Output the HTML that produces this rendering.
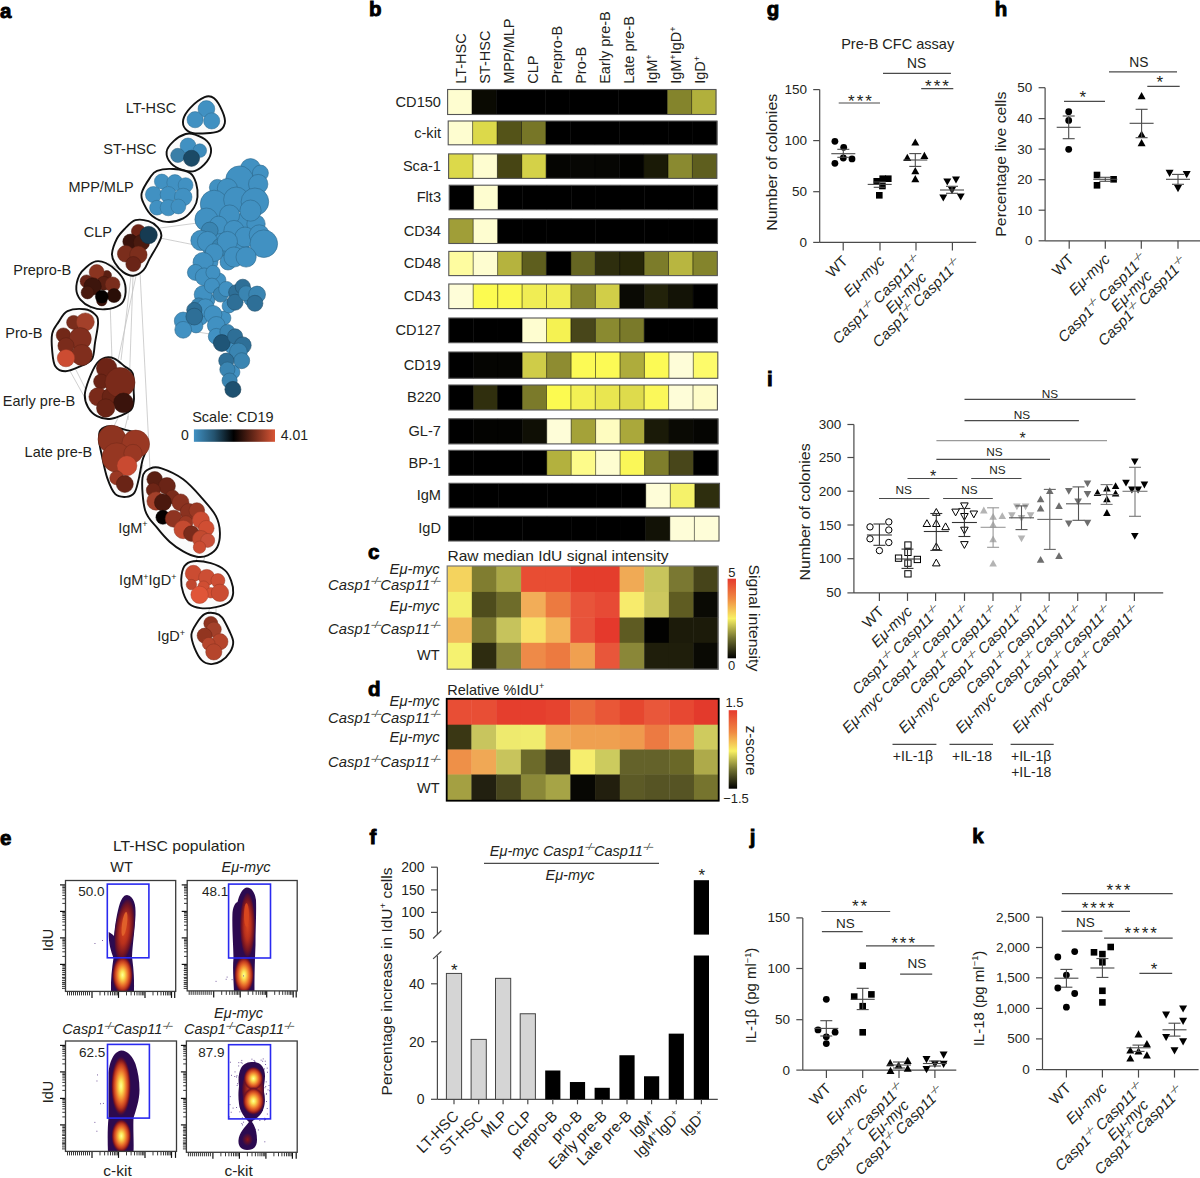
<!DOCTYPE html>
<html><head><meta charset="utf-8"><title>Figure</title>
<style>
html,body{margin:0;padding:0;background:#fff;width:1200px;height:1178px;overflow:hidden;}
svg{display:block;font-family:"Liberation Sans",sans-serif;}
</style></head><body>
<svg width="1200" height="1178" viewBox="0 0 1200 1178">
<rect width="1200" height="1178" fill="#fff"/>
<text x="0.0" y="18.4" font-size="20.5" font-weight="bold" fill="#000" stroke="#000" stroke-width="0.9">a</text>
<line x1="197.0" y1="133.0" x2="193.0" y2="136.0" stroke="#c4c4c4" stroke-width="0.8"/>
<line x1="190.0" y1="170.0" x2="185.0" y2="171.0" stroke="#c4c4c4" stroke-width="0.8"/>
<line x1="176.0" y1="170.0" x2="172.0" y2="168.0" stroke="#c4c4c4" stroke-width="0.8"/>
<line x1="160.0" y1="228.0" x2="205.0" y2="222.0" stroke="#c4c4c4" stroke-width="0.8"/>
<line x1="160.0" y1="238.0" x2="200.0" y2="246.0" stroke="#c4c4c4" stroke-width="0.8"/>
<line x1="196.0" y1="213.0" x2="205.0" y2="218.0" stroke="#c4c4c4" stroke-width="0.8"/>
<line x1="125.0" y1="272.0" x2="108.0" y2="263.0" stroke="#c4c4c4" stroke-width="0.8"/>
<line x1="133.0" y1="276.0" x2="128.0" y2="420.0" stroke="#c4c4c4" stroke-width="0.8"/>
<line x1="140.0" y1="272.0" x2="150.0" y2="468.0" stroke="#c4c4c4" stroke-width="0.8"/>
<line x1="131.0" y1="276.0" x2="121.0" y2="360.0" stroke="#c4c4c4" stroke-width="0.8"/>
<line x1="136.0" y1="276.0" x2="117.0" y2="365.0" stroke="#c4c4c4" stroke-width="0.8"/>
<line x1="90.0" y1="308.0" x2="95.0" y2="316.0" stroke="#c4c4c4" stroke-width="0.8"/>
<line x1="70.0" y1="371.0" x2="95.0" y2="416.0" stroke="#c4c4c4" stroke-width="0.8"/>
<line x1="75.0" y1="368.0" x2="100.0" y2="418.0" stroke="#c4c4c4" stroke-width="0.8"/>
<line x1="110.0" y1="300.0" x2="112.0" y2="360.0" stroke="#c4c4c4" stroke-width="0.8"/>
<line x1="118.0" y1="418.0" x2="112.0" y2="430.0" stroke="#c4c4c4" stroke-width="0.8"/>
<line x1="128.0" y1="416.0" x2="125.0" y2="428.0" stroke="#c4c4c4" stroke-width="0.8"/>
<line x1="140.0" y1="478.0" x2="143.0" y2="465.0" stroke="#c4c4c4" stroke-width="0.8"/>
<line x1="198.0" y1="556.0" x2="195.0" y2="563.0" stroke="#c4c4c4" stroke-width="0.8"/>
<line x1="205.0" y1="556.0" x2="203.0" y2="563.0" stroke="#c4c4c4" stroke-width="0.8"/>
<line x1="210.0" y1="607.0" x2="208.0" y2="614.0" stroke="#c4c4c4" stroke-width="0.8"/>
<line x1="216.0" y1="607.0" x2="216.0" y2="614.0" stroke="#c4c4c4" stroke-width="0.8"/>
<line x1="185.0" y1="330.0" x2="210.0" y2="334.0" stroke="#c4c4c4" stroke-width="0.8"/>
<circle cx="225.0" cy="200.0" r="11.5" fill="#4191c2" stroke="#2e688b" stroke-width="0.6"/>
<circle cx="245.0" cy="192.0" r="10.3" fill="#4191c2" stroke="#2e688b" stroke-width="0.6"/>
<circle cx="246.0" cy="222.0" r="10.3" fill="#4191c2" stroke="#2e688b" stroke-width="0.6"/>
<circle cx="222.0" cy="236.0" r="9.2" fill="#4191c2" stroke="#2e688b" stroke-width="0.6"/>
<circle cx="240.0" cy="247.0" r="9.2" fill="#4191c2" stroke="#2e688b" stroke-width="0.6"/>
<circle cx="256.0" cy="224.0" r="9.2" fill="#4191c2" stroke="#2e688b" stroke-width="0.6"/>
<circle cx="215.0" cy="214.0" r="9.2" fill="#4191c2" stroke="#2e688b" stroke-width="0.6"/>
<circle cx="228.0" cy="262.0" r="8.0" fill="#4191c2" stroke="#2e688b" stroke-width="0.6"/>
<circle cx="210.0" cy="262.0" r="8.0" fill="#4191c2" stroke="#2e688b" stroke-width="0.6"/>
<circle cx="208.0" cy="300.0" r="6.9" fill="#4191c2" stroke="#2e688b" stroke-width="0.6"/>
<circle cx="201.0" cy="318.0" r="6.9" fill="#4191c2" stroke="#2e688b" stroke-width="0.6"/>
<circle cx="224.0" cy="318.0" r="6.9" fill="#4191c2" stroke="#2e688b" stroke-width="0.6"/>
<circle cx="232.0" cy="347.0" r="6.9" fill="#4191c2" stroke="#2e688b" stroke-width="0.6"/>
<circle cx="233.0" cy="372.0" r="6.9" fill="#4191c2" stroke="#2e688b" stroke-width="0.6"/>
<circle cx="229.0" cy="306.0" r="6.9" fill="#4191c2" stroke="#2e688b" stroke-width="0.6"/>
<circle cx="219.0" cy="280.0" r="6.9" fill="#4191c2" stroke="#2e688b" stroke-width="0.6"/>
<circle cx="250.0" cy="300.0" r="5.8" fill="#4191c2" stroke="#2e688b" stroke-width="0.6"/>
<circle cx="196.0" cy="326.0" r="6.9" fill="#4191c2" stroke="#2e688b" stroke-width="0.6"/>
<circle cx="212.0" cy="248.0" r="9.2" fill="#4191c2" stroke="#2e688b" stroke-width="0.6"/>
<circle cx="250.5" cy="168.7" r="10.1" fill="#4191c2" stroke="#2e688b" stroke-width="0.6"/>
<circle cx="260.4" cy="173.1" r="8.0" fill="#4191c2" stroke="#2e688b" stroke-width="0.6"/>
<circle cx="239.5" cy="179.7" r="13.8" fill="#4191c2" stroke="#2e688b" stroke-width="0.6"/>
<circle cx="258.2" cy="184.1" r="9.7" fill="#4191c2" stroke="#2e688b" stroke-width="0.6"/>
<circle cx="217.4" cy="187.4" r="8.0" fill="#4191c2" stroke="#2e688b" stroke-width="0.6"/>
<circle cx="227.4" cy="188.6" r="10.1" fill="#4191c2" stroke="#2e688b" stroke-width="0.6"/>
<circle cx="214.1" cy="204.0" r="13.8" fill="#4191c2" stroke="#2e688b" stroke-width="0.6"/>
<circle cx="236.2" cy="199.6" r="12.6" fill="#4191c2" stroke="#2e688b" stroke-width="0.6"/>
<circle cx="254.9" cy="201.8" r="13.8" fill="#4191c2" stroke="#2e688b" stroke-width="0.6"/>
<circle cx="250.5" cy="210.6" r="10.6" fill="#4191c2" stroke="#2e688b" stroke-width="0.6"/>
<circle cx="206.4" cy="219.5" r="11.5" fill="#4191c2" stroke="#2e688b" stroke-width="0.6"/>
<circle cx="229.6" cy="215.0" r="10.1" fill="#4191c2" stroke="#2e688b" stroke-width="0.6"/>
<circle cx="218.5" cy="225.0" r="8.9" fill="#4191c2" stroke="#2e688b" stroke-width="0.6"/>
<circle cx="209.7" cy="230.5" r="8.4" fill="#3a85b2" stroke="#295f80" stroke-width="0.6"/>
<circle cx="234.0" cy="230.5" r="10.1" fill="#4191c2" stroke="#2e688b" stroke-width="0.6"/>
<circle cx="245.0" cy="237.1" r="10.1" fill="#4191c2" stroke="#2e688b" stroke-width="0.6"/>
<circle cx="259.3" cy="234.9" r="10.1" fill="#4191c2" stroke="#2e688b" stroke-width="0.6"/>
<circle cx="263.8" cy="243.7" r="13.8" fill="#4191c2" stroke="#2e688b" stroke-width="0.6"/>
<circle cx="200.9" cy="240.4" r="10.1" fill="#4191c2" stroke="#2e688b" stroke-width="0.6"/>
<circle cx="207.5" cy="241.5" r="10.1" fill="#4191c2" stroke="#2e688b" stroke-width="0.6"/>
<circle cx="220.7" cy="247.0" r="8.9" fill="#3a85b2" stroke="#295f80" stroke-width="0.6"/>
<circle cx="227.4" cy="241.5" r="10.1" fill="#4191c2" stroke="#2e688b" stroke-width="0.6"/>
<circle cx="234.0" cy="257.0" r="10.1" fill="#4191c2" stroke="#2e688b" stroke-width="0.6"/>
<circle cx="246.1" cy="257.0" r="10.1" fill="#4191c2" stroke="#2e688b" stroke-width="0.6"/>
<circle cx="214.1" cy="252.6" r="8.9" fill="#4191c2" stroke="#2e688b" stroke-width="0.6"/>
<circle cx="203.1" cy="262.5" r="10.1" fill="#4191c2" stroke="#2e688b" stroke-width="0.6"/>
<circle cx="195.4" cy="272.4" r="8.0" fill="#4191c2" stroke="#2e688b" stroke-width="0.6"/>
<circle cx="204.2" cy="276.8" r="8.9" fill="#4191c2" stroke="#2e688b" stroke-width="0.6"/>
<circle cx="213.0" cy="272.4" r="7.1" fill="#4191c2" stroke="#2e688b" stroke-width="0.6"/>
<circle cx="203.1" cy="294.5" r="8.9" fill="#4191c2" stroke="#2e688b" stroke-width="0.6"/>
<circle cx="211.9" cy="285.7" r="7.6" fill="#4191c2" stroke="#2e688b" stroke-width="0.6"/>
<circle cx="220.7" cy="294.5" r="7.6" fill="#3a85b2" stroke="#295f80" stroke-width="0.6"/>
<circle cx="226.3" cy="289.0" r="7.6" fill="#4191c2" stroke="#2e688b" stroke-width="0.6"/>
<circle cx="236.2" cy="292.3" r="7.6" fill="#2e6f97" stroke="#214f6c" stroke-width="0.6"/>
<circle cx="235.1" cy="302.2" r="8.0" fill="#2e6f97" stroke="#214f6c" stroke-width="0.6"/>
<circle cx="242.8" cy="286.8" r="7.6" fill="#2e6f97" stroke="#214f6c" stroke-width="0.6"/>
<circle cx="246.1" cy="293.4" r="7.6" fill="#3a85b2" stroke="#295f80" stroke-width="0.6"/>
<circle cx="257.1" cy="294.5" r="8.4" fill="#3a85b2" stroke="#295f80" stroke-width="0.6"/>
<circle cx="254.9" cy="303.3" r="8.0" fill="#2e6f97" stroke="#214f6c" stroke-width="0.6"/>
<circle cx="198.7" cy="305.5" r="7.6" fill="#3a85b2" stroke="#295f80" stroke-width="0.6"/>
<circle cx="205.3" cy="307.7" r="8.9" fill="#4191c2" stroke="#2e688b" stroke-width="0.6"/>
<circle cx="183.2" cy="321.0" r="8.9" fill="#4191c2" stroke="#2e688b" stroke-width="0.6"/>
<circle cx="183.2" cy="329.8" r="8.4" fill="#4191c2" stroke="#2e688b" stroke-width="0.6"/>
<circle cx="194.3" cy="310.0" r="7.6" fill="#2e6f97" stroke="#214f6c" stroke-width="0.6"/>
<circle cx="194.3" cy="316.6" r="8.4" fill="#2e6f97" stroke="#214f6c" stroke-width="0.6"/>
<circle cx="213.0" cy="314.4" r="8.9" fill="#4191c2" stroke="#2e688b" stroke-width="0.6"/>
<circle cx="216.3" cy="325.4" r="8.9" fill="#4191c2" stroke="#2e688b" stroke-width="0.6"/>
<circle cx="216.3" cy="336.4" r="8.0" fill="#4191c2" stroke="#2e688b" stroke-width="0.6"/>
<circle cx="227.4" cy="332.0" r="7.6" fill="#3a85b2" stroke="#295f80" stroke-width="0.6"/>
<circle cx="221.8" cy="343.0" r="8.4" fill="#1f5577" stroke="#163d55" stroke-width="0.6"/>
<circle cx="235.1" cy="336.4" r="7.6" fill="#2e6f97" stroke="#214f6c" stroke-width="0.6"/>
<circle cx="242.8" cy="345.3" r="8.4" fill="#2e6f97" stroke="#214f6c" stroke-width="0.6"/>
<circle cx="238.4" cy="351.9" r="8.9" fill="#3a85b2" stroke="#295f80" stroke-width="0.6"/>
<circle cx="241.7" cy="360.7" r="8.0" fill="#3a85b2" stroke="#295f80" stroke-width="0.6"/>
<circle cx="226.3" cy="360.7" r="7.6" fill="#2e6f97" stroke="#214f6c" stroke-width="0.6"/>
<circle cx="227.4" cy="369.5" r="7.6" fill="#3a85b2" stroke="#295f80" stroke-width="0.6"/>
<circle cx="229.6" cy="380.6" r="7.6" fill="#3a85b2" stroke="#295f80" stroke-width="0.6"/>
<circle cx="232.9" cy="389.4" r="8.0" fill="#1e5170" stroke="#153a50" stroke-width="0.6"/>
<path d="M183.2,119.7 C184.0,116.1 186.7,111.6 190.3,107.8 C193.9,104.0 200.6,98.7 204.6,97.1 C208.6,95.5 211.1,95.9 214.1,98.3 C217.1,100.7 220.6,107.2 222.4,111.4 C224.2,115.6 225.6,119.9 224.8,123.3 C224.0,126.7 222.6,129.9 217.7,131.6 C212.8,133.3 200.4,133.8 195.1,133.4 C189.8,133.0 187.6,131.5 185.6,129.2 C183.6,126.9 182.4,123.3 183.2,119.7Z" fill="#fbfbfb" stroke="#111" stroke-width="1.9"/>
<circle cx="206.4" cy="109.0" r="8.4" fill="#4191c2" stroke="#306c91" stroke-width="0.5"/>
<circle cx="195.1" cy="119.7" r="8.1" fill="#4191c2" stroke="#306c91" stroke-width="0.5"/>
<circle cx="211.7" cy="120.9" r="8.1" fill="#4191c2" stroke="#306c91" stroke-width="0.5"/>
<path d="M166.6,151.8 C167.0,148.0 170.5,144.1 173.7,141.1 C176.9,138.1 182.0,135.1 185.6,134.0 C189.2,132.9 191.5,133.4 195.1,134.6 C198.7,135.8 204.3,138.4 207.0,141.1 C209.7,143.8 211.1,147.2 211.1,150.6 C211.1,154.0 209.7,157.9 207.0,161.3 C204.3,164.7 199.1,169.3 195.1,170.8 C191.1,172.3 187.2,171.4 183.2,170.2 C179.2,169.0 174.1,166.8 171.3,163.7 C168.5,160.6 166.2,155.6 166.6,151.8Z" fill="#fbfbfb" stroke="#111" stroke-width="1.9"/>
<circle cx="188.0" cy="145.9" r="7.9" fill="#4191c2" stroke="#306c91" stroke-width="0.5"/>
<circle cx="199.8" cy="150.6" r="6.8" fill="#3d8bbb" stroke="#2d688c" stroke-width="0.5"/>
<circle cx="177.8" cy="155.4" r="7.1" fill="#3a7fa8" stroke="#2b5f7e" stroke-width="0.5"/>
<circle cx="191.5" cy="158.3" r="8.1" fill="#1b4a66" stroke="#14374c" stroke-width="0.5"/>
<path d="M141.6,193.4 C142.6,189.0 147.3,181.7 149.9,177.9 C152.5,174.1 153.0,172.3 157.0,170.8 C161.0,169.3 168.1,168.6 173.7,169.0 C179.2,169.4 186.5,170.7 190.3,173.2 C194.1,175.7 195.1,179.9 196.3,183.9 C197.5,187.9 197.9,193.0 197.5,197.0 C197.1,201.0 196.3,204.1 193.9,207.7 C191.5,211.3 187.8,216.0 183.2,218.4 C178.6,220.8 171.8,222.3 166.6,221.9 C161.4,221.5 156.1,219.0 152.3,216.0 C148.5,213.0 145.8,207.9 144.0,204.1 C142.2,200.3 140.6,197.8 141.6,193.4Z" fill="#fbfbfb" stroke="#111" stroke-width="1.9"/>
<circle cx="161.8" cy="181.5" r="7.4" fill="#4191c2" stroke="#306c91" stroke-width="0.5"/>
<circle cx="174.9" cy="182.7" r="8.1" fill="#4191c2" stroke="#306c91" stroke-width="0.5"/>
<circle cx="185.6" cy="185.1" r="7.4" fill="#4191c2" stroke="#306c91" stroke-width="0.5"/>
<circle cx="153.5" cy="194.6" r="8.1" fill="#4191c2" stroke="#306c91" stroke-width="0.5"/>
<circle cx="168.3" cy="194.6" r="8.1" fill="#4191c2" stroke="#306c91" stroke-width="0.5"/>
<circle cx="183.2" cy="197.0" r="8.8" fill="#4191c2" stroke="#306c91" stroke-width="0.5"/>
<circle cx="157.0" cy="207.7" r="7.4" fill="#4191c2" stroke="#306c91" stroke-width="0.5"/>
<circle cx="168.3" cy="207.7" r="8.1" fill="#4191c2" stroke="#306c91" stroke-width="0.5"/>
<circle cx="178.4" cy="206.5" r="7.4" fill="#4191c2" stroke="#306c91" stroke-width="0.5"/>
<path d="M112.0,253.8 C112.3,249.7 114.8,242.8 117.0,238.5 C119.2,234.2 122.1,231.4 125.2,228.3 C128.3,225.2 131.5,221.4 135.4,220.2 C139.3,219.0 144.9,220.0 148.6,221.2 C152.3,222.4 155.7,224.9 157.8,227.3 C159.9,229.7 161.4,232.6 161.4,235.5 C161.4,238.4 159.8,240.7 157.8,244.6 C155.8,248.5 152.0,254.6 149.6,258.9 C147.2,263.1 146.2,267.3 143.5,270.1 C140.8,272.9 136.7,275.4 133.3,275.7 C129.9,276.0 126.2,274.2 123.2,272.1 C120.2,270.0 116.9,266.1 115.0,263.0 C113.1,259.9 111.7,257.9 112.0,253.8Z" fill="#fbfbfb" stroke="#111" stroke-width="1.9"/>
<circle cx="138.4" cy="231.4" r="7.0" fill="#6e2416" stroke="#521b10" stroke-width="0.5"/>
<circle cx="130.3" cy="241.6" r="7.5" fill="#3a130c" stroke="#2b0e09" stroke-width="0.5"/>
<circle cx="141.5" cy="242.6" r="8.1" fill="#4a1a0f" stroke="#37130b" stroke-width="0.5"/>
<circle cx="148.6" cy="235.0" r="8.7" fill="#163b52" stroke="#102c3d" stroke-width="0.5"/>
<circle cx="125.7" cy="253.8" r="8.3" fill="#7a2d1c" stroke="#5b2115" stroke-width="0.5"/>
<circle cx="138.4" cy="254.8" r="8.7" fill="#7c2e1c" stroke="#5d2215" stroke-width="0.5"/>
<circle cx="133.3" cy="264.0" r="7.5" fill="#6a2417" stroke="#4f1b11" stroke-width="0.5"/>
<path d="M76.3,289.5 C76.1,285.4 77.7,278.9 79.4,275.2 C81.1,271.4 83.8,269.3 86.5,267.0 C89.2,264.7 92.5,262.1 95.7,261.4 C98.9,260.7 102.2,261.4 105.8,263.0 C109.3,264.6 113.9,268.1 117.0,271.1 C120.1,274.2 122.8,277.2 124.2,281.3 C125.6,285.4 125.9,291.7 125.2,295.6 C124.5,299.5 123.5,302.4 120.1,304.7 C116.7,307.0 109.7,308.9 104.8,309.3 C99.9,309.7 94.7,308.4 90.6,306.8 C86.5,305.2 82.8,302.5 80.4,299.6 C78.0,296.7 76.5,293.6 76.3,289.5Z" fill="#fbfbfb" stroke="#111" stroke-width="1.9"/>
<circle cx="106.9" cy="275.2" r="4.6" fill="#5a1f12" stroke="#43170d" stroke-width="0.5"/>
<circle cx="96.7" cy="272.1" r="7.5" fill="#8a3420" stroke="#672718" stroke-width="0.5"/>
<circle cx="86.5" cy="281.3" r="6.4" fill="#6a2417" stroke="#4f1b11" stroke-width="0.5"/>
<circle cx="103.8" cy="283.3" r="7.0" fill="#5a1f12" stroke="#43170d" stroke-width="0.5"/>
<circle cx="112.5" cy="284.4" r="7.5" fill="#7a2d1c" stroke="#5b2115" stroke-width="0.5"/>
<circle cx="92.6" cy="286.4" r="8.7" fill="#3d150c" stroke="#2d0f09" stroke-width="0.5"/>
<circle cx="87.5" cy="292.5" r="6.4" fill="#4a1a0f" stroke="#37130b" stroke-width="0.5"/>
<circle cx="114.0" cy="295.6" r="7.0" fill="#2a0e07" stroke="#1f0a05" stroke-width="0.5"/>
<circle cx="101.8" cy="300.7" r="5.2" fill="#3a120a" stroke="#2b0d07" stroke-width="0.5"/>
<circle cx="101.8" cy="296.6" r="6.4" fill="#050100" stroke="#030000" stroke-width="0.5"/>
<path d="M52.2,333.6 C53.2,328.9 55.8,326.1 58.3,322.4 C60.8,318.7 63.1,313.4 67.5,311.2 C71.9,309.0 80.2,308.7 84.8,309.2 C89.4,309.7 92.8,312.1 95.0,314.3 C97.2,316.5 98.1,317.6 98.1,322.4 C98.1,327.1 96.0,336.7 95.0,342.8 C94.0,348.9 94.4,355.2 92.0,359.1 C89.6,363.0 85.1,364.2 80.7,366.2 C76.3,368.2 69.7,371.3 65.5,371.3 C61.3,371.3 57.5,369.6 55.3,366.2 C53.1,362.8 52.7,356.3 52.2,350.9 C51.7,345.5 51.2,338.4 52.2,333.6Z" fill="#fbfbfb" stroke="#111" stroke-width="1.9"/>
<circle cx="73.6" cy="322.4" r="7.0" fill="#7a2d1c" stroke="#5b2115" stroke-width="0.5"/>
<circle cx="85.3" cy="321.9" r="9.0" fill="#a3402a" stroke="#7a301f" stroke-width="0.5"/>
<circle cx="63.4" cy="335.1" r="7.2" fill="#722818" stroke="#551e12" stroke-width="0.5"/>
<circle cx="80.2" cy="338.7" r="11.1" fill="#822f1e" stroke="#612316" stroke-width="0.5"/>
<circle cx="66.0" cy="345.8" r="8.1" fill="#7a2b1b" stroke="#5b2014" stroke-width="0.5"/>
<circle cx="81.8" cy="355.0" r="10.5" fill="#802e1d" stroke="#602215" stroke-width="0.5"/>
<circle cx="66.0" cy="358.1" r="8.7" fill="#cc4c32" stroke="#993925" stroke-width="0.5"/>
<path d="M84.8,394.7 C85.0,390.1 86.9,384.8 88.9,379.5 C90.9,374.2 94.3,366.8 97.0,363.2 C99.7,359.6 102.3,358.4 105.2,357.6 C108.1,356.8 111.2,357.2 114.4,358.6 C117.6,360.0 121.5,363.8 124.5,366.2 C127.5,368.6 131.2,369.1 132.7,373.3 C134.2,377.6 133.5,386.9 133.7,391.7 C133.9,396.5 134.4,398.7 133.7,401.9 C133.0,405.1 133.3,408.2 129.6,411.0 C125.9,413.8 116.7,417.8 111.3,418.7 C105.9,419.6 100.9,418.1 97.0,416.1 C93.1,414.2 89.9,410.6 87.9,407.0 C85.9,403.4 84.6,399.3 84.8,394.7Z" fill="#fbfbfb" stroke="#111" stroke-width="1.9"/>
<circle cx="106.7" cy="368.2" r="10.3" fill="#6e2416" stroke="#521b10" stroke-width="0.5"/>
<circle cx="101.1" cy="381.5" r="7.5" fill="#6a2315" stroke="#4f1a0f" stroke-width="0.5"/>
<circle cx="98.1" cy="396.8" r="9.2" fill="#7a2a1a" stroke="#5b1f13" stroke-width="0.5"/>
<circle cx="111.3" cy="396.8" r="9.2" fill="#6a2415" stroke="#4f1b0f" stroke-width="0.5"/>
<circle cx="120.0" cy="382.5" r="15.0" fill="#7a2a1a" stroke="#5b1f13" stroke-width="0.5"/>
<circle cx="123.5" cy="402.9" r="9.9" fill="#3a130c" stroke="#2b0e09" stroke-width="0.5"/>
<circle cx="105.7" cy="408.0" r="9.2" fill="#6a2415" stroke="#4f1b0f" stroke-width="0.5"/>
<path d="M99.0,439.9 C98.8,435.8 98.6,432.7 100.4,430.4 C102.2,428.1 105.8,426.4 109.9,426.3 C114.0,426.2 119.8,428.4 124.8,429.7 C129.8,431.0 136.1,431.8 139.8,434.4 C143.5,437.0 146.8,441.0 147.2,445.3 C147.6,449.6 144.0,454.4 142.5,460.3 C141.0,466.2 139.8,475.2 138.4,480.6 C137.0,486.0 136.3,490.2 134.3,492.9 C132.3,495.6 129.4,496.7 126.2,496.9 C123.0,497.1 118.5,497.4 115.3,494.2 C112.1,491.0 109.5,484.5 107.2,477.9 C104.9,471.3 103.1,461.1 101.7,454.8 C100.3,448.5 99.2,444.0 99.0,439.9Z" fill="#fbfbfb" stroke="#111" stroke-width="1.9"/>
<circle cx="111.9" cy="439.2" r="13.9" fill="#8e3420" stroke="#6a2718" stroke-width="0.5"/>
<circle cx="135.7" cy="444.0" r="13.9" fill="#993823" stroke="#722a1a" stroke-width="0.5"/>
<circle cx="116.7" cy="457.5" r="14.7" fill="#963722" stroke="#702919" stroke-width="0.5"/>
<circle cx="133.0" cy="453.5" r="9.2" fill="#9a3823" stroke="#732a1a" stroke-width="0.5"/>
<circle cx="126.9" cy="465.7" r="10.0" fill="#c94a31" stroke="#963724" stroke-width="0.5"/>
<circle cx="116.7" cy="477.9" r="7.0" fill="#9a3823" stroke="#732a1a" stroke-width="0.5"/>
<circle cx="124.8" cy="484.0" r="8.5" fill="#6a2416" stroke="#4f1b10" stroke-width="0.5"/>
<path d="M142.5,477.9 C143.4,470.9 147.4,470.0 150.6,468.4 C153.8,466.8 156.1,466.6 161.5,468.4 C166.9,470.2 176.4,474.3 183.2,479.3 C190.0,484.3 196.8,492.2 202.2,498.3 C207.6,504.4 212.9,510.2 215.8,515.9 C218.8,521.5 219.7,527.0 219.9,532.2 C220.1,537.4 219.2,543.4 217.2,547.2 C215.2,551.1 211.1,553.7 207.7,555.3 C204.3,556.9 200.9,557.4 196.8,556.7 C192.7,556.0 187.7,553.8 183.2,551.3 C178.7,548.8 173.9,545.6 169.6,541.7 C165.3,537.9 161.5,533.4 157.4,528.2 C153.3,523.0 147.7,518.9 145.2,510.5 C142.7,502.1 141.6,484.9 142.5,477.9Z" fill="#fbfbfb" stroke="#111" stroke-width="1.9"/>
<circle cx="154.7" cy="479.3" r="7.8" fill="#5a1f12" stroke="#43170d" stroke-width="0.5"/>
<circle cx="166.9" cy="486.1" r="8.5" fill="#6a2416" stroke="#4f1b10" stroke-width="0.5"/>
<circle cx="153.3" cy="490.1" r="7.0" fill="#6e2516" stroke="#521b10" stroke-width="0.5"/>
<circle cx="172.4" cy="496.9" r="7.0" fill="#7a2b1b" stroke="#5b2014" stroke-width="0.5"/>
<circle cx="156.1" cy="501.0" r="9.2" fill="#a3402a" stroke="#7a301f" stroke-width="0.5"/>
<circle cx="180.5" cy="502.4" r="8.5" fill="#8a3220" stroke="#672518" stroke-width="0.5"/>
<circle cx="162.9" cy="502.4" r="8.5" fill="#4a180e" stroke="#37120a" stroke-width="0.5"/>
<circle cx="188.7" cy="511.9" r="8.5" fill="#8a3220" stroke="#672518" stroke-width="0.5"/>
<circle cx="196.8" cy="510.5" r="7.8" fill="#9a3823" stroke="#732a1a" stroke-width="0.5"/>
<circle cx="162.9" cy="517.3" r="7.0" fill="#050000" stroke="#030000" stroke-width="0.5"/>
<circle cx="173.7" cy="518.7" r="8.5" fill="#8e3421" stroke="#6a2718" stroke-width="0.5"/>
<circle cx="185.9" cy="522.7" r="7.0" fill="#9a3823" stroke="#732a1a" stroke-width="0.5"/>
<circle cx="200.9" cy="520.0" r="8.5" fill="#cc4c32" stroke="#993925" stroke-width="0.5"/>
<circle cx="206.3" cy="528.2" r="7.8" fill="#d04e33" stroke="#9c3a26" stroke-width="0.5"/>
<circle cx="183.2" cy="529.5" r="9.2" fill="#c44a30" stroke="#933724" stroke-width="0.5"/>
<circle cx="191.4" cy="533.6" r="7.8" fill="#7a2b1b" stroke="#5b2014" stroke-width="0.5"/>
<circle cx="200.9" cy="539.0" r="8.5" fill="#c24a30" stroke="#913724" stroke-width="0.5"/>
<circle cx="207.7" cy="540.4" r="7.0" fill="#c9503a" stroke="#963c2b" stroke-width="0.5"/>
<circle cx="199.5" cy="547.2" r="6.2" fill="#cc4c32" stroke="#993925" stroke-width="0.5"/>
<path d="M181.2,579.6 C181.4,575.2 182.3,569.4 184.3,566.3 C186.3,563.2 189.0,561.7 193.4,561.2 C197.8,560.7 205.5,561.7 210.8,563.2 C216.1,564.7 221.6,567.5 225.0,570.4 C228.4,573.3 229.7,576.9 231.1,580.6 C232.5,584.3 233.5,589.2 233.2,592.8 C232.9,596.4 232.0,599.6 229.1,602.0 C226.2,604.4 220.7,606.1 215.9,607.1 C211.2,608.1 205.0,608.6 200.6,608.1 C196.2,607.6 192.3,606.5 189.4,604.0 C186.5,601.5 184.6,596.9 183.2,592.8 C181.8,588.7 181.0,584.0 181.2,579.6Z" fill="#fbfbfb" stroke="#111" stroke-width="1.9"/>
<circle cx="193.4" cy="573.4" r="8.1" fill="#cb4c32" stroke="#983925" stroke-width="0.5"/>
<circle cx="206.7" cy="577.5" r="8.1" fill="#cc4e34" stroke="#993a27" stroke-width="0.5"/>
<circle cx="217.9" cy="580.6" r="7.0" fill="#cd4e34" stroke="#993a27" stroke-width="0.5"/>
<circle cx="191.4" cy="584.6" r="5.2" fill="#c04830" stroke="#903624" stroke-width="0.5"/>
<circle cx="203.6" cy="586.7" r="5.8" fill="#d04e33" stroke="#9c3a26" stroke-width="0.5"/>
<circle cx="210.8" cy="592.8" r="5.2" fill="#d65034" stroke="#a03c27" stroke-width="0.5"/>
<circle cx="219.9" cy="592.8" r="8.7" fill="#cb4c32" stroke="#983925" stroke-width="0.5"/>
<circle cx="199.6" cy="594.8" r="8.7" fill="#e05538" stroke="#a83f2a" stroke-width="0.5"/>
<path d="M191.4,634.6 C191.7,630.5 194.3,626.8 196.5,623.4 C198.7,620.0 201.5,615.9 204.6,614.2 C207.7,612.5 211.9,612.7 214.8,613.2 C217.7,613.7 219.6,614.4 222.0,617.3 C224.4,620.2 227.2,626.4 229.1,630.5 C231.0,634.6 233.0,638.1 233.2,641.7 C233.4,645.3 232.1,648.7 230.1,651.9 C228.1,655.1 224.2,659.1 221.0,661.1 C217.8,663.1 214.0,664.3 210.8,664.1 C207.6,663.9 204.3,662.8 201.6,660.1 C198.9,657.4 196.2,652.0 194.5,647.8 C192.8,643.5 191.1,638.7 191.4,634.6Z" fill="#fbfbfb" stroke="#111" stroke-width="1.9"/>
<circle cx="210.8" cy="623.4" r="7.0" fill="#8f3420" stroke="#6b2718" stroke-width="0.5"/>
<circle cx="213.8" cy="629.5" r="7.5" fill="#a3402a" stroke="#7a301f" stroke-width="0.5"/>
<circle cx="204.6" cy="635.6" r="7.5" fill="#923520" stroke="#6d2718" stroke-width="0.5"/>
<circle cx="219.9" cy="641.7" r="8.1" fill="#b5452c" stroke="#873321" stroke-width="0.5"/>
<circle cx="208.7" cy="643.8" r="6.4" fill="#b5452c" stroke="#873321" stroke-width="0.5"/>
<circle cx="213.8" cy="651.9" r="8.1" fill="#b5452c" stroke="#873321" stroke-width="0.5"/>
<text x="176.2" y="112.6" font-size="14.5" text-anchor="end" fill="#231f20">LT-HSC</text>
<text x="156.5" y="154.4" font-size="14.5" text-anchor="end" fill="#231f20">ST-HSC</text>
<text x="133.7" y="191.5" font-size="14.5" text-anchor="end" fill="#231f20">MPP/MLP</text>
<text x="112.0" y="236.8" font-size="14.5" text-anchor="end" fill="#231f20">CLP</text>
<text x="71.3" y="275.0" font-size="14.5" text-anchor="end" fill="#231f20">Prepro-B</text>
<text x="42.4" y="338.4" font-size="14.5" text-anchor="end" fill="#231f20">Pro-B</text>
<text x="75.3" y="406.2" font-size="14.5" text-anchor="end" fill="#231f20">Early pre-B</text>
<text x="92.3" y="457.1" font-size="14.5" text-anchor="end" fill="#231f20">Late pre-B</text>
<text x="147.6" y="532.8" font-size="14.5" text-anchor="end" fill="#231f20"><tspan>IgM</tspan><tspan font-size="9.0" dy="-5.5">+</tspan></text>
<text x="176.4" y="585.4" font-size="14.5" text-anchor="end" fill="#231f20"><tspan>IgM</tspan><tspan font-size="9.0" dy="-5.5">+</tspan><tspan dy="5.5">IgD</tspan><tspan font-size="9.0" dy="-5.5">+</tspan></text>
<text x="185.0" y="641.4" font-size="14.5" text-anchor="end" fill="#231f20"><tspan>IgD</tspan><tspan font-size="9.0" dy="-5.5">+</tspan></text>
<defs><linearGradient id="gA" x1="0" x2="1" y1="0" y2="0"><stop offset="0" stop-color="#4090c2"/><stop offset="0.25" stop-color="#24536f"/><stop offset="0.49" stop-color="#000"/><stop offset="0.75" stop-color="#6e2a1a"/><stop offset="1" stop-color="#d85535"/></linearGradient></defs>
<rect x="193.90" y="429.40" width="81.10" height="12.40" fill="url(#gA)"/>
<text x="192.2" y="422.2" font-size="14.5" fill="#231f20">Scale: CD19</text>
<text x="181.1" y="440.3" font-size="14" fill="#231f20">0</text>
<text x="280.8" y="440.3" font-size="14" fill="#231f20">4.01</text>
<text x="369.0" y="15.7" font-size="20.5" font-weight="bold" fill="#000" stroke="#000" stroke-width="0.9">b</text>
<rect x="447.60" y="89.50" width="24.70" height="25.00" fill="#fefdd0"/>
<rect x="472.00" y="89.50" width="24.70" height="25.00" fill="#0a0a02"/>
<rect x="496.40" y="89.50" width="24.70" height="25.00" fill="#000000"/>
<rect x="520.80" y="89.50" width="24.70" height="25.00" fill="#000000"/>
<rect x="545.20" y="89.50" width="24.70" height="25.00" fill="#000000"/>
<rect x="569.60" y="89.50" width="24.70" height="25.00" fill="#000000"/>
<rect x="594.00" y="89.50" width="24.70" height="25.00" fill="#000000"/>
<rect x="618.40" y="89.50" width="24.70" height="25.00" fill="#000000"/>
<rect x="642.80" y="89.50" width="24.70" height="25.00" fill="#000000"/>
<rect x="667.20" y="89.50" width="24.70" height="25.00" fill="#84842c"/>
<rect x="691.60" y="89.50" width="24.70" height="25.00" fill="#b1b03c"/>
<line x1="472.0" y1="89.5" x2="472.0" y2="114.5" stroke="#000" stroke-width="0.8" stroke-opacity="0.65"/>
<line x1="496.4" y1="89.5" x2="496.4" y2="114.5" stroke="#000" stroke-width="0.8" stroke-opacity="0.65"/>
<line x1="520.8" y1="89.5" x2="520.8" y2="114.5" stroke="#000" stroke-width="0.8" stroke-opacity="0.65"/>
<line x1="545.2" y1="89.5" x2="545.2" y2="114.5" stroke="#000" stroke-width="0.8" stroke-opacity="0.65"/>
<line x1="569.6" y1="89.5" x2="569.6" y2="114.5" stroke="#000" stroke-width="0.8" stroke-opacity="0.65"/>
<line x1="594.0" y1="89.5" x2="594.0" y2="114.5" stroke="#000" stroke-width="0.8" stroke-opacity="0.65"/>
<line x1="618.4" y1="89.5" x2="618.4" y2="114.5" stroke="#000" stroke-width="0.8" stroke-opacity="0.65"/>
<line x1="642.8" y1="89.5" x2="642.8" y2="114.5" stroke="#000" stroke-width="0.8" stroke-opacity="0.65"/>
<line x1="667.2" y1="89.5" x2="667.2" y2="114.5" stroke="#000" stroke-width="0.8" stroke-opacity="0.65"/>
<line x1="691.6" y1="89.5" x2="691.6" y2="114.5" stroke="#000" stroke-width="0.8" stroke-opacity="0.65"/>
<rect x="447.60" y="89.50" width="268.40" height="25.00" fill="none" stroke="#555" stroke-width="1.1"/>
<text x="441.0" y="106.6" font-size="15.4" text-anchor="end" fill="#231f20" textLength="45.4" lengthAdjust="spacingAndGlyphs">CD150</text>
<rect x="448.20" y="121.00" width="24.74" height="23.80" fill="#fefdd0"/>
<rect x="472.64" y="121.00" width="24.74" height="23.80" fill="#dcd94a"/>
<rect x="497.07" y="121.00" width="24.74" height="23.80" fill="#545318"/>
<rect x="521.51" y="121.00" width="24.74" height="23.80" fill="#777627"/>
<rect x="545.95" y="121.00" width="24.74" height="23.80" fill="#000000"/>
<rect x="570.38" y="121.00" width="24.74" height="23.80" fill="#000000"/>
<rect x="594.82" y="121.00" width="24.74" height="23.80" fill="#000000"/>
<rect x="619.25" y="121.00" width="24.74" height="23.80" fill="#000000"/>
<rect x="643.69" y="121.00" width="24.74" height="23.80" fill="#000000"/>
<rect x="668.13" y="121.00" width="24.74" height="23.80" fill="#000000"/>
<rect x="692.56" y="121.00" width="24.74" height="23.80" fill="#000000"/>
<line x1="472.6" y1="121.0" x2="472.6" y2="144.8" stroke="#000" stroke-width="0.8" stroke-opacity="0.65"/>
<line x1="497.1" y1="121.0" x2="497.1" y2="144.8" stroke="#000" stroke-width="0.8" stroke-opacity="0.65"/>
<line x1="521.5" y1="121.0" x2="521.5" y2="144.8" stroke="#000" stroke-width="0.8" stroke-opacity="0.65"/>
<line x1="545.9" y1="121.0" x2="545.9" y2="144.8" stroke="#000" stroke-width="0.8" stroke-opacity="0.65"/>
<line x1="570.4" y1="121.0" x2="570.4" y2="144.8" stroke="#000" stroke-width="0.8" stroke-opacity="0.65"/>
<line x1="594.8" y1="121.0" x2="594.8" y2="144.8" stroke="#000" stroke-width="0.8" stroke-opacity="0.65"/>
<line x1="619.3" y1="121.0" x2="619.3" y2="144.8" stroke="#000" stroke-width="0.8" stroke-opacity="0.65"/>
<line x1="643.7" y1="121.0" x2="643.7" y2="144.8" stroke="#000" stroke-width="0.8" stroke-opacity="0.65"/>
<line x1="668.1" y1="121.0" x2="668.1" y2="144.8" stroke="#000" stroke-width="0.8" stroke-opacity="0.65"/>
<line x1="692.6" y1="121.0" x2="692.6" y2="144.8" stroke="#000" stroke-width="0.8" stroke-opacity="0.65"/>
<rect x="448.20" y="121.00" width="268.80" height="23.80" fill="none" stroke="#555" stroke-width="1.1"/>
<text x="441.0" y="137.5" font-size="15.4" text-anchor="end" fill="#231f20" textLength="26.8" lengthAdjust="spacingAndGlyphs">c-kit</text>
<rect x="448.60" y="153.90" width="24.68" height="24.50" fill="#dcd94a"/>
<rect x="472.98" y="153.90" width="24.68" height="24.50" fill="#fefdd0"/>
<rect x="497.36" y="153.90" width="24.68" height="24.50" fill="#474514"/>
<rect x="521.75" y="153.90" width="24.68" height="24.50" fill="#d4d148"/>
<rect x="546.13" y="153.90" width="24.68" height="24.50" fill="#050502"/>
<rect x="570.51" y="153.90" width="24.68" height="24.50" fill="#070704"/>
<rect x="594.89" y="153.90" width="24.68" height="24.50" fill="#060603"/>
<rect x="619.27" y="153.90" width="24.68" height="24.50" fill="#020200"/>
<rect x="643.65" y="153.90" width="24.68" height="24.50" fill="#1a1a06"/>
<rect x="668.04" y="153.90" width="24.68" height="24.50" fill="#8a8a30"/>
<rect x="692.42" y="153.90" width="24.68" height="24.50" fill="#5e5e1e"/>
<line x1="473.0" y1="153.9" x2="473.0" y2="178.4" stroke="#000" stroke-width="0.8" stroke-opacity="0.65"/>
<line x1="497.4" y1="153.9" x2="497.4" y2="178.4" stroke="#000" stroke-width="0.8" stroke-opacity="0.65"/>
<line x1="521.7" y1="153.9" x2="521.7" y2="178.4" stroke="#000" stroke-width="0.8" stroke-opacity="0.65"/>
<line x1="546.1" y1="153.9" x2="546.1" y2="178.4" stroke="#000" stroke-width="0.8" stroke-opacity="0.65"/>
<line x1="570.5" y1="153.9" x2="570.5" y2="178.4" stroke="#000" stroke-width="0.8" stroke-opacity="0.65"/>
<line x1="594.9" y1="153.9" x2="594.9" y2="178.4" stroke="#000" stroke-width="0.8" stroke-opacity="0.65"/>
<line x1="619.3" y1="153.9" x2="619.3" y2="178.4" stroke="#000" stroke-width="0.8" stroke-opacity="0.65"/>
<line x1="643.7" y1="153.9" x2="643.7" y2="178.4" stroke="#000" stroke-width="0.8" stroke-opacity="0.65"/>
<line x1="668.0" y1="153.9" x2="668.0" y2="178.4" stroke="#000" stroke-width="0.8" stroke-opacity="0.65"/>
<line x1="692.4" y1="153.9" x2="692.4" y2="178.4" stroke="#000" stroke-width="0.8" stroke-opacity="0.65"/>
<rect x="448.60" y="153.90" width="268.20" height="24.50" fill="none" stroke="#555" stroke-width="1.1"/>
<text x="441.0" y="170.8" font-size="15.4" text-anchor="end" fill="#231f20" textLength="38.1" lengthAdjust="spacingAndGlyphs">Sca-1</text>
<rect x="449.20" y="185.20" width="24.70" height="24.60" fill="#000000"/>
<rect x="473.60" y="185.20" width="24.70" height="24.60" fill="#fefdd0"/>
<rect x="498.00" y="185.20" width="24.70" height="24.60" fill="#000000"/>
<rect x="522.40" y="185.20" width="24.70" height="24.60" fill="#000000"/>
<rect x="546.80" y="185.20" width="24.70" height="24.60" fill="#000000"/>
<rect x="571.20" y="185.20" width="24.70" height="24.60" fill="#000000"/>
<rect x="595.60" y="185.20" width="24.70" height="24.60" fill="#000000"/>
<rect x="620.00" y="185.20" width="24.70" height="24.60" fill="#000000"/>
<rect x="644.40" y="185.20" width="24.70" height="24.60" fill="#000000"/>
<rect x="668.80" y="185.20" width="24.70" height="24.60" fill="#000000"/>
<rect x="693.20" y="185.20" width="24.70" height="24.60" fill="#000000"/>
<line x1="473.6" y1="185.2" x2="473.6" y2="209.8" stroke="#000" stroke-width="0.8" stroke-opacity="0.65"/>
<line x1="498.0" y1="185.2" x2="498.0" y2="209.8" stroke="#000" stroke-width="0.8" stroke-opacity="0.65"/>
<line x1="522.4" y1="185.2" x2="522.4" y2="209.8" stroke="#000" stroke-width="0.8" stroke-opacity="0.65"/>
<line x1="546.8" y1="185.2" x2="546.8" y2="209.8" stroke="#000" stroke-width="0.8" stroke-opacity="0.65"/>
<line x1="571.2" y1="185.2" x2="571.2" y2="209.8" stroke="#000" stroke-width="0.8" stroke-opacity="0.65"/>
<line x1="595.6" y1="185.2" x2="595.6" y2="209.8" stroke="#000" stroke-width="0.8" stroke-opacity="0.65"/>
<line x1="620.0" y1="185.2" x2="620.0" y2="209.8" stroke="#000" stroke-width="0.8" stroke-opacity="0.65"/>
<line x1="644.4" y1="185.2" x2="644.4" y2="209.8" stroke="#000" stroke-width="0.8" stroke-opacity="0.65"/>
<line x1="668.8" y1="185.2" x2="668.8" y2="209.8" stroke="#000" stroke-width="0.8" stroke-opacity="0.65"/>
<line x1="693.2" y1="185.2" x2="693.2" y2="209.8" stroke="#000" stroke-width="0.8" stroke-opacity="0.65"/>
<rect x="449.20" y="185.20" width="268.40" height="24.60" fill="none" stroke="#555" stroke-width="1.1"/>
<text x="441.0" y="202.1" font-size="15.4" text-anchor="end" fill="#231f20" textLength="24.3" lengthAdjust="spacingAndGlyphs">Flt3</text>
<rect x="448.80" y="218.75" width="24.73" height="24.75" fill="#a09e38"/>
<rect x="473.23" y="218.75" width="24.73" height="24.75" fill="#fefdd0"/>
<rect x="497.65" y="218.75" width="24.73" height="24.75" fill="#000000"/>
<rect x="522.08" y="218.75" width="24.73" height="24.75" fill="#000000"/>
<rect x="546.51" y="218.75" width="24.73" height="24.75" fill="#000000"/>
<rect x="570.94" y="218.75" width="24.73" height="24.75" fill="#000000"/>
<rect x="595.36" y="218.75" width="24.73" height="24.75" fill="#000000"/>
<rect x="619.79" y="218.75" width="24.73" height="24.75" fill="#000000"/>
<rect x="644.22" y="218.75" width="24.73" height="24.75" fill="#000000"/>
<rect x="668.65" y="218.75" width="24.73" height="24.75" fill="#000000"/>
<rect x="693.07" y="218.75" width="24.73" height="24.75" fill="#000000"/>
<line x1="473.2" y1="218.8" x2="473.2" y2="243.5" stroke="#000" stroke-width="0.8" stroke-opacity="0.65"/>
<line x1="497.7" y1="218.8" x2="497.7" y2="243.5" stroke="#000" stroke-width="0.8" stroke-opacity="0.65"/>
<line x1="522.1" y1="218.8" x2="522.1" y2="243.5" stroke="#000" stroke-width="0.8" stroke-opacity="0.65"/>
<line x1="546.5" y1="218.8" x2="546.5" y2="243.5" stroke="#000" stroke-width="0.8" stroke-opacity="0.65"/>
<line x1="570.9" y1="218.8" x2="570.9" y2="243.5" stroke="#000" stroke-width="0.8" stroke-opacity="0.65"/>
<line x1="595.4" y1="218.8" x2="595.4" y2="243.5" stroke="#000" stroke-width="0.8" stroke-opacity="0.65"/>
<line x1="619.8" y1="218.8" x2="619.8" y2="243.5" stroke="#000" stroke-width="0.8" stroke-opacity="0.65"/>
<line x1="644.2" y1="218.8" x2="644.2" y2="243.5" stroke="#000" stroke-width="0.8" stroke-opacity="0.65"/>
<line x1="668.6" y1="218.8" x2="668.6" y2="243.5" stroke="#000" stroke-width="0.8" stroke-opacity="0.65"/>
<line x1="693.1" y1="218.8" x2="693.1" y2="243.5" stroke="#000" stroke-width="0.8" stroke-opacity="0.65"/>
<rect x="448.80" y="218.75" width="268.70" height="24.75" fill="none" stroke="#555" stroke-width="1.1"/>
<text x="441.0" y="235.7" font-size="15.4" text-anchor="end" fill="#231f20" textLength="37.3" lengthAdjust="spacingAndGlyphs">CD34</text>
<rect x="448.80" y="251.40" width="24.71" height="24.20" fill="#fefca0"/>
<rect x="473.21" y="251.40" width="24.71" height="24.20" fill="#fefdd0"/>
<rect x="497.62" y="251.40" width="24.71" height="24.20" fill="#b5b33e"/>
<rect x="522.03" y="251.40" width="24.71" height="24.20" fill="#5e5e1e"/>
<rect x="546.44" y="251.40" width="24.71" height="24.20" fill="#000000"/>
<rect x="570.85" y="251.40" width="24.71" height="24.20" fill="#656522"/>
<rect x="595.25" y="251.40" width="24.71" height="24.20" fill="#2e2e0e"/>
<rect x="619.66" y="251.40" width="24.71" height="24.20" fill="#262608"/>
<rect x="644.07" y="251.40" width="24.71" height="24.20" fill="#7c7c2a"/>
<rect x="668.48" y="251.40" width="24.71" height="24.20" fill="#b8b640"/>
<rect x="692.89" y="251.40" width="24.71" height="24.20" fill="#84842c"/>
<line x1="473.2" y1="251.4" x2="473.2" y2="275.6" stroke="#000" stroke-width="0.8" stroke-opacity="0.65"/>
<line x1="497.6" y1="251.4" x2="497.6" y2="275.6" stroke="#000" stroke-width="0.8" stroke-opacity="0.65"/>
<line x1="522.0" y1="251.4" x2="522.0" y2="275.6" stroke="#000" stroke-width="0.8" stroke-opacity="0.65"/>
<line x1="546.4" y1="251.4" x2="546.4" y2="275.6" stroke="#000" stroke-width="0.8" stroke-opacity="0.65"/>
<line x1="570.8" y1="251.4" x2="570.8" y2="275.6" stroke="#000" stroke-width="0.8" stroke-opacity="0.65"/>
<line x1="595.3" y1="251.4" x2="595.3" y2="275.6" stroke="#000" stroke-width="0.8" stroke-opacity="0.65"/>
<line x1="619.7" y1="251.4" x2="619.7" y2="275.6" stroke="#000" stroke-width="0.8" stroke-opacity="0.65"/>
<line x1="644.1" y1="251.4" x2="644.1" y2="275.6" stroke="#000" stroke-width="0.8" stroke-opacity="0.65"/>
<line x1="668.5" y1="251.4" x2="668.5" y2="275.6" stroke="#000" stroke-width="0.8" stroke-opacity="0.65"/>
<line x1="692.9" y1="251.4" x2="692.9" y2="275.6" stroke="#000" stroke-width="0.8" stroke-opacity="0.65"/>
<rect x="448.80" y="251.40" width="268.50" height="24.20" fill="none" stroke="#555" stroke-width="1.1"/>
<text x="441.0" y="268.1" font-size="15.4" text-anchor="end" fill="#231f20" textLength="37.3" lengthAdjust="spacingAndGlyphs">CD48</text>
<rect x="448.80" y="284.00" width="24.73" height="24.60" fill="#fefdd8"/>
<rect x="473.23" y="284.00" width="24.73" height="24.60" fill="#fcfb50"/>
<rect x="497.65" y="284.00" width="24.73" height="24.60" fill="#fbf950"/>
<rect x="522.08" y="284.00" width="24.73" height="24.60" fill="#f0ed54"/>
<rect x="546.51" y="284.00" width="24.73" height="24.60" fill="#f0ed54"/>
<rect x="570.94" y="284.00" width="24.73" height="24.60" fill="#87862f"/>
<rect x="595.36" y="284.00" width="24.73" height="24.60" fill="#d1ce48"/>
<rect x="619.79" y="284.00" width="24.73" height="24.60" fill="#0a0a04"/>
<rect x="644.22" y="284.00" width="24.73" height="24.60" fill="#22220a"/>
<rect x="668.65" y="284.00" width="24.73" height="24.60" fill="#131306"/>
<rect x="693.07" y="284.00" width="24.73" height="24.60" fill="#000000"/>
<line x1="473.2" y1="284.0" x2="473.2" y2="308.6" stroke="#000" stroke-width="0.8" stroke-opacity="0.65"/>
<line x1="497.7" y1="284.0" x2="497.7" y2="308.6" stroke="#000" stroke-width="0.8" stroke-opacity="0.65"/>
<line x1="522.1" y1="284.0" x2="522.1" y2="308.6" stroke="#000" stroke-width="0.8" stroke-opacity="0.65"/>
<line x1="546.5" y1="284.0" x2="546.5" y2="308.6" stroke="#000" stroke-width="0.8" stroke-opacity="0.65"/>
<line x1="570.9" y1="284.0" x2="570.9" y2="308.6" stroke="#000" stroke-width="0.8" stroke-opacity="0.65"/>
<line x1="595.4" y1="284.0" x2="595.4" y2="308.6" stroke="#000" stroke-width="0.8" stroke-opacity="0.65"/>
<line x1="619.8" y1="284.0" x2="619.8" y2="308.6" stroke="#000" stroke-width="0.8" stroke-opacity="0.65"/>
<line x1="644.2" y1="284.0" x2="644.2" y2="308.6" stroke="#000" stroke-width="0.8" stroke-opacity="0.65"/>
<line x1="668.6" y1="284.0" x2="668.6" y2="308.6" stroke="#000" stroke-width="0.8" stroke-opacity="0.65"/>
<line x1="693.1" y1="284.0" x2="693.1" y2="308.6" stroke="#000" stroke-width="0.8" stroke-opacity="0.65"/>
<rect x="448.80" y="284.00" width="268.70" height="24.60" fill="none" stroke="#555" stroke-width="1.1"/>
<text x="441.0" y="300.9" font-size="15.4" text-anchor="end" fill="#231f20" textLength="37.3" lengthAdjust="spacingAndGlyphs">CD43</text>
<rect x="448.80" y="318.00" width="24.73" height="24.70" fill="#000000"/>
<rect x="473.23" y="318.00" width="24.73" height="24.70" fill="#000000"/>
<rect x="497.65" y="318.00" width="24.73" height="24.70" fill="#000000"/>
<rect x="522.08" y="318.00" width="24.73" height="24.70" fill="#fefdd0"/>
<rect x="546.51" y="318.00" width="24.73" height="24.70" fill="#f5f252"/>
<rect x="570.94" y="318.00" width="24.73" height="24.70" fill="#48461a"/>
<rect x="595.36" y="318.00" width="24.73" height="24.70" fill="#8a8a30"/>
<rect x="619.79" y="318.00" width="24.73" height="24.70" fill="#7a7a2a"/>
<rect x="644.22" y="318.00" width="24.73" height="24.70" fill="#000000"/>
<rect x="668.65" y="318.00" width="24.73" height="24.70" fill="#000000"/>
<rect x="693.07" y="318.00" width="24.73" height="24.70" fill="#000000"/>
<line x1="473.2" y1="318.0" x2="473.2" y2="342.7" stroke="#000" stroke-width="0.8" stroke-opacity="0.65"/>
<line x1="497.7" y1="318.0" x2="497.7" y2="342.7" stroke="#000" stroke-width="0.8" stroke-opacity="0.65"/>
<line x1="522.1" y1="318.0" x2="522.1" y2="342.7" stroke="#000" stroke-width="0.8" stroke-opacity="0.65"/>
<line x1="546.5" y1="318.0" x2="546.5" y2="342.7" stroke="#000" stroke-width="0.8" stroke-opacity="0.65"/>
<line x1="570.9" y1="318.0" x2="570.9" y2="342.7" stroke="#000" stroke-width="0.8" stroke-opacity="0.65"/>
<line x1="595.4" y1="318.0" x2="595.4" y2="342.7" stroke="#000" stroke-width="0.8" stroke-opacity="0.65"/>
<line x1="619.8" y1="318.0" x2="619.8" y2="342.7" stroke="#000" stroke-width="0.8" stroke-opacity="0.65"/>
<line x1="644.2" y1="318.0" x2="644.2" y2="342.7" stroke="#000" stroke-width="0.8" stroke-opacity="0.65"/>
<line x1="668.6" y1="318.0" x2="668.6" y2="342.7" stroke="#000" stroke-width="0.8" stroke-opacity="0.65"/>
<line x1="693.1" y1="318.0" x2="693.1" y2="342.7" stroke="#000" stroke-width="0.8" stroke-opacity="0.65"/>
<rect x="448.80" y="318.00" width="268.70" height="24.70" fill="none" stroke="#555" stroke-width="1.1"/>
<text x="441.0" y="335.0" font-size="15.4" text-anchor="end" fill="#231f20" textLength="45.4" lengthAdjust="spacingAndGlyphs">CD127</text>
<rect x="448.80" y="352.00" width="24.75" height="26.30" fill="#000000"/>
<rect x="473.25" y="352.00" width="24.75" height="26.30" fill="#050502"/>
<rect x="497.71" y="352.00" width="24.75" height="26.30" fill="#050502"/>
<rect x="522.16" y="352.00" width="24.75" height="26.30" fill="#cfcc48"/>
<rect x="546.62" y="352.00" width="24.75" height="26.30" fill="#8e8c31"/>
<rect x="571.07" y="352.00" width="24.75" height="26.30" fill="#fcfa55"/>
<rect x="595.53" y="352.00" width="24.75" height="26.30" fill="#fcfa55"/>
<rect x="619.98" y="352.00" width="24.75" height="26.30" fill="#aeac3c"/>
<rect x="644.44" y="352.00" width="24.75" height="26.30" fill="#fcfa55"/>
<rect x="668.89" y="352.00" width="24.75" height="26.30" fill="#fefdd8"/>
<rect x="693.35" y="352.00" width="24.75" height="26.30" fill="#fdfb6a"/>
<line x1="473.3" y1="352.0" x2="473.3" y2="378.3" stroke="#000" stroke-width="0.8" stroke-opacity="0.65"/>
<line x1="497.7" y1="352.0" x2="497.7" y2="378.3" stroke="#000" stroke-width="0.8" stroke-opacity="0.65"/>
<line x1="522.2" y1="352.0" x2="522.2" y2="378.3" stroke="#000" stroke-width="0.8" stroke-opacity="0.65"/>
<line x1="546.6" y1="352.0" x2="546.6" y2="378.3" stroke="#000" stroke-width="0.8" stroke-opacity="0.65"/>
<line x1="571.1" y1="352.0" x2="571.1" y2="378.3" stroke="#000" stroke-width="0.8" stroke-opacity="0.65"/>
<line x1="595.5" y1="352.0" x2="595.5" y2="378.3" stroke="#000" stroke-width="0.8" stroke-opacity="0.65"/>
<line x1="620.0" y1="352.0" x2="620.0" y2="378.3" stroke="#000" stroke-width="0.8" stroke-opacity="0.65"/>
<line x1="644.4" y1="352.0" x2="644.4" y2="378.3" stroke="#000" stroke-width="0.8" stroke-opacity="0.65"/>
<line x1="668.9" y1="352.0" x2="668.9" y2="378.3" stroke="#000" stroke-width="0.8" stroke-opacity="0.65"/>
<line x1="693.3" y1="352.0" x2="693.3" y2="378.3" stroke="#000" stroke-width="0.8" stroke-opacity="0.65"/>
<rect x="448.80" y="352.00" width="269.00" height="26.30" fill="none" stroke="#555" stroke-width="1.1"/>
<text x="441.0" y="369.8" font-size="15.4" text-anchor="end" fill="#231f20" textLength="37.3" lengthAdjust="spacingAndGlyphs">CD19</text>
<rect x="448.80" y="385.00" width="24.72" height="25.00" fill="#000000"/>
<rect x="473.22" y="385.00" width="24.72" height="25.00" fill="#302f0e"/>
<rect x="497.64" y="385.00" width="24.72" height="25.00" fill="#000000"/>
<rect x="522.05" y="385.00" width="24.72" height="25.00" fill="#7b7a2a"/>
<rect x="546.47" y="385.00" width="24.72" height="25.00" fill="#fcfa50"/>
<rect x="570.89" y="385.00" width="24.72" height="25.00" fill="#f3f054"/>
<rect x="595.31" y="385.00" width="24.72" height="25.00" fill="#e9e650"/>
<rect x="619.73" y="385.00" width="24.72" height="25.00" fill="#dedb4c"/>
<rect x="644.15" y="385.00" width="24.72" height="25.00" fill="#fbf85a"/>
<rect x="668.56" y="385.00" width="24.72" height="25.00" fill="#fefdd8"/>
<rect x="692.98" y="385.00" width="24.72" height="25.00" fill="#fefcc8"/>
<line x1="473.2" y1="385.0" x2="473.2" y2="410.0" stroke="#000" stroke-width="0.8" stroke-opacity="0.65"/>
<line x1="497.6" y1="385.0" x2="497.6" y2="410.0" stroke="#000" stroke-width="0.8" stroke-opacity="0.65"/>
<line x1="522.1" y1="385.0" x2="522.1" y2="410.0" stroke="#000" stroke-width="0.8" stroke-opacity="0.65"/>
<line x1="546.5" y1="385.0" x2="546.5" y2="410.0" stroke="#000" stroke-width="0.8" stroke-opacity="0.65"/>
<line x1="570.9" y1="385.0" x2="570.9" y2="410.0" stroke="#000" stroke-width="0.8" stroke-opacity="0.65"/>
<line x1="595.3" y1="385.0" x2="595.3" y2="410.0" stroke="#000" stroke-width="0.8" stroke-opacity="0.65"/>
<line x1="619.7" y1="385.0" x2="619.7" y2="410.0" stroke="#000" stroke-width="0.8" stroke-opacity="0.65"/>
<line x1="644.1" y1="385.0" x2="644.1" y2="410.0" stroke="#000" stroke-width="0.8" stroke-opacity="0.65"/>
<line x1="668.6" y1="385.0" x2="668.6" y2="410.0" stroke="#000" stroke-width="0.8" stroke-opacity="0.65"/>
<line x1="693.0" y1="385.0" x2="693.0" y2="410.0" stroke="#000" stroke-width="0.8" stroke-opacity="0.65"/>
<rect x="448.80" y="385.00" width="268.60" height="25.00" fill="none" stroke="#555" stroke-width="1.1"/>
<text x="441.0" y="402.1" font-size="15.4" text-anchor="end" fill="#231f20" textLength="34.1" lengthAdjust="spacingAndGlyphs">B220</text>
<rect x="448.80" y="418.80" width="24.77" height="25.10" fill="#000000"/>
<rect x="473.27" y="418.80" width="24.77" height="25.10" fill="#030301"/>
<rect x="497.75" y="418.80" width="24.77" height="25.10" fill="#030301"/>
<rect x="522.22" y="418.80" width="24.77" height="25.10" fill="#0f0f05"/>
<rect x="546.69" y="418.80" width="24.77" height="25.10" fill="#fefdd8"/>
<rect x="571.16" y="418.80" width="24.77" height="25.10" fill="#a4a239"/>
<rect x="595.64" y="418.80" width="24.77" height="25.10" fill="#fefcc0"/>
<rect x="620.11" y="418.80" width="24.77" height="25.10" fill="#aaa83b"/>
<rect x="644.58" y="418.80" width="24.77" height="25.10" fill="#1a1a08"/>
<rect x="669.05" y="418.80" width="24.77" height="25.10" fill="#0a0a04"/>
<rect x="693.53" y="418.80" width="24.77" height="25.10" fill="#050502"/>
<line x1="473.3" y1="418.8" x2="473.3" y2="443.9" stroke="#000" stroke-width="0.8" stroke-opacity="0.65"/>
<line x1="497.7" y1="418.8" x2="497.7" y2="443.9" stroke="#000" stroke-width="0.8" stroke-opacity="0.65"/>
<line x1="522.2" y1="418.8" x2="522.2" y2="443.9" stroke="#000" stroke-width="0.8" stroke-opacity="0.65"/>
<line x1="546.7" y1="418.8" x2="546.7" y2="443.9" stroke="#000" stroke-width="0.8" stroke-opacity="0.65"/>
<line x1="571.2" y1="418.8" x2="571.2" y2="443.9" stroke="#000" stroke-width="0.8" stroke-opacity="0.65"/>
<line x1="595.6" y1="418.8" x2="595.6" y2="443.9" stroke="#000" stroke-width="0.8" stroke-opacity="0.65"/>
<line x1="620.1" y1="418.8" x2="620.1" y2="443.9" stroke="#000" stroke-width="0.8" stroke-opacity="0.65"/>
<line x1="644.6" y1="418.8" x2="644.6" y2="443.9" stroke="#000" stroke-width="0.8" stroke-opacity="0.65"/>
<line x1="669.1" y1="418.8" x2="669.1" y2="443.9" stroke="#000" stroke-width="0.8" stroke-opacity="0.65"/>
<line x1="693.5" y1="418.8" x2="693.5" y2="443.9" stroke="#000" stroke-width="0.8" stroke-opacity="0.65"/>
<rect x="448.80" y="418.80" width="269.20" height="25.10" fill="none" stroke="#555" stroke-width="1.1"/>
<text x="441.0" y="436.0" font-size="15.4" text-anchor="end" fill="#231f20" textLength="32.5" lengthAdjust="spacingAndGlyphs">GL-7</text>
<rect x="448.80" y="450.30" width="24.77" height="25.10" fill="#000000"/>
<rect x="473.27" y="450.30" width="24.77" height="25.10" fill="#000000"/>
<rect x="497.75" y="450.30" width="24.77" height="25.10" fill="#000000"/>
<rect x="522.22" y="450.30" width="24.77" height="25.10" fill="#000000"/>
<rect x="546.69" y="450.30" width="24.77" height="25.10" fill="#b3b13e"/>
<rect x="571.16" y="450.30" width="24.77" height="25.10" fill="#fdfb8a"/>
<rect x="595.64" y="450.30" width="24.77" height="25.10" fill="#fefdd0"/>
<rect x="620.11" y="450.30" width="24.77" height="25.10" fill="#faf758"/>
<rect x="644.58" y="450.30" width="24.77" height="25.10" fill="#7f7e2c"/>
<rect x="669.05" y="450.30" width="24.77" height="25.10" fill="#48461a"/>
<rect x="693.53" y="450.30" width="24.77" height="25.10" fill="#000000"/>
<line x1="473.3" y1="450.3" x2="473.3" y2="475.4" stroke="#000" stroke-width="0.8" stroke-opacity="0.65"/>
<line x1="497.7" y1="450.3" x2="497.7" y2="475.4" stroke="#000" stroke-width="0.8" stroke-opacity="0.65"/>
<line x1="522.2" y1="450.3" x2="522.2" y2="475.4" stroke="#000" stroke-width="0.8" stroke-opacity="0.65"/>
<line x1="546.7" y1="450.3" x2="546.7" y2="475.4" stroke="#000" stroke-width="0.8" stroke-opacity="0.65"/>
<line x1="571.2" y1="450.3" x2="571.2" y2="475.4" stroke="#000" stroke-width="0.8" stroke-opacity="0.65"/>
<line x1="595.6" y1="450.3" x2="595.6" y2="475.4" stroke="#000" stroke-width="0.8" stroke-opacity="0.65"/>
<line x1="620.1" y1="450.3" x2="620.1" y2="475.4" stroke="#000" stroke-width="0.8" stroke-opacity="0.65"/>
<line x1="644.6" y1="450.3" x2="644.6" y2="475.4" stroke="#000" stroke-width="0.8" stroke-opacity="0.65"/>
<line x1="669.1" y1="450.3" x2="669.1" y2="475.4" stroke="#000" stroke-width="0.8" stroke-opacity="0.65"/>
<line x1="693.5" y1="450.3" x2="693.5" y2="475.4" stroke="#000" stroke-width="0.8" stroke-opacity="0.65"/>
<rect x="448.80" y="450.30" width="269.20" height="25.10" fill="none" stroke="#555" stroke-width="1.1"/>
<text x="441.0" y="467.5" font-size="15.4" text-anchor="end" fill="#231f20" textLength="32.5" lengthAdjust="spacingAndGlyphs">BP-1</text>
<rect x="449.00" y="483.30" width="24.89" height="24.70" fill="#000000"/>
<rect x="473.59" y="483.30" width="24.89" height="24.70" fill="#000000"/>
<rect x="498.18" y="483.30" width="24.89" height="24.70" fill="#000000"/>
<rect x="522.77" y="483.30" width="24.89" height="24.70" fill="#000000"/>
<rect x="547.36" y="483.30" width="24.89" height="24.70" fill="#000000"/>
<rect x="571.95" y="483.30" width="24.89" height="24.70" fill="#000000"/>
<rect x="596.55" y="483.30" width="24.89" height="24.70" fill="#000000"/>
<rect x="621.14" y="483.30" width="24.89" height="24.70" fill="#000000"/>
<rect x="645.73" y="483.30" width="24.89" height="24.70" fill="#fefdd8"/>
<rect x="670.32" y="483.30" width="24.89" height="24.70" fill="#f5f26a"/>
<rect x="694.91" y="483.30" width="24.89" height="24.70" fill="#2e2e0e"/>
<line x1="473.6" y1="483.3" x2="473.6" y2="508.0" stroke="#000" stroke-width="0.8" stroke-opacity="0.65"/>
<line x1="498.2" y1="483.3" x2="498.2" y2="508.0" stroke="#000" stroke-width="0.8" stroke-opacity="0.65"/>
<line x1="522.8" y1="483.3" x2="522.8" y2="508.0" stroke="#000" stroke-width="0.8" stroke-opacity="0.65"/>
<line x1="547.4" y1="483.3" x2="547.4" y2="508.0" stroke="#000" stroke-width="0.8" stroke-opacity="0.65"/>
<line x1="572.0" y1="483.3" x2="572.0" y2="508.0" stroke="#000" stroke-width="0.8" stroke-opacity="0.65"/>
<line x1="596.5" y1="483.3" x2="596.5" y2="508.0" stroke="#000" stroke-width="0.8" stroke-opacity="0.65"/>
<line x1="621.1" y1="483.3" x2="621.1" y2="508.0" stroke="#000" stroke-width="0.8" stroke-opacity="0.65"/>
<line x1="645.7" y1="483.3" x2="645.7" y2="508.0" stroke="#000" stroke-width="0.8" stroke-opacity="0.65"/>
<line x1="670.3" y1="483.3" x2="670.3" y2="508.0" stroke="#000" stroke-width="0.8" stroke-opacity="0.65"/>
<line x1="694.9" y1="483.3" x2="694.9" y2="508.0" stroke="#000" stroke-width="0.8" stroke-opacity="0.65"/>
<rect x="449.00" y="483.30" width="270.50" height="24.70" fill="none" stroke="#555" stroke-width="1.1"/>
<text x="441.0" y="500.2" font-size="15.4" text-anchor="end" fill="#231f20" textLength="24.3" lengthAdjust="spacingAndGlyphs">IgM</text>
<rect x="448.60" y="516.20" width="24.88" height="24.80" fill="#000000"/>
<rect x="473.18" y="516.20" width="24.88" height="24.80" fill="#000000"/>
<rect x="497.76" y="516.20" width="24.88" height="24.80" fill="#000000"/>
<rect x="522.35" y="516.20" width="24.88" height="24.80" fill="#000000"/>
<rect x="546.93" y="516.20" width="24.88" height="24.80" fill="#000000"/>
<rect x="571.51" y="516.20" width="24.88" height="24.80" fill="#000000"/>
<rect x="596.09" y="516.20" width="24.88" height="24.80" fill="#000000"/>
<rect x="620.67" y="516.20" width="24.88" height="24.80" fill="#000000"/>
<rect x="645.25" y="516.20" width="24.88" height="24.80" fill="#121206"/>
<rect x="669.84" y="516.20" width="24.88" height="24.80" fill="#fefdd8"/>
<rect x="694.42" y="516.20" width="24.88" height="24.80" fill="#fefdd8"/>
<line x1="473.2" y1="516.2" x2="473.2" y2="541.0" stroke="#000" stroke-width="0.8" stroke-opacity="0.65"/>
<line x1="497.8" y1="516.2" x2="497.8" y2="541.0" stroke="#000" stroke-width="0.8" stroke-opacity="0.65"/>
<line x1="522.3" y1="516.2" x2="522.3" y2="541.0" stroke="#000" stroke-width="0.8" stroke-opacity="0.65"/>
<line x1="546.9" y1="516.2" x2="546.9" y2="541.0" stroke="#000" stroke-width="0.8" stroke-opacity="0.65"/>
<line x1="571.5" y1="516.2" x2="571.5" y2="541.0" stroke="#000" stroke-width="0.8" stroke-opacity="0.65"/>
<line x1="596.1" y1="516.2" x2="596.1" y2="541.0" stroke="#000" stroke-width="0.8" stroke-opacity="0.65"/>
<line x1="620.7" y1="516.2" x2="620.7" y2="541.0" stroke="#000" stroke-width="0.8" stroke-opacity="0.65"/>
<line x1="645.3" y1="516.2" x2="645.3" y2="541.0" stroke="#000" stroke-width="0.8" stroke-opacity="0.65"/>
<line x1="669.8" y1="516.2" x2="669.8" y2="541.0" stroke="#000" stroke-width="0.8" stroke-opacity="0.65"/>
<line x1="694.4" y1="516.2" x2="694.4" y2="541.0" stroke="#000" stroke-width="0.8" stroke-opacity="0.65"/>
<rect x="448.60" y="516.20" width="270.40" height="24.80" fill="none" stroke="#555" stroke-width="1.1"/>
<text x="441.0" y="533.2" font-size="15.4" text-anchor="end" fill="#231f20" textLength="22.7" lengthAdjust="spacingAndGlyphs">IgD</text>
<text x="466.3" y="83.8" font-size="14.5" fill="#231f20" transform="rotate(-90 466.3 83.8)">LT-HSC</text>
<text x="490.2" y="83.8" font-size="14.5" fill="#231f20" transform="rotate(-90 490.2 83.8)">ST-HSC</text>
<text x="514.1" y="83.8" font-size="14.5" fill="#231f20" transform="rotate(-90 514.1 83.8)">MPP/MLP</text>
<text x="538.0" y="83.8" font-size="14.5" fill="#231f20" transform="rotate(-90 538.0 83.8)">CLP</text>
<text x="561.9" y="83.8" font-size="14.5" fill="#231f20" transform="rotate(-90 561.9 83.8)">Prepro-B</text>
<text x="585.8" y="83.8" font-size="14.5" fill="#231f20" transform="rotate(-90 585.8 83.8)">Pro-B</text>
<text x="609.7" y="83.8" font-size="14.5" fill="#231f20" transform="rotate(-90 609.7 83.8)">Early pre-B</text>
<text x="633.6" y="83.8" font-size="14.5" fill="#231f20" transform="rotate(-90 633.6 83.8)">Late pre-B</text>
<text x="657.5" y="83.8" font-size="14.5" fill="#231f20" transform="rotate(-90 657.5 83.8)"><tspan>IgM</tspan><tspan font-size="9.0" dy="-5.5">+</tspan></text>
<text x="681.4" y="83.8" font-size="14.5" fill="#231f20" transform="rotate(-90 681.4 83.8)"><tspan>IgM</tspan><tspan font-size="9.0" dy="-5.5">+</tspan><tspan dy="5.5">IgD</tspan><tspan font-size="9.0" dy="-5.5">+</tspan></text>
<text x="705.3" y="83.8" font-size="14.5" fill="#231f20" transform="rotate(-90 705.3 83.8)"><tspan>IgD</tspan><tspan font-size="9.0" dy="-5.5">+</tspan></text>
<text x="368.0" y="559.2" font-size="20.5" font-weight="bold" fill="#000" stroke="#000" stroke-width="0.9">c</text>
<text x="447.5" y="561.0" font-size="14.2" fill="#231f20" textLength="221.0" lengthAdjust="spacingAndGlyphs">Raw median IdU signal intensity</text>
<rect x="447.20" y="566.00" width="25.03" height="26.30" fill="#f4d35e"/>
<rect x="471.83" y="566.00" width="25.03" height="26.30" fill="#807d30"/>
<rect x="496.45" y="566.00" width="25.03" height="26.30" fill="#aba847"/>
<rect x="521.08" y="566.00" width="25.03" height="26.30" fill="#e84d33"/>
<rect x="545.71" y="566.00" width="25.03" height="26.30" fill="#e84d33"/>
<rect x="570.34" y="566.00" width="25.03" height="26.30" fill="#e43d2c"/>
<rect x="594.96" y="566.00" width="25.03" height="26.30" fill="#e43d2c"/>
<rect x="619.59" y="566.00" width="25.03" height="26.30" fill="#f0aa55"/>
<rect x="644.22" y="566.00" width="25.03" height="26.30" fill="#c8c55c"/>
<rect x="668.85" y="566.00" width="25.03" height="26.30" fill="#7a7832"/>
<rect x="693.47" y="566.00" width="25.03" height="26.30" fill="#46441a"/>
<rect x="447.20" y="591.90" width="25.03" height="26.00" fill="#f3ef6c"/>
<rect x="471.83" y="591.90" width="25.03" height="26.00" fill="#4e4c1c"/>
<rect x="496.45" y="591.90" width="25.03" height="26.00" fill="#6e6c2a"/>
<rect x="521.08" y="591.90" width="25.03" height="26.00" fill="#f2ad58"/>
<rect x="545.71" y="591.90" width="25.03" height="26.00" fill="#ec7a40"/>
<rect x="570.34" y="591.90" width="25.03" height="26.00" fill="#e8543a"/>
<rect x="594.96" y="591.90" width="25.03" height="26.00" fill="#e74a35"/>
<rect x="619.59" y="591.90" width="25.03" height="26.00" fill="#f7eb6c"/>
<rect x="644.22" y="591.90" width="25.03" height="26.00" fill="#cdc85e"/>
<rect x="668.85" y="591.90" width="25.03" height="26.00" fill="#5f5c22"/>
<rect x="693.47" y="591.90" width="25.03" height="26.00" fill="#0a0a04"/>
<rect x="447.20" y="617.50" width="25.03" height="25.70" fill="#f1b85a"/>
<rect x="471.83" y="617.50" width="25.03" height="25.70" fill="#7b7830"/>
<rect x="496.45" y="617.50" width="25.03" height="25.70" fill="#c6c35c"/>
<rect x="521.08" y="617.50" width="25.03" height="25.70" fill="#f8e268"/>
<rect x="545.71" y="617.50" width="25.03" height="25.70" fill="#f3b55a"/>
<rect x="570.34" y="617.50" width="25.03" height="25.70" fill="#e8533a"/>
<rect x="594.96" y="617.50" width="25.03" height="25.70" fill="#e5392c"/>
<rect x="619.59" y="617.50" width="25.03" height="25.70" fill="#5e5b22"/>
<rect x="644.22" y="617.50" width="25.03" height="25.70" fill="#020201"/>
<rect x="668.85" y="617.50" width="25.03" height="25.70" fill="#1c1b0a"/>
<rect x="693.47" y="617.50" width="25.03" height="25.70" fill="#1c1b0a"/>
<rect x="447.20" y="642.80" width="25.03" height="26.80" fill="#f5f270"/>
<rect x="471.83" y="642.80" width="25.03" height="26.80" fill="#2e2c10"/>
<rect x="496.45" y="642.80" width="25.03" height="26.80" fill="#87843a"/>
<rect x="521.08" y="642.80" width="25.03" height="26.80" fill="#ee8a48"/>
<rect x="545.71" y="642.80" width="25.03" height="26.80" fill="#ec7a40"/>
<rect x="570.34" y="642.80" width="25.03" height="26.80" fill="#f0a050"/>
<rect x="594.96" y="642.80" width="25.03" height="26.80" fill="#e8563a"/>
<rect x="619.59" y="642.80" width="25.03" height="26.80" fill="#8a8738"/>
<rect x="644.22" y="642.80" width="25.03" height="26.80" fill="#1f1e0b"/>
<rect x="668.85" y="642.80" width="25.03" height="26.80" fill="#1f1e0b"/>
<rect x="693.47" y="642.80" width="25.03" height="26.80" fill="#0a0a04"/>
<rect x="447.20" y="566.00" width="270.90" height="103.20" fill="none" stroke="#777" stroke-width="1.2"/>
<text x="439.6" y="573.7" font-size="14.5" text-anchor="end" font-style="italic" fill="#231f20" textLength="50.0" lengthAdjust="spacingAndGlyphs">Eμ-myc</text>
<text x="439.6" y="589.8" font-size="14.5" text-anchor="end" fill="#231f20" textLength="111.5" lengthAdjust="spacingAndGlyphs"><tspan font-style="italic">Casp1</tspan><tspan font-size="9.0" dy="-5.5" font-style="italic" letter-spacing="-1.26">−/−</tspan><tspan dy="5.5" font-style="italic">Casp11</tspan><tspan font-size="9.0" dy="-5.5" font-style="italic" letter-spacing="-1.26">−/−</tspan></text>
<text x="439.6" y="610.9" font-size="14.5" text-anchor="end" font-style="italic" fill="#231f20" textLength="50.0" lengthAdjust="spacingAndGlyphs">Eμ-myc</text>
<text x="439.6" y="633.9" font-size="14.5" text-anchor="end" fill="#231f20" textLength="111.5" lengthAdjust="spacingAndGlyphs"><tspan font-style="italic">Casp1</tspan><tspan font-size="9.0" dy="-5.5" font-style="italic" letter-spacing="-1.26">−/−</tspan><tspan dy="5.5" font-style="italic">Casp11</tspan><tspan font-size="9.0" dy="-5.5" font-style="italic" letter-spacing="-1.26">−/−</tspan></text>
<text x="439.6" y="659.6" font-size="14.5" text-anchor="end" fill="#231f20">WT</text>
<defs><linearGradient id="gC" x1="0" x2="0" y1="0" y2="1"><stop offset="0" stop-color="#e53a2e"/><stop offset="0.25" stop-color="#f08a42"/><stop offset="0.5" stop-color="#f8f064"/><stop offset="0.75" stop-color="#707030"/><stop offset="1" stop-color="#000"/></linearGradient></defs>
<rect x="727.60" y="578.70" width="8.40" height="79.60" fill="url(#gC)"/>
<text x="731.8" y="576.5" font-size="13" text-anchor="middle" fill="#231f20">5</text>
<text x="731.5" y="670.4" font-size="13" text-anchor="middle" fill="#231f20">0</text>
<text x="749.2" y="564.4" font-size="14.5" fill="#231f20" textLength="107.0" lengthAdjust="spacingAndGlyphs" transform="rotate(90 749.2 564.4)">Signal intensity</text>
<text x="368.0" y="696.2" font-size="20.5" font-weight="bold" fill="#000" stroke="#000" stroke-width="0.9">d</text>
<text x="447.2" y="694.8" font-size="14.5" fill="#231f20"><tspan>Relative %IdU</tspan><tspan font-size="9.0" dy="-5.5">+</tspan></text>
<rect x="446.70" y="698.80" width="25.13" height="26.30" fill="#e84e35"/>
<rect x="471.43" y="698.80" width="25.13" height="26.30" fill="#e84e35"/>
<rect x="496.15" y="698.80" width="25.13" height="26.30" fill="#e53e2d"/>
<rect x="520.88" y="698.80" width="25.13" height="26.30" fill="#e53e2d"/>
<rect x="545.61" y="698.80" width="25.13" height="26.30" fill="#e6432f"/>
<rect x="570.34" y="698.80" width="25.13" height="26.30" fill="#ea6a3c"/>
<rect x="595.06" y="698.80" width="25.13" height="26.30" fill="#e95737"/>
<rect x="619.79" y="698.80" width="25.13" height="26.30" fill="#e6472f"/>
<rect x="644.52" y="698.80" width="25.13" height="26.30" fill="#e9573a"/>
<rect x="669.25" y="698.80" width="25.13" height="26.30" fill="#e74832"/>
<rect x="693.97" y="698.80" width="25.13" height="26.30" fill="#e33a2c"/>
<rect x="446.70" y="724.70" width="25.13" height="25.20" fill="#3a3714"/>
<rect x="471.43" y="724.70" width="25.13" height="25.20" fill="#c8c55e"/>
<rect x="496.15" y="724.70" width="25.13" height="25.20" fill="#eeea6e"/>
<rect x="520.88" y="724.70" width="25.13" height="25.20" fill="#f0ec6e"/>
<rect x="545.61" y="724.70" width="25.13" height="25.20" fill="#f0a855"/>
<rect x="570.34" y="724.70" width="25.13" height="25.20" fill="#efa050"/>
<rect x="595.06" y="724.70" width="25.13" height="25.20" fill="#efa050"/>
<rect x="619.79" y="724.70" width="25.13" height="25.20" fill="#ef9a4e"/>
<rect x="644.52" y="724.70" width="25.13" height="25.20" fill="#ec7a42"/>
<rect x="669.25" y="724.70" width="25.13" height="25.20" fill="#f09650"/>
<rect x="693.97" y="724.70" width="25.13" height="25.20" fill="#cfcb5e"/>
<rect x="446.70" y="749.50" width="25.13" height="25.40" fill="#ee9048"/>
<rect x="471.43" y="749.50" width="25.13" height="25.40" fill="#f0a855"/>
<rect x="496.15" y="749.50" width="25.13" height="25.40" fill="#c8c45c"/>
<rect x="520.88" y="749.50" width="25.13" height="25.40" fill="#6c6a2a"/>
<rect x="545.61" y="749.50" width="25.13" height="25.40" fill="#36331a"/>
<rect x="570.34" y="749.50" width="25.13" height="25.40" fill="#f6ee6e"/>
<rect x="595.06" y="749.50" width="25.13" height="25.40" fill="#cccb5e"/>
<rect x="619.79" y="749.50" width="25.13" height="25.40" fill="#64622a"/>
<rect x="644.52" y="749.50" width="25.13" height="25.40" fill="#64622a"/>
<rect x="669.25" y="749.50" width="25.13" height="25.40" fill="#6a6828"/>
<rect x="693.97" y="749.50" width="25.13" height="25.40" fill="#aeaa4a"/>
<rect x="446.70" y="774.50" width="25.13" height="26.60" fill="#a4a042"/>
<rect x="471.43" y="774.50" width="25.13" height="26.60" fill="#222010"/>
<rect x="496.15" y="774.50" width="25.13" height="26.60" fill="#48461e"/>
<rect x="520.88" y="774.50" width="25.13" height="26.60" fill="#8a8838"/>
<rect x="545.61" y="774.50" width="25.13" height="26.60" fill="#a6a446"/>
<rect x="570.34" y="774.50" width="25.13" height="26.60" fill="#070703"/>
<rect x="595.06" y="774.50" width="25.13" height="26.60" fill="#221f0e"/>
<rect x="619.79" y="774.50" width="25.13" height="26.60" fill="#5c5a26"/>
<rect x="644.52" y="774.50" width="25.13" height="26.60" fill="#565424"/>
<rect x="669.25" y="774.50" width="25.13" height="26.60" fill="#565424"/>
<rect x="693.97" y="774.50" width="25.13" height="26.60" fill="#76742e"/>
<rect x="446.70" y="698.80" width="272.00" height="101.90" fill="none" stroke="#000" stroke-width="1.8"/>
<text x="439.6" y="706.0" font-size="14.5" text-anchor="end" font-style="italic" fill="#231f20" textLength="50.0" lengthAdjust="spacingAndGlyphs">Eμ-myc</text>
<text x="439.6" y="722.9" font-size="14.5" text-anchor="end" fill="#231f20" textLength="111.5" lengthAdjust="spacingAndGlyphs"><tspan font-style="italic">Casp1</tspan><tspan font-size="9.0" dy="-5.5" font-style="italic" letter-spacing="-1.26">−/−</tspan><tspan dy="5.5" font-style="italic">Casp11</tspan><tspan font-size="9.0" dy="-5.5" font-style="italic" letter-spacing="-1.26">−/−</tspan></text>
<text x="439.6" y="742.1" font-size="14.5" text-anchor="end" font-style="italic" fill="#231f20" textLength="50.0" lengthAdjust="spacingAndGlyphs">Eμ-myc</text>
<text x="439.6" y="767.4" font-size="14.5" text-anchor="end" fill="#231f20" textLength="111.5" lengthAdjust="spacingAndGlyphs"><tspan font-style="italic">Casp1</tspan><tspan font-size="9.0" dy="-5.5" font-style="italic" letter-spacing="-1.26">−/−</tspan><tspan dy="5.5" font-style="italic">Casp11</tspan><tspan font-size="9.0" dy="-5.5" font-style="italic" letter-spacing="-1.26">−/−</tspan></text>
<text x="439.6" y="793.1" font-size="14.5" text-anchor="end" fill="#231f20">WT</text>
<defs><linearGradient id="gD" x1="0" x2="0" y1="0" y2="1"><stop offset="0" stop-color="#e53a2e"/><stop offset="0.28" stop-color="#f08a42"/><stop offset="0.52" stop-color="#f8f064"/><stop offset="0.76" stop-color="#707030"/><stop offset="1" stop-color="#000"/></linearGradient></defs>
<rect x="728.70" y="710.20" width="8.40" height="78.50" fill="url(#gD)"/>
<text x="725.4" y="706.9" font-size="13" fill="#231f20">1.5</text>
<text x="723.2" y="803.0" font-size="13" fill="#231f20">−1.5</text>
<text x="746.2" y="725.7" font-size="14.5" fill="#231f20" textLength="49.7" lengthAdjust="spacingAndGlyphs" transform="rotate(90 746.2 725.7)">z-score</text>
<defs><radialGradient id="dHot" cx="0.5" cy="0.5" r="0.5"><stop offset="0" stop-color="#ffff9a"/><stop offset="0.18" stop-color="#fbe85a"/><stop offset="0.38" stop-color="#f6a43a"/><stop offset="0.55" stop-color="#e66a2a"/><stop offset="0.72" stop-color="#c03a1e"/><stop offset="0.86" stop-color="#7a1420"/><stop offset="1" stop-color="#4a0c3a" stop-opacity="0"/></radialGradient><radialGradient id="dWarm" cx="0.5" cy="0.5" r="0.5"><stop offset="0" stop-color="#f07a30"/><stop offset="0.3" stop-color="#e0522a"/><stop offset="0.6" stop-color="#b8301c"/><stop offset="0.82" stop-color="#7a1420"/><stop offset="1" stop-color="#3e0a40"/></radialGradient><radialGradient id="dRed" cx="0.5" cy="0.5" r="0.5"><stop offset="0" stop-color="#d8461e"/><stop offset="0.45" stop-color="#b8301c"/><stop offset="0.8" stop-color="#741422"/><stop offset="1" stop-color="#3a0a42"/></radialGradient><radialGradient id="dDark" cx="0.5" cy="0.5" r="0.5"><stop offset="0" stop-color="#8a1418"/><stop offset="0.5" stop-color="#5a0f30"/><stop offset="1" stop-color="#2c0a50"/></radialGradient></defs>
<text x="0.0" y="845.2" font-size="20.5" font-weight="bold" fill="#000" stroke="#000" stroke-width="0.9">e</text>
<text x="179.0" y="851.0" font-size="14.5" text-anchor="middle" fill="#231f20" textLength="132.0" lengthAdjust="spacingAndGlyphs">LT-HSC population</text>
<text x="121.6" y="872.0" font-size="14.5" text-anchor="middle" fill="#231f20">WT</text>
<text x="246.0" y="872.0" font-size="14.5" text-anchor="middle" font-style="italic" fill="#231f20">Eμ-myc</text>
<text x="238.6" y="1017.6" font-size="14.5" text-anchor="middle" font-style="italic" fill="#231f20">Eμ-myc</text>
<text x="117.0" y="1034.3" font-size="14.5" text-anchor="middle" fill="#231f20"><tspan font-style="italic">Casp1</tspan><tspan font-size="9.0" dy="-5.5" font-style="italic" letter-spacing="-1.26">−/−</tspan><tspan dy="5.5" font-style="italic">Casp11</tspan><tspan font-size="9.0" dy="-5.5" font-style="italic" letter-spacing="-1.26">−/−</tspan></text>
<text x="238.6" y="1034.3" font-size="14.5" text-anchor="middle" fill="#231f20"><tspan font-style="italic">Casp1</tspan><tspan font-size="9.0" dy="-5.5" font-style="italic" letter-spacing="-1.26">−/−</tspan><tspan dy="5.5" font-style="italic">Casp11</tspan><tspan font-size="9.0" dy="-5.5" font-style="italic" letter-spacing="-1.26">−/−</tspan></text>
<text x="53.2" y="940.0" font-size="14.5" text-anchor="middle" fill="#231f20" transform="rotate(-90 53.2 940.0)">IdU</text>
<text x="53.2" y="1092.0" font-size="14.5" text-anchor="middle" fill="#231f20" transform="rotate(-90 53.2 1092.0)">IdU</text>
<text x="117.5" y="1176.2" font-size="15.5" text-anchor="middle" fill="#231f20">c-kit</text>
<text x="238.6" y="1176.2" font-size="15.5" text-anchor="middle" fill="#231f20">c-kit</text>
<line x1="60.0" y1="884.9" x2="65.5" y2="884.9" stroke="#111" stroke-width="1.2"/>
<line x1="60.0" y1="911.4" x2="65.5" y2="911.4" stroke="#111" stroke-width="1.2"/>
<line x1="60.0" y1="937.9" x2="65.5" y2="937.9" stroke="#111" stroke-width="1.2"/>
<line x1="60.0" y1="964.4" x2="65.5" y2="964.4" stroke="#111" stroke-width="1.2"/>
<line x1="62.3" y1="903.4" x2="65.5" y2="903.4" stroke="#222" stroke-width="0.9"/>
<line x1="62.3" y1="898.8" x2="65.5" y2="898.8" stroke="#222" stroke-width="0.9"/>
<line x1="62.3" y1="895.4" x2="65.5" y2="895.4" stroke="#222" stroke-width="0.9"/>
<line x1="62.3" y1="892.9" x2="65.5" y2="892.9" stroke="#222" stroke-width="0.9"/>
<line x1="62.3" y1="890.8" x2="65.5" y2="890.8" stroke="#222" stroke-width="0.9"/>
<line x1="62.3" y1="889.0" x2="65.5" y2="889.0" stroke="#222" stroke-width="0.9"/>
<line x1="62.3" y1="887.5" x2="65.5" y2="887.5" stroke="#222" stroke-width="0.9"/>
<line x1="62.3" y1="886.1" x2="65.5" y2="886.1" stroke="#222" stroke-width="0.9"/>
<line x1="62.3" y1="929.9" x2="65.5" y2="929.9" stroke="#222" stroke-width="0.9"/>
<line x1="62.3" y1="925.3" x2="65.5" y2="925.3" stroke="#222" stroke-width="0.9"/>
<line x1="62.3" y1="921.9" x2="65.5" y2="921.9" stroke="#222" stroke-width="0.9"/>
<line x1="62.3" y1="919.4" x2="65.5" y2="919.4" stroke="#222" stroke-width="0.9"/>
<line x1="62.3" y1="917.3" x2="65.5" y2="917.3" stroke="#222" stroke-width="0.9"/>
<line x1="62.3" y1="915.5" x2="65.5" y2="915.5" stroke="#222" stroke-width="0.9"/>
<line x1="62.3" y1="914.0" x2="65.5" y2="914.0" stroke="#222" stroke-width="0.9"/>
<line x1="62.3" y1="912.6" x2="65.5" y2="912.6" stroke="#222" stroke-width="0.9"/>
<line x1="62.3" y1="956.4" x2="65.5" y2="956.4" stroke="#222" stroke-width="0.9"/>
<line x1="62.3" y1="951.8" x2="65.5" y2="951.8" stroke="#222" stroke-width="0.9"/>
<line x1="62.3" y1="948.4" x2="65.5" y2="948.4" stroke="#222" stroke-width="0.9"/>
<line x1="62.3" y1="945.9" x2="65.5" y2="945.9" stroke="#222" stroke-width="0.9"/>
<line x1="62.3" y1="943.8" x2="65.5" y2="943.8" stroke="#222" stroke-width="0.9"/>
<line x1="62.3" y1="942.0" x2="65.5" y2="942.0" stroke="#222" stroke-width="0.9"/>
<line x1="62.3" y1="940.5" x2="65.5" y2="940.5" stroke="#222" stroke-width="0.9"/>
<line x1="62.3" y1="939.1" x2="65.5" y2="939.1" stroke="#222" stroke-width="0.9"/>
<line x1="62.3" y1="982.9" x2="65.5" y2="982.9" stroke="#222" stroke-width="0.9"/>
<line x1="62.3" y1="978.3" x2="65.5" y2="978.3" stroke="#222" stroke-width="0.9"/>
<line x1="62.3" y1="974.9" x2="65.5" y2="974.9" stroke="#222" stroke-width="0.9"/>
<line x1="62.3" y1="972.4" x2="65.5" y2="972.4" stroke="#222" stroke-width="0.9"/>
<line x1="62.3" y1="970.3" x2="65.5" y2="970.3" stroke="#222" stroke-width="0.9"/>
<line x1="62.3" y1="968.5" x2="65.5" y2="968.5" stroke="#222" stroke-width="0.9"/>
<line x1="62.3" y1="967.0" x2="65.5" y2="967.0" stroke="#222" stroke-width="0.9"/>
<line x1="62.3" y1="965.6" x2="65.5" y2="965.6" stroke="#222" stroke-width="0.9"/>
<line x1="62.0" y1="970.4" x2="65.5" y2="970.4" stroke="#222" stroke-width="0.9"/>
<line x1="62.0" y1="974.4" x2="65.5" y2="974.4" stroke="#222" stroke-width="0.9"/>
<line x1="62.0" y1="977.4" x2="65.5" y2="977.4" stroke="#222" stroke-width="0.9"/>
<line x1="62.0" y1="980.4" x2="65.5" y2="980.4" stroke="#222" stroke-width="0.9"/>
<line x1="62.0" y1="982.4" x2="65.5" y2="982.4" stroke="#222" stroke-width="0.9"/>
<line x1="62.0" y1="984.4" x2="65.5" y2="984.4" stroke="#222" stroke-width="0.9"/>
<line x1="62.0" y1="986.4" x2="65.5" y2="986.4" stroke="#222" stroke-width="0.9"/>
<line x1="62.0" y1="988.4" x2="65.5" y2="988.4" stroke="#222" stroke-width="0.9"/>
<line x1="92.0" y1="991.4" x2="92.0" y2="997.9" stroke="#111" stroke-width="1.2"/>
<line x1="118.5" y1="991.4" x2="118.5" y2="997.9" stroke="#111" stroke-width="1.2"/>
<line x1="145.0" y1="991.4" x2="145.0" y2="997.9" stroke="#111" stroke-width="1.2"/>
<line x1="171.5" y1="991.4" x2="171.5" y2="997.9" stroke="#111" stroke-width="1.2"/>
<line x1="100.0" y1="991.4" x2="100.0" y2="995.4" stroke="#222" stroke-width="0.9"/>
<line x1="104.6" y1="991.4" x2="104.6" y2="995.4" stroke="#222" stroke-width="0.9"/>
<line x1="108.0" y1="991.4" x2="108.0" y2="995.4" stroke="#222" stroke-width="0.9"/>
<line x1="110.5" y1="991.4" x2="110.5" y2="995.4" stroke="#222" stroke-width="0.9"/>
<line x1="112.6" y1="991.4" x2="112.6" y2="995.4" stroke="#222" stroke-width="0.9"/>
<line x1="114.4" y1="991.4" x2="114.4" y2="995.4" stroke="#222" stroke-width="0.9"/>
<line x1="115.9" y1="991.4" x2="115.9" y2="995.4" stroke="#222" stroke-width="0.9"/>
<line x1="117.3" y1="991.4" x2="117.3" y2="995.4" stroke="#222" stroke-width="0.9"/>
<line x1="126.5" y1="991.4" x2="126.5" y2="995.4" stroke="#222" stroke-width="0.9"/>
<line x1="131.1" y1="991.4" x2="131.1" y2="995.4" stroke="#222" stroke-width="0.9"/>
<line x1="134.5" y1="991.4" x2="134.5" y2="995.4" stroke="#222" stroke-width="0.9"/>
<line x1="137.0" y1="991.4" x2="137.0" y2="995.4" stroke="#222" stroke-width="0.9"/>
<line x1="139.1" y1="991.4" x2="139.1" y2="995.4" stroke="#222" stroke-width="0.9"/>
<line x1="140.9" y1="991.4" x2="140.9" y2="995.4" stroke="#222" stroke-width="0.9"/>
<line x1="142.4" y1="991.4" x2="142.4" y2="995.4" stroke="#222" stroke-width="0.9"/>
<line x1="143.8" y1="991.4" x2="143.8" y2="995.4" stroke="#222" stroke-width="0.9"/>
<line x1="153.0" y1="991.4" x2="153.0" y2="995.4" stroke="#222" stroke-width="0.9"/>
<line x1="157.6" y1="991.4" x2="157.6" y2="995.4" stroke="#222" stroke-width="0.9"/>
<line x1="161.0" y1="991.4" x2="161.0" y2="995.4" stroke="#222" stroke-width="0.9"/>
<line x1="163.5" y1="991.4" x2="163.5" y2="995.4" stroke="#222" stroke-width="0.9"/>
<line x1="165.6" y1="991.4" x2="165.6" y2="995.4" stroke="#222" stroke-width="0.9"/>
<line x1="167.4" y1="991.4" x2="167.4" y2="995.4" stroke="#222" stroke-width="0.9"/>
<line x1="168.9" y1="991.4" x2="168.9" y2="995.4" stroke="#222" stroke-width="0.9"/>
<line x1="170.3" y1="991.4" x2="170.3" y2="995.4" stroke="#222" stroke-width="0.9"/>
<line x1="67.5" y1="991.4" x2="67.5" y2="995.4" stroke="#222" stroke-width="0.9"/>
<line x1="69.5" y1="991.4" x2="69.5" y2="995.4" stroke="#222" stroke-width="0.9"/>
<line x1="71.5" y1="991.4" x2="71.5" y2="995.4" stroke="#222" stroke-width="0.9"/>
<line x1="73.5" y1="991.4" x2="73.5" y2="995.4" stroke="#222" stroke-width="0.9"/>
<line x1="75.5" y1="991.4" x2="75.5" y2="995.4" stroke="#222" stroke-width="0.9"/>
<line x1="77.5" y1="991.4" x2="77.5" y2="995.4" stroke="#222" stroke-width="0.9"/>
<line x1="79.5" y1="991.4" x2="79.5" y2="995.4" stroke="#222" stroke-width="0.9"/>
<line x1="81.5" y1="991.4" x2="81.5" y2="995.4" stroke="#222" stroke-width="0.9"/>
<line x1="83.5" y1="991.4" x2="83.5" y2="995.4" stroke="#222" stroke-width="0.9"/>
<line x1="85.5" y1="991.4" x2="85.5" y2="995.4" stroke="#222" stroke-width="0.9"/>
<line x1="87.5" y1="991.4" x2="87.5" y2="995.4" stroke="#222" stroke-width="0.9"/>
<line x1="89.5" y1="991.4" x2="89.5" y2="995.4" stroke="#222" stroke-width="0.9"/>
<line x1="174.7" y1="991.4" x2="174.7" y2="997.9" stroke="#111" stroke-width="1.2"/>
<clipPath id="cpA"><rect x="65.5" y="880.5" width="110.19999999999999" height="110.89999999999998"/></clipPath>
<g clip-path="url(#cpA)"><path d="M127,895 C134,896 136,905 135.5,915 C135,928 132.5,945 132,957 C133,965 134.5,975 134,992 L111,992 C110.5,980 112,968 113.5,958 C111,951 108.5,944 108.7,932 C111,933 113,935 114,936 C115,925 117,912 120,903 C122,898 124,895 127,895Z" fill="#2c0a50"/><ellipse cx="124.5" cy="930.0" rx="9.5" ry="31.0" fill="url(#dRed)" transform="rotate(7 124.5 930.0)"/><ellipse cx="124.5" cy="924.0" rx="2.5" ry="12.0" fill="#e0602a" transform="rotate(8 124.5 924.0)"/><ellipse cx="122.5" cy="975.0" rx="10.5" ry="19.5" fill="url(#dHot)"/><rect x="94.50" y="943.00" width="0.90" height="0.90" fill="#5a3a8a"/><rect x="102.00" y="940.00" width="0.90" height="0.90" fill="#5a3a8a"/></g>
<rect x="65.50" y="880.50" width="110.20" height="110.90" fill="none" stroke="#3a3a3a" stroke-width="1.3"/>
<rect x="107.30" y="884.10" width="41.60" height="73.70" fill="none" stroke="#2a2af0" stroke-width="1.6"/>
<text x="78.2" y="895.6" font-size="13.5" fill="#231f20">50.0</text>
<line x1="181.7" y1="884.9" x2="187.2" y2="884.9" stroke="#111" stroke-width="1.2"/>
<line x1="181.7" y1="911.4" x2="187.2" y2="911.4" stroke="#111" stroke-width="1.2"/>
<line x1="181.7" y1="937.9" x2="187.2" y2="937.9" stroke="#111" stroke-width="1.2"/>
<line x1="181.7" y1="964.4" x2="187.2" y2="964.4" stroke="#111" stroke-width="1.2"/>
<line x1="184.0" y1="903.4" x2="187.2" y2="903.4" stroke="#222" stroke-width="0.9"/>
<line x1="184.0" y1="898.8" x2="187.2" y2="898.8" stroke="#222" stroke-width="0.9"/>
<line x1="184.0" y1="895.4" x2="187.2" y2="895.4" stroke="#222" stroke-width="0.9"/>
<line x1="184.0" y1="892.9" x2="187.2" y2="892.9" stroke="#222" stroke-width="0.9"/>
<line x1="184.0" y1="890.8" x2="187.2" y2="890.8" stroke="#222" stroke-width="0.9"/>
<line x1="184.0" y1="889.0" x2="187.2" y2="889.0" stroke="#222" stroke-width="0.9"/>
<line x1="184.0" y1="887.5" x2="187.2" y2="887.5" stroke="#222" stroke-width="0.9"/>
<line x1="184.0" y1="886.1" x2="187.2" y2="886.1" stroke="#222" stroke-width="0.9"/>
<line x1="184.0" y1="929.9" x2="187.2" y2="929.9" stroke="#222" stroke-width="0.9"/>
<line x1="184.0" y1="925.3" x2="187.2" y2="925.3" stroke="#222" stroke-width="0.9"/>
<line x1="184.0" y1="921.9" x2="187.2" y2="921.9" stroke="#222" stroke-width="0.9"/>
<line x1="184.0" y1="919.4" x2="187.2" y2="919.4" stroke="#222" stroke-width="0.9"/>
<line x1="184.0" y1="917.3" x2="187.2" y2="917.3" stroke="#222" stroke-width="0.9"/>
<line x1="184.0" y1="915.5" x2="187.2" y2="915.5" stroke="#222" stroke-width="0.9"/>
<line x1="184.0" y1="914.0" x2="187.2" y2="914.0" stroke="#222" stroke-width="0.9"/>
<line x1="184.0" y1="912.6" x2="187.2" y2="912.6" stroke="#222" stroke-width="0.9"/>
<line x1="184.0" y1="956.4" x2="187.2" y2="956.4" stroke="#222" stroke-width="0.9"/>
<line x1="184.0" y1="951.8" x2="187.2" y2="951.8" stroke="#222" stroke-width="0.9"/>
<line x1="184.0" y1="948.4" x2="187.2" y2="948.4" stroke="#222" stroke-width="0.9"/>
<line x1="184.0" y1="945.9" x2="187.2" y2="945.9" stroke="#222" stroke-width="0.9"/>
<line x1="184.0" y1="943.8" x2="187.2" y2="943.8" stroke="#222" stroke-width="0.9"/>
<line x1="184.0" y1="942.0" x2="187.2" y2="942.0" stroke="#222" stroke-width="0.9"/>
<line x1="184.0" y1="940.5" x2="187.2" y2="940.5" stroke="#222" stroke-width="0.9"/>
<line x1="184.0" y1="939.1" x2="187.2" y2="939.1" stroke="#222" stroke-width="0.9"/>
<line x1="184.0" y1="982.9" x2="187.2" y2="982.9" stroke="#222" stroke-width="0.9"/>
<line x1="184.0" y1="978.3" x2="187.2" y2="978.3" stroke="#222" stroke-width="0.9"/>
<line x1="184.0" y1="974.9" x2="187.2" y2="974.9" stroke="#222" stroke-width="0.9"/>
<line x1="184.0" y1="972.4" x2="187.2" y2="972.4" stroke="#222" stroke-width="0.9"/>
<line x1="184.0" y1="970.3" x2="187.2" y2="970.3" stroke="#222" stroke-width="0.9"/>
<line x1="184.0" y1="968.5" x2="187.2" y2="968.5" stroke="#222" stroke-width="0.9"/>
<line x1="184.0" y1="967.0" x2="187.2" y2="967.0" stroke="#222" stroke-width="0.9"/>
<line x1="184.0" y1="965.6" x2="187.2" y2="965.6" stroke="#222" stroke-width="0.9"/>
<line x1="183.7" y1="970.4" x2="187.2" y2="970.4" stroke="#222" stroke-width="0.9"/>
<line x1="183.7" y1="974.4" x2="187.2" y2="974.4" stroke="#222" stroke-width="0.9"/>
<line x1="183.7" y1="977.4" x2="187.2" y2="977.4" stroke="#222" stroke-width="0.9"/>
<line x1="183.7" y1="980.4" x2="187.2" y2="980.4" stroke="#222" stroke-width="0.9"/>
<line x1="183.7" y1="982.4" x2="187.2" y2="982.4" stroke="#222" stroke-width="0.9"/>
<line x1="183.7" y1="984.4" x2="187.2" y2="984.4" stroke="#222" stroke-width="0.9"/>
<line x1="183.7" y1="986.4" x2="187.2" y2="986.4" stroke="#222" stroke-width="0.9"/>
<line x1="183.7" y1="988.4" x2="187.2" y2="988.4" stroke="#222" stroke-width="0.9"/>
<line x1="213.7" y1="990.9" x2="213.7" y2="997.4" stroke="#111" stroke-width="1.2"/>
<line x1="240.2" y1="990.9" x2="240.2" y2="997.4" stroke="#111" stroke-width="1.2"/>
<line x1="266.7" y1="990.9" x2="266.7" y2="997.4" stroke="#111" stroke-width="1.2"/>
<line x1="293.2" y1="990.9" x2="293.2" y2="997.4" stroke="#111" stroke-width="1.2"/>
<line x1="221.7" y1="990.9" x2="221.7" y2="994.9" stroke="#222" stroke-width="0.9"/>
<line x1="226.3" y1="990.9" x2="226.3" y2="994.9" stroke="#222" stroke-width="0.9"/>
<line x1="229.7" y1="990.9" x2="229.7" y2="994.9" stroke="#222" stroke-width="0.9"/>
<line x1="232.2" y1="990.9" x2="232.2" y2="994.9" stroke="#222" stroke-width="0.9"/>
<line x1="234.3" y1="990.9" x2="234.3" y2="994.9" stroke="#222" stroke-width="0.9"/>
<line x1="236.1" y1="990.9" x2="236.1" y2="994.9" stroke="#222" stroke-width="0.9"/>
<line x1="237.6" y1="990.9" x2="237.6" y2="994.9" stroke="#222" stroke-width="0.9"/>
<line x1="239.0" y1="990.9" x2="239.0" y2="994.9" stroke="#222" stroke-width="0.9"/>
<line x1="248.2" y1="990.9" x2="248.2" y2="994.9" stroke="#222" stroke-width="0.9"/>
<line x1="252.8" y1="990.9" x2="252.8" y2="994.9" stroke="#222" stroke-width="0.9"/>
<line x1="256.2" y1="990.9" x2="256.2" y2="994.9" stroke="#222" stroke-width="0.9"/>
<line x1="258.7" y1="990.9" x2="258.7" y2="994.9" stroke="#222" stroke-width="0.9"/>
<line x1="260.8" y1="990.9" x2="260.8" y2="994.9" stroke="#222" stroke-width="0.9"/>
<line x1="262.6" y1="990.9" x2="262.6" y2="994.9" stroke="#222" stroke-width="0.9"/>
<line x1="264.1" y1="990.9" x2="264.1" y2="994.9" stroke="#222" stroke-width="0.9"/>
<line x1="265.5" y1="990.9" x2="265.5" y2="994.9" stroke="#222" stroke-width="0.9"/>
<line x1="274.7" y1="990.9" x2="274.7" y2="994.9" stroke="#222" stroke-width="0.9"/>
<line x1="279.3" y1="990.9" x2="279.3" y2="994.9" stroke="#222" stroke-width="0.9"/>
<line x1="282.7" y1="990.9" x2="282.7" y2="994.9" stroke="#222" stroke-width="0.9"/>
<line x1="285.2" y1="990.9" x2="285.2" y2="994.9" stroke="#222" stroke-width="0.9"/>
<line x1="287.3" y1="990.9" x2="287.3" y2="994.9" stroke="#222" stroke-width="0.9"/>
<line x1="289.1" y1="990.9" x2="289.1" y2="994.9" stroke="#222" stroke-width="0.9"/>
<line x1="290.6" y1="990.9" x2="290.6" y2="994.9" stroke="#222" stroke-width="0.9"/>
<line x1="292.0" y1="990.9" x2="292.0" y2="994.9" stroke="#222" stroke-width="0.9"/>
<line x1="189.2" y1="990.9" x2="189.2" y2="994.9" stroke="#222" stroke-width="0.9"/>
<line x1="191.2" y1="990.9" x2="191.2" y2="994.9" stroke="#222" stroke-width="0.9"/>
<line x1="193.2" y1="990.9" x2="193.2" y2="994.9" stroke="#222" stroke-width="0.9"/>
<line x1="195.2" y1="990.9" x2="195.2" y2="994.9" stroke="#222" stroke-width="0.9"/>
<line x1="197.2" y1="990.9" x2="197.2" y2="994.9" stroke="#222" stroke-width="0.9"/>
<line x1="199.2" y1="990.9" x2="199.2" y2="994.9" stroke="#222" stroke-width="0.9"/>
<line x1="201.2" y1="990.9" x2="201.2" y2="994.9" stroke="#222" stroke-width="0.9"/>
<line x1="203.2" y1="990.9" x2="203.2" y2="994.9" stroke="#222" stroke-width="0.9"/>
<line x1="205.2" y1="990.9" x2="205.2" y2="994.9" stroke="#222" stroke-width="0.9"/>
<line x1="207.2" y1="990.9" x2="207.2" y2="994.9" stroke="#222" stroke-width="0.9"/>
<line x1="209.2" y1="990.9" x2="209.2" y2="994.9" stroke="#222" stroke-width="0.9"/>
<line x1="211.2" y1="990.9" x2="211.2" y2="994.9" stroke="#222" stroke-width="0.9"/>
<line x1="296.2" y1="990.9" x2="296.2" y2="997.4" stroke="#111" stroke-width="1.2"/>
<clipPath id="cpB"><rect x="187.2" y="880.5" width="110.0" height="110.39999999999998"/></clipPath>
<g clip-path="url(#cpB)"><path d="M246.8,887.5 C252,887.5 255,893 256,900 C256.5,912 255.5,930 255.5,945 C255,958 254.5,970 254.5,992 L234,992 C233.5,980 232.5,968 233.5,958 C233.5,948 232,930 232.4,915 C232.6,907 235,903 237.5,902 C239,896 242,888 246.8,887.5Z" fill="#2c0a50"/><ellipse cx="247.5" cy="925.0" rx="7.5" ry="32.0" fill="url(#dRed)"/><ellipse cx="246.5" cy="915.0" rx="2.5" ry="12.0" fill="#d8461e"/><ellipse cx="244.0" cy="975.0" rx="10.0" ry="19.0" fill="url(#dHot)"/><rect x="225.71" y="978.81" width="0.90" height="0.90" fill="#5a3a8a"/><rect x="231.65" y="979.23" width="0.90" height="0.90" fill="#5a3a8a"/><rect x="243.16" y="975.46" width="0.90" height="0.90" fill="#5a3a8a"/><rect x="215.59" y="980.86" width="0.90" height="0.90" fill="#5a3a8a"/><rect x="226.67" y="976.64" width="0.90" height="0.90" fill="#5a3a8a"/></g>
<rect x="187.20" y="880.50" width="110.00" height="110.40" fill="none" stroke="#3a3a3a" stroke-width="1.3"/>
<rect x="228.60" y="884.10" width="41.90" height="73.90" fill="none" stroke="#2a2af0" stroke-width="1.6"/>
<text x="201.9" y="895.6" font-size="13.5" fill="#231f20">48.1</text>
<line x1="60.0" y1="1045.4" x2="65.5" y2="1045.4" stroke="#111" stroke-width="1.2"/>
<line x1="60.0" y1="1071.9" x2="65.5" y2="1071.9" stroke="#111" stroke-width="1.2"/>
<line x1="60.0" y1="1098.4" x2="65.5" y2="1098.4" stroke="#111" stroke-width="1.2"/>
<line x1="60.0" y1="1124.9" x2="65.5" y2="1124.9" stroke="#111" stroke-width="1.2"/>
<line x1="62.3" y1="1063.9" x2="65.5" y2="1063.9" stroke="#222" stroke-width="0.9"/>
<line x1="62.3" y1="1059.3" x2="65.5" y2="1059.3" stroke="#222" stroke-width="0.9"/>
<line x1="62.3" y1="1055.9" x2="65.5" y2="1055.9" stroke="#222" stroke-width="0.9"/>
<line x1="62.3" y1="1053.4" x2="65.5" y2="1053.4" stroke="#222" stroke-width="0.9"/>
<line x1="62.3" y1="1051.3" x2="65.5" y2="1051.3" stroke="#222" stroke-width="0.9"/>
<line x1="62.3" y1="1049.5" x2="65.5" y2="1049.5" stroke="#222" stroke-width="0.9"/>
<line x1="62.3" y1="1048.0" x2="65.5" y2="1048.0" stroke="#222" stroke-width="0.9"/>
<line x1="62.3" y1="1046.6" x2="65.5" y2="1046.6" stroke="#222" stroke-width="0.9"/>
<line x1="62.3" y1="1090.4" x2="65.5" y2="1090.4" stroke="#222" stroke-width="0.9"/>
<line x1="62.3" y1="1085.8" x2="65.5" y2="1085.8" stroke="#222" stroke-width="0.9"/>
<line x1="62.3" y1="1082.4" x2="65.5" y2="1082.4" stroke="#222" stroke-width="0.9"/>
<line x1="62.3" y1="1079.9" x2="65.5" y2="1079.9" stroke="#222" stroke-width="0.9"/>
<line x1="62.3" y1="1077.8" x2="65.5" y2="1077.8" stroke="#222" stroke-width="0.9"/>
<line x1="62.3" y1="1076.0" x2="65.5" y2="1076.0" stroke="#222" stroke-width="0.9"/>
<line x1="62.3" y1="1074.5" x2="65.5" y2="1074.5" stroke="#222" stroke-width="0.9"/>
<line x1="62.3" y1="1073.1" x2="65.5" y2="1073.1" stroke="#222" stroke-width="0.9"/>
<line x1="62.3" y1="1116.9" x2="65.5" y2="1116.9" stroke="#222" stroke-width="0.9"/>
<line x1="62.3" y1="1112.3" x2="65.5" y2="1112.3" stroke="#222" stroke-width="0.9"/>
<line x1="62.3" y1="1108.9" x2="65.5" y2="1108.9" stroke="#222" stroke-width="0.9"/>
<line x1="62.3" y1="1106.4" x2="65.5" y2="1106.4" stroke="#222" stroke-width="0.9"/>
<line x1="62.3" y1="1104.3" x2="65.5" y2="1104.3" stroke="#222" stroke-width="0.9"/>
<line x1="62.3" y1="1102.5" x2="65.5" y2="1102.5" stroke="#222" stroke-width="0.9"/>
<line x1="62.3" y1="1101.0" x2="65.5" y2="1101.0" stroke="#222" stroke-width="0.9"/>
<line x1="62.3" y1="1099.6" x2="65.5" y2="1099.6" stroke="#222" stroke-width="0.9"/>
<line x1="62.3" y1="1143.4" x2="65.5" y2="1143.4" stroke="#222" stroke-width="0.9"/>
<line x1="62.3" y1="1138.8" x2="65.5" y2="1138.8" stroke="#222" stroke-width="0.9"/>
<line x1="62.3" y1="1135.4" x2="65.5" y2="1135.4" stroke="#222" stroke-width="0.9"/>
<line x1="62.3" y1="1132.9" x2="65.5" y2="1132.9" stroke="#222" stroke-width="0.9"/>
<line x1="62.3" y1="1130.8" x2="65.5" y2="1130.8" stroke="#222" stroke-width="0.9"/>
<line x1="62.3" y1="1129.0" x2="65.5" y2="1129.0" stroke="#222" stroke-width="0.9"/>
<line x1="62.3" y1="1127.5" x2="65.5" y2="1127.5" stroke="#222" stroke-width="0.9"/>
<line x1="62.3" y1="1126.1" x2="65.5" y2="1126.1" stroke="#222" stroke-width="0.9"/>
<line x1="62.0" y1="1130.9" x2="65.5" y2="1130.9" stroke="#222" stroke-width="0.9"/>
<line x1="62.0" y1="1134.9" x2="65.5" y2="1134.9" stroke="#222" stroke-width="0.9"/>
<line x1="62.0" y1="1137.9" x2="65.5" y2="1137.9" stroke="#222" stroke-width="0.9"/>
<line x1="62.0" y1="1140.9" x2="65.5" y2="1140.9" stroke="#222" stroke-width="0.9"/>
<line x1="62.0" y1="1142.9" x2="65.5" y2="1142.9" stroke="#222" stroke-width="0.9"/>
<line x1="62.0" y1="1144.9" x2="65.5" y2="1144.9" stroke="#222" stroke-width="0.9"/>
<line x1="62.0" y1="1146.9" x2="65.5" y2="1146.9" stroke="#222" stroke-width="0.9"/>
<line x1="62.0" y1="1148.9" x2="65.5" y2="1148.9" stroke="#222" stroke-width="0.9"/>
<line x1="92.0" y1="1151.4" x2="92.0" y2="1157.9" stroke="#111" stroke-width="1.2"/>
<line x1="118.5" y1="1151.4" x2="118.5" y2="1157.9" stroke="#111" stroke-width="1.2"/>
<line x1="145.0" y1="1151.4" x2="145.0" y2="1157.9" stroke="#111" stroke-width="1.2"/>
<line x1="171.5" y1="1151.4" x2="171.5" y2="1157.9" stroke="#111" stroke-width="1.2"/>
<line x1="100.0" y1="1151.4" x2="100.0" y2="1155.4" stroke="#222" stroke-width="0.9"/>
<line x1="104.6" y1="1151.4" x2="104.6" y2="1155.4" stroke="#222" stroke-width="0.9"/>
<line x1="108.0" y1="1151.4" x2="108.0" y2="1155.4" stroke="#222" stroke-width="0.9"/>
<line x1="110.5" y1="1151.4" x2="110.5" y2="1155.4" stroke="#222" stroke-width="0.9"/>
<line x1="112.6" y1="1151.4" x2="112.6" y2="1155.4" stroke="#222" stroke-width="0.9"/>
<line x1="114.4" y1="1151.4" x2="114.4" y2="1155.4" stroke="#222" stroke-width="0.9"/>
<line x1="115.9" y1="1151.4" x2="115.9" y2="1155.4" stroke="#222" stroke-width="0.9"/>
<line x1="117.3" y1="1151.4" x2="117.3" y2="1155.4" stroke="#222" stroke-width="0.9"/>
<line x1="126.5" y1="1151.4" x2="126.5" y2="1155.4" stroke="#222" stroke-width="0.9"/>
<line x1="131.1" y1="1151.4" x2="131.1" y2="1155.4" stroke="#222" stroke-width="0.9"/>
<line x1="134.5" y1="1151.4" x2="134.5" y2="1155.4" stroke="#222" stroke-width="0.9"/>
<line x1="137.0" y1="1151.4" x2="137.0" y2="1155.4" stroke="#222" stroke-width="0.9"/>
<line x1="139.1" y1="1151.4" x2="139.1" y2="1155.4" stroke="#222" stroke-width="0.9"/>
<line x1="140.9" y1="1151.4" x2="140.9" y2="1155.4" stroke="#222" stroke-width="0.9"/>
<line x1="142.4" y1="1151.4" x2="142.4" y2="1155.4" stroke="#222" stroke-width="0.9"/>
<line x1="143.8" y1="1151.4" x2="143.8" y2="1155.4" stroke="#222" stroke-width="0.9"/>
<line x1="153.0" y1="1151.4" x2="153.0" y2="1155.4" stroke="#222" stroke-width="0.9"/>
<line x1="157.6" y1="1151.4" x2="157.6" y2="1155.4" stroke="#222" stroke-width="0.9"/>
<line x1="161.0" y1="1151.4" x2="161.0" y2="1155.4" stroke="#222" stroke-width="0.9"/>
<line x1="163.5" y1="1151.4" x2="163.5" y2="1155.4" stroke="#222" stroke-width="0.9"/>
<line x1="165.6" y1="1151.4" x2="165.6" y2="1155.4" stroke="#222" stroke-width="0.9"/>
<line x1="167.4" y1="1151.4" x2="167.4" y2="1155.4" stroke="#222" stroke-width="0.9"/>
<line x1="168.9" y1="1151.4" x2="168.9" y2="1155.4" stroke="#222" stroke-width="0.9"/>
<line x1="170.3" y1="1151.4" x2="170.3" y2="1155.4" stroke="#222" stroke-width="0.9"/>
<line x1="67.5" y1="1151.4" x2="67.5" y2="1155.4" stroke="#222" stroke-width="0.9"/>
<line x1="69.5" y1="1151.4" x2="69.5" y2="1155.4" stroke="#222" stroke-width="0.9"/>
<line x1="71.5" y1="1151.4" x2="71.5" y2="1155.4" stroke="#222" stroke-width="0.9"/>
<line x1="73.5" y1="1151.4" x2="73.5" y2="1155.4" stroke="#222" stroke-width="0.9"/>
<line x1="75.5" y1="1151.4" x2="75.5" y2="1155.4" stroke="#222" stroke-width="0.9"/>
<line x1="77.5" y1="1151.4" x2="77.5" y2="1155.4" stroke="#222" stroke-width="0.9"/>
<line x1="79.5" y1="1151.4" x2="79.5" y2="1155.4" stroke="#222" stroke-width="0.9"/>
<line x1="81.5" y1="1151.4" x2="81.5" y2="1155.4" stroke="#222" stroke-width="0.9"/>
<line x1="83.5" y1="1151.4" x2="83.5" y2="1155.4" stroke="#222" stroke-width="0.9"/>
<line x1="85.5" y1="1151.4" x2="85.5" y2="1155.4" stroke="#222" stroke-width="0.9"/>
<line x1="87.5" y1="1151.4" x2="87.5" y2="1155.4" stroke="#222" stroke-width="0.9"/>
<line x1="89.5" y1="1151.4" x2="89.5" y2="1155.4" stroke="#222" stroke-width="0.9"/>
<line x1="175.5" y1="1151.4" x2="175.5" y2="1157.9" stroke="#111" stroke-width="1.2"/>
<clipPath id="cpC"><rect x="65.5" y="1041" width="111.0" height="110.40000000000009"/></clipPath>
<g clip-path="url(#cpC)"><path d="M121.3,1050.4 C128,1050.5 133,1057 135.5,1064 C138,1072 139.5,1080 139.5,1090 C139.5,1100 136,1110 133.5,1118 C133,1130 134,1140 133.5,1153 L108,1153 C107.5,1140 107.5,1128 108.5,1118 C108.5,1105 108.5,1090 108.6,1075 C108.8,1062 114,1051 121.3,1050.4Z" fill="#2c0a50"/><ellipse cx="121.0" cy="1086.0" rx="10.0" ry="30.0" fill="url(#dHot)"/><ellipse cx="121.3" cy="1136.0" rx="10.0" ry="17.0" fill="url(#dHot)"/><rect x="102.92" y="1102.92" width="0.90" height="0.90" fill="#5a3a8a"/><rect x="100.06" y="1103.34" width="0.90" height="0.90" fill="#5a3a8a"/><rect x="96.50" y="1080.54" width="0.90" height="0.90" fill="#5a3a8a"/><rect x="96.43" y="1130.76" width="0.90" height="0.90" fill="#5a3a8a"/><rect x="94.42" y="1121.89" width="0.90" height="0.90" fill="#5a3a8a"/><rect x="97.09" y="1074.48" width="0.90" height="0.90" fill="#5a3a8a"/></g>
<rect x="65.50" y="1041.00" width="111.00" height="110.40" fill="none" stroke="#3a3a3a" stroke-width="1.3"/>
<rect x="107.50" y="1044.40" width="41.90" height="73.70" fill="none" stroke="#2a2af0" stroke-width="1.6"/>
<text x="79.0" y="1056.5" font-size="13.5" fill="#231f20">62.5</text>
<line x1="180.9" y1="1045.4" x2="186.4" y2="1045.4" stroke="#111" stroke-width="1.2"/>
<line x1="180.9" y1="1071.9" x2="186.4" y2="1071.9" stroke="#111" stroke-width="1.2"/>
<line x1="180.9" y1="1098.4" x2="186.4" y2="1098.4" stroke="#111" stroke-width="1.2"/>
<line x1="180.9" y1="1124.9" x2="186.4" y2="1124.9" stroke="#111" stroke-width="1.2"/>
<line x1="183.2" y1="1063.9" x2="186.4" y2="1063.9" stroke="#222" stroke-width="0.9"/>
<line x1="183.2" y1="1059.3" x2="186.4" y2="1059.3" stroke="#222" stroke-width="0.9"/>
<line x1="183.2" y1="1055.9" x2="186.4" y2="1055.9" stroke="#222" stroke-width="0.9"/>
<line x1="183.2" y1="1053.4" x2="186.4" y2="1053.4" stroke="#222" stroke-width="0.9"/>
<line x1="183.2" y1="1051.3" x2="186.4" y2="1051.3" stroke="#222" stroke-width="0.9"/>
<line x1="183.2" y1="1049.5" x2="186.4" y2="1049.5" stroke="#222" stroke-width="0.9"/>
<line x1="183.2" y1="1048.0" x2="186.4" y2="1048.0" stroke="#222" stroke-width="0.9"/>
<line x1="183.2" y1="1046.6" x2="186.4" y2="1046.6" stroke="#222" stroke-width="0.9"/>
<line x1="183.2" y1="1090.4" x2="186.4" y2="1090.4" stroke="#222" stroke-width="0.9"/>
<line x1="183.2" y1="1085.8" x2="186.4" y2="1085.8" stroke="#222" stroke-width="0.9"/>
<line x1="183.2" y1="1082.4" x2="186.4" y2="1082.4" stroke="#222" stroke-width="0.9"/>
<line x1="183.2" y1="1079.9" x2="186.4" y2="1079.9" stroke="#222" stroke-width="0.9"/>
<line x1="183.2" y1="1077.8" x2="186.4" y2="1077.8" stroke="#222" stroke-width="0.9"/>
<line x1="183.2" y1="1076.0" x2="186.4" y2="1076.0" stroke="#222" stroke-width="0.9"/>
<line x1="183.2" y1="1074.5" x2="186.4" y2="1074.5" stroke="#222" stroke-width="0.9"/>
<line x1="183.2" y1="1073.1" x2="186.4" y2="1073.1" stroke="#222" stroke-width="0.9"/>
<line x1="183.2" y1="1116.9" x2="186.4" y2="1116.9" stroke="#222" stroke-width="0.9"/>
<line x1="183.2" y1="1112.3" x2="186.4" y2="1112.3" stroke="#222" stroke-width="0.9"/>
<line x1="183.2" y1="1108.9" x2="186.4" y2="1108.9" stroke="#222" stroke-width="0.9"/>
<line x1="183.2" y1="1106.4" x2="186.4" y2="1106.4" stroke="#222" stroke-width="0.9"/>
<line x1="183.2" y1="1104.3" x2="186.4" y2="1104.3" stroke="#222" stroke-width="0.9"/>
<line x1="183.2" y1="1102.5" x2="186.4" y2="1102.5" stroke="#222" stroke-width="0.9"/>
<line x1="183.2" y1="1101.0" x2="186.4" y2="1101.0" stroke="#222" stroke-width="0.9"/>
<line x1="183.2" y1="1099.6" x2="186.4" y2="1099.6" stroke="#222" stroke-width="0.9"/>
<line x1="183.2" y1="1143.4" x2="186.4" y2="1143.4" stroke="#222" stroke-width="0.9"/>
<line x1="183.2" y1="1138.8" x2="186.4" y2="1138.8" stroke="#222" stroke-width="0.9"/>
<line x1="183.2" y1="1135.4" x2="186.4" y2="1135.4" stroke="#222" stroke-width="0.9"/>
<line x1="183.2" y1="1132.9" x2="186.4" y2="1132.9" stroke="#222" stroke-width="0.9"/>
<line x1="183.2" y1="1130.8" x2="186.4" y2="1130.8" stroke="#222" stroke-width="0.9"/>
<line x1="183.2" y1="1129.0" x2="186.4" y2="1129.0" stroke="#222" stroke-width="0.9"/>
<line x1="183.2" y1="1127.5" x2="186.4" y2="1127.5" stroke="#222" stroke-width="0.9"/>
<line x1="183.2" y1="1126.1" x2="186.4" y2="1126.1" stroke="#222" stroke-width="0.9"/>
<line x1="182.9" y1="1130.9" x2="186.4" y2="1130.9" stroke="#222" stroke-width="0.9"/>
<line x1="182.9" y1="1134.9" x2="186.4" y2="1134.9" stroke="#222" stroke-width="0.9"/>
<line x1="182.9" y1="1137.9" x2="186.4" y2="1137.9" stroke="#222" stroke-width="0.9"/>
<line x1="182.9" y1="1140.9" x2="186.4" y2="1140.9" stroke="#222" stroke-width="0.9"/>
<line x1="182.9" y1="1142.9" x2="186.4" y2="1142.9" stroke="#222" stroke-width="0.9"/>
<line x1="182.9" y1="1144.9" x2="186.4" y2="1144.9" stroke="#222" stroke-width="0.9"/>
<line x1="182.9" y1="1146.9" x2="186.4" y2="1146.9" stroke="#222" stroke-width="0.9"/>
<line x1="182.9" y1="1148.9" x2="186.4" y2="1148.9" stroke="#222" stroke-width="0.9"/>
<line x1="212.9" y1="1152.3" x2="212.9" y2="1158.8" stroke="#111" stroke-width="1.2"/>
<line x1="239.4" y1="1152.3" x2="239.4" y2="1158.8" stroke="#111" stroke-width="1.2"/>
<line x1="265.9" y1="1152.3" x2="265.9" y2="1158.8" stroke="#111" stroke-width="1.2"/>
<line x1="292.4" y1="1152.3" x2="292.4" y2="1158.8" stroke="#111" stroke-width="1.2"/>
<line x1="220.9" y1="1152.3" x2="220.9" y2="1156.3" stroke="#222" stroke-width="0.9"/>
<line x1="225.5" y1="1152.3" x2="225.5" y2="1156.3" stroke="#222" stroke-width="0.9"/>
<line x1="228.9" y1="1152.3" x2="228.9" y2="1156.3" stroke="#222" stroke-width="0.9"/>
<line x1="231.4" y1="1152.3" x2="231.4" y2="1156.3" stroke="#222" stroke-width="0.9"/>
<line x1="233.5" y1="1152.3" x2="233.5" y2="1156.3" stroke="#222" stroke-width="0.9"/>
<line x1="235.3" y1="1152.3" x2="235.3" y2="1156.3" stroke="#222" stroke-width="0.9"/>
<line x1="236.8" y1="1152.3" x2="236.8" y2="1156.3" stroke="#222" stroke-width="0.9"/>
<line x1="238.2" y1="1152.3" x2="238.2" y2="1156.3" stroke="#222" stroke-width="0.9"/>
<line x1="247.4" y1="1152.3" x2="247.4" y2="1156.3" stroke="#222" stroke-width="0.9"/>
<line x1="252.0" y1="1152.3" x2="252.0" y2="1156.3" stroke="#222" stroke-width="0.9"/>
<line x1="255.4" y1="1152.3" x2="255.4" y2="1156.3" stroke="#222" stroke-width="0.9"/>
<line x1="257.9" y1="1152.3" x2="257.9" y2="1156.3" stroke="#222" stroke-width="0.9"/>
<line x1="260.0" y1="1152.3" x2="260.0" y2="1156.3" stroke="#222" stroke-width="0.9"/>
<line x1="261.8" y1="1152.3" x2="261.8" y2="1156.3" stroke="#222" stroke-width="0.9"/>
<line x1="263.3" y1="1152.3" x2="263.3" y2="1156.3" stroke="#222" stroke-width="0.9"/>
<line x1="264.7" y1="1152.3" x2="264.7" y2="1156.3" stroke="#222" stroke-width="0.9"/>
<line x1="273.9" y1="1152.3" x2="273.9" y2="1156.3" stroke="#222" stroke-width="0.9"/>
<line x1="278.5" y1="1152.3" x2="278.5" y2="1156.3" stroke="#222" stroke-width="0.9"/>
<line x1="281.9" y1="1152.3" x2="281.9" y2="1156.3" stroke="#222" stroke-width="0.9"/>
<line x1="284.4" y1="1152.3" x2="284.4" y2="1156.3" stroke="#222" stroke-width="0.9"/>
<line x1="286.5" y1="1152.3" x2="286.5" y2="1156.3" stroke="#222" stroke-width="0.9"/>
<line x1="288.3" y1="1152.3" x2="288.3" y2="1156.3" stroke="#222" stroke-width="0.9"/>
<line x1="289.8" y1="1152.3" x2="289.8" y2="1156.3" stroke="#222" stroke-width="0.9"/>
<line x1="291.2" y1="1152.3" x2="291.2" y2="1156.3" stroke="#222" stroke-width="0.9"/>
<line x1="188.4" y1="1152.3" x2="188.4" y2="1156.3" stroke="#222" stroke-width="0.9"/>
<line x1="190.4" y1="1152.3" x2="190.4" y2="1156.3" stroke="#222" stroke-width="0.9"/>
<line x1="192.4" y1="1152.3" x2="192.4" y2="1156.3" stroke="#222" stroke-width="0.9"/>
<line x1="194.4" y1="1152.3" x2="194.4" y2="1156.3" stroke="#222" stroke-width="0.9"/>
<line x1="196.4" y1="1152.3" x2="196.4" y2="1156.3" stroke="#222" stroke-width="0.9"/>
<line x1="198.4" y1="1152.3" x2="198.4" y2="1156.3" stroke="#222" stroke-width="0.9"/>
<line x1="200.4" y1="1152.3" x2="200.4" y2="1156.3" stroke="#222" stroke-width="0.9"/>
<line x1="202.4" y1="1152.3" x2="202.4" y2="1156.3" stroke="#222" stroke-width="0.9"/>
<line x1="204.4" y1="1152.3" x2="204.4" y2="1156.3" stroke="#222" stroke-width="0.9"/>
<line x1="206.4" y1="1152.3" x2="206.4" y2="1156.3" stroke="#222" stroke-width="0.9"/>
<line x1="208.4" y1="1152.3" x2="208.4" y2="1156.3" stroke="#222" stroke-width="0.9"/>
<line x1="210.4" y1="1152.3" x2="210.4" y2="1156.3" stroke="#222" stroke-width="0.9"/>
<line x1="296.2" y1="1152.3" x2="296.2" y2="1158.8" stroke="#111" stroke-width="1.2"/>
<clipPath id="cpD"><rect x="186.4" y="1041" width="110.79999999999998" height="111.29999999999995"/></clipPath>
<g clip-path="url(#cpD)"><rect x="260.09" y="1094.65" width="0.90" height="0.90" fill="#5a3a8a"/><rect x="241.35" y="1059.92" width="0.90" height="0.90" fill="#5a3a8a"/><rect x="264.49" y="1087.31" width="0.90" height="0.90" fill="#5a3a8a"/><rect x="258.47" y="1112.49" width="0.90" height="0.90" fill="#5a3a8a"/><rect x="258.28" y="1115.11" width="0.90" height="0.90" fill="#5a3a8a"/><rect x="245.19" y="1107.66" width="0.90" height="0.90" fill="#5a3a8a"/><rect x="247.23" y="1116.01" width="0.90" height="0.90" fill="#5a3a8a"/><rect x="265.03" y="1064.04" width="0.90" height="0.90" fill="#5a3a8a"/><rect x="234.57" y="1071.45" width="0.90" height="0.90" fill="#5a3a8a"/><rect x="268.58" y="1085.04" width="0.90" height="0.90" fill="#5a3a8a"/><rect x="254.69" y="1076.66" width="0.90" height="0.90" fill="#5a3a8a"/><rect x="249.80" y="1081.92" width="0.90" height="0.90" fill="#5a3a8a"/><rect x="243.39" y="1094.27" width="0.90" height="0.90" fill="#5a3a8a"/><rect x="252.95" y="1114.06" width="0.90" height="0.90" fill="#5a3a8a"/><rect x="256.96" y="1115.59" width="0.90" height="0.90" fill="#5a3a8a"/><rect x="264.11" y="1119.44" width="0.90" height="0.90" fill="#5a3a8a"/><rect x="256.52" y="1068.11" width="0.90" height="0.90" fill="#5a3a8a"/><rect x="264.29" y="1117.81" width="0.90" height="0.90" fill="#5a3a8a"/><rect x="266.09" y="1093.28" width="0.90" height="0.90" fill="#5a3a8a"/><rect x="258.27" y="1071.09" width="0.90" height="0.90" fill="#5a3a8a"/><rect x="263.10" y="1093.56" width="0.90" height="0.90" fill="#5a3a8a"/><rect x="240.68" y="1061.93" width="0.90" height="0.90" fill="#5a3a8a"/><rect x="264.01" y="1119.37" width="0.90" height="0.90" fill="#5a3a8a"/><rect x="232.63" y="1107.64" width="0.90" height="0.90" fill="#5a3a8a"/><rect x="245.83" y="1067.35" width="0.90" height="0.90" fill="#5a3a8a"/><rect x="241.05" y="1105.67" width="0.90" height="0.90" fill="#5a3a8a"/><rect x="264.78" y="1060.74" width="0.90" height="0.90" fill="#5a3a8a"/><rect x="254.20" y="1060.79" width="0.90" height="0.90" fill="#5a3a8a"/><rect x="258.46" y="1078.52" width="0.90" height="0.90" fill="#5a3a8a"/><rect x="265.12" y="1118.80" width="0.90" height="0.90" fill="#5a3a8a"/><rect x="249.72" y="1119.91" width="0.90" height="0.90" fill="#5a3a8a"/><rect x="241.70" y="1062.77" width="0.90" height="0.90" fill="#5a3a8a"/><rect x="253.59" y="1059.95" width="0.90" height="0.90" fill="#5a3a8a"/><rect x="237.09" y="1083.29" width="0.90" height="0.90" fill="#5a3a8a"/><rect x="254.03" y="1067.68" width="0.90" height="0.90" fill="#5a3a8a"/><rect x="230.74" y="1111.80" width="0.90" height="0.90" fill="#5a3a8a"/><rect x="241.87" y="1117.44" width="0.90" height="0.90" fill="#5a3a8a"/><rect x="265.76" y="1081.42" width="0.90" height="0.90" fill="#5a3a8a"/><rect x="247.88" y="1090.24" width="0.90" height="0.90" fill="#5a3a8a"/><rect x="255.40" y="1094.93" width="0.90" height="0.90" fill="#5a3a8a"/><rect x="251.93" y="1096.45" width="0.90" height="0.90" fill="#5a3a8a"/><rect x="267.57" y="1089.44" width="0.90" height="0.90" fill="#5a3a8a"/><rect x="246.68" y="1102.66" width="0.90" height="0.90" fill="#5a3a8a"/><rect x="238.74" y="1076.67" width="0.90" height="0.90" fill="#5a3a8a"/><rect x="269.09" y="1090.31" width="0.90" height="0.90" fill="#5a3a8a"/><rect x="251.49" y="1058.71" width="0.90" height="0.90" fill="#5a3a8a"/><rect x="246.02" y="1093.96" width="0.90" height="0.90" fill="#5a3a8a"/><rect x="229.82" y="1096.18" width="0.90" height="0.90" fill="#5a3a8a"/><rect x="254.92" y="1061.72" width="0.90" height="0.90" fill="#5a3a8a"/><rect x="254.72" y="1086.91" width="0.90" height="0.90" fill="#5a3a8a"/><rect x="256.85" y="1079.86" width="0.90" height="0.90" fill="#5a3a8a"/><rect x="257.98" y="1103.76" width="0.90" height="0.90" fill="#5a3a8a"/><rect x="229.91" y="1061.76" width="0.90" height="0.90" fill="#5a3a8a"/><rect x="256.72" y="1117.72" width="0.90" height="0.90" fill="#5a3a8a"/><rect x="239.30" y="1086.29" width="0.90" height="0.90" fill="#5a3a8a"/><rect x="253.30" y="1077.84" width="0.90" height="0.90" fill="#5a3a8a"/><rect x="243.92" y="1077.39" width="0.90" height="0.90" fill="#5a3a8a"/><rect x="244.14" y="1094.93" width="0.90" height="0.90" fill="#5a3a8a"/><rect x="241.32" y="1081.38" width="0.90" height="0.90" fill="#5a3a8a"/><rect x="260.66" y="1059.67" width="0.90" height="0.90" fill="#5a3a8a"/><rect x="252.34" y="1103.58" width="0.90" height="0.90" fill="#5a3a8a"/><rect x="241.71" y="1071.80" width="0.90" height="0.90" fill="#5a3a8a"/><rect x="261.96" y="1072.80" width="0.90" height="0.90" fill="#5a3a8a"/><rect x="236.68" y="1084.98" width="0.90" height="0.90" fill="#5a3a8a"/><rect x="257.62" y="1064.31" width="0.90" height="0.90" fill="#5a3a8a"/><rect x="242.20" y="1078.69" width="0.90" height="0.90" fill="#5a3a8a"/><rect x="263.18" y="1085.18" width="0.90" height="0.90" fill="#5a3a8a"/><rect x="264.08" y="1068.50" width="0.90" height="0.90" fill="#5a3a8a"/><rect x="242.81" y="1098.31" width="0.90" height="0.90" fill="#5a3a8a"/><rect x="265.28" y="1085.97" width="0.90" height="0.90" fill="#5a3a8a"/><rect x="238.23" y="1065.50" width="0.90" height="0.90" fill="#5a3a8a"/><rect x="250.71" y="1069.83" width="0.90" height="0.90" fill="#5a3a8a"/><rect x="262.08" y="1109.99" width="0.90" height="0.90" fill="#5a3a8a"/><rect x="236.53" y="1075.27" width="0.90" height="0.90" fill="#5a3a8a"/><rect x="262.10" y="1097.80" width="0.90" height="0.90" fill="#5a3a8a"/><rect x="262.06" y="1079.41" width="0.90" height="0.90" fill="#5a3a8a"/><rect x="234.32" y="1076.10" width="0.90" height="0.90" fill="#5a3a8a"/><rect x="261.55" y="1074.81" width="0.90" height="0.90" fill="#5a3a8a"/><rect x="243.20" y="1083.85" width="0.90" height="0.90" fill="#5a3a8a"/><rect x="246.21" y="1083.39" width="0.90" height="0.90" fill="#5a3a8a"/><rect x="266.75" y="1067.67" width="0.90" height="0.90" fill="#5a3a8a"/><rect x="229.19" y="1116.48" width="0.90" height="0.90" fill="#5a3a8a"/><rect x="265.08" y="1119.19" width="0.90" height="0.90" fill="#5a3a8a"/><rect x="246.81" y="1116.91" width="0.90" height="0.90" fill="#5a3a8a"/><rect x="267.02" y="1071.77" width="0.90" height="0.90" fill="#5a3a8a"/><rect x="259.57" y="1109.88" width="0.90" height="0.90" fill="#5a3a8a"/><rect x="256.18" y="1090.18" width="0.90" height="0.90" fill="#5a3a8a"/><rect x="240.85" y="1079.15" width="0.90" height="0.90" fill="#5a3a8a"/><rect x="238.33" y="1062.22" width="0.90" height="0.90" fill="#5a3a8a"/><rect x="253.14" y="1075.79" width="0.90" height="0.90" fill="#5a3a8a"/><rect x="262.22" y="1060.79" width="0.90" height="0.90" fill="#5a3a8a"/><rect x="266.05" y="1101.01" width="0.90" height="0.90" fill="#5a3a8a"/><rect x="266.88" y="1113.59" width="0.90" height="0.90" fill="#5a3a8a"/><rect x="265.89" y="1093.77" width="0.90" height="0.90" fill="#5a3a8a"/><rect x="229.54" y="1104.21" width="0.90" height="0.90" fill="#5a3a8a"/><rect x="236.04" y="1076.59" width="0.90" height="0.90" fill="#5a3a8a"/><rect x="256.18" y="1090.55" width="0.90" height="0.90" fill="#5a3a8a"/><rect x="245.96" y="1116.22" width="0.90" height="0.90" fill="#5a3a8a"/><rect x="254.10" y="1079.16" width="0.90" height="0.90" fill="#5a3a8a"/><rect x="239.35" y="1111.42" width="0.90" height="0.90" fill="#5a3a8a"/><rect x="248.57" y="1106.50" width="0.90" height="0.90" fill="#5a3a8a"/><rect x="243.43" y="1070.23" width="0.90" height="0.90" fill="#5a3a8a"/><rect x="250.92" y="1108.64" width="0.90" height="0.90" fill="#5a3a8a"/><rect x="236.02" y="1107.08" width="0.90" height="0.90" fill="#5a3a8a"/><rect x="266.79" y="1107.98" width="0.90" height="0.90" fill="#5a3a8a"/><rect x="262.76" y="1058.47" width="0.90" height="0.90" fill="#5a3a8a"/><rect x="254.77" y="1111.48" width="0.90" height="0.90" fill="#5a3a8a"/><rect x="231.05" y="1074.83" width="0.90" height="0.90" fill="#5a3a8a"/><rect x="240.01" y="1090.69" width="0.90" height="0.90" fill="#5a3a8a"/><rect x="246.34" y="1087.32" width="0.90" height="0.90" fill="#5a3a8a"/><rect x="259.41" y="1120.05" width="0.90" height="0.90" fill="#5a3a8a"/><rect x="241.37" y="1123.17" width="0.90" height="0.90" fill="#5a3a8a"/><rect x="243.12" y="1121.71" width="0.90" height="0.90" fill="#5a3a8a"/><rect x="264.37" y="1141.36" width="0.90" height="0.90" fill="#5a3a8a"/><rect x="242.15" y="1132.55" width="0.90" height="0.90" fill="#5a3a8a"/><rect x="247.90" y="1127.86" width="0.90" height="0.90" fill="#5a3a8a"/><rect x="248.78" y="1136.17" width="0.90" height="0.90" fill="#5a3a8a"/><rect x="254.67" y="1129.02" width="0.90" height="0.90" fill="#5a3a8a"/><rect x="244.78" y="1128.22" width="0.90" height="0.90" fill="#5a3a8a"/><rect x="243.09" y="1133.89" width="0.90" height="0.90" fill="#5a3a8a"/><rect x="257.90" y="1129.51" width="0.90" height="0.90" fill="#5a3a8a"/><rect x="242.00" y="1124.46" width="0.90" height="0.90" fill="#5a3a8a"/><path d="M253,1062 C261,1062 265,1068 265,1076 C265,1083 263,1087 264,1092 C266,1100 265,1110 259,1116 C256,1119 253,1120 252,1122 C255,1126 257,1132 257,1140 C257,1147 253,1150 247,1150 C241,1150 238,1146 238.5,1140 C239,1133 245,1127 249,1122 C245,1118 240,1112 239,1104 C238,1097 238.5,1090 239,1086 C238,1080 238.5,1073 241,1068 C244,1063 248,1062 253,1062Z" fill="#2c0a50"/><ellipse cx="253.0" cy="1090.0" rx="11.0" ry="22.0" fill="url(#dRed)"/><ellipse cx="253.4" cy="1078.6" rx="10.0" ry="12.0" fill="url(#dHot)"/><ellipse cx="253.4" cy="1101.0" rx="11.0" ry="14.0" fill="url(#dHot)"/><ellipse cx="247.5" cy="1139.5" rx="5.5" ry="6.5" fill="url(#dDark)"/></g>
<rect x="186.40" y="1041.00" width="110.80" height="111.30" fill="none" stroke="#3a3a3a" stroke-width="1.3"/>
<rect x="228.60" y="1044.70" width="41.90" height="74.20" fill="none" stroke="#2a2af0" stroke-width="1.6"/>
<text x="198.2" y="1057.4" font-size="13.5" fill="#231f20">87.9</text>
<text x="369.5" y="844.2" font-size="20.5" font-weight="bold" fill="#000" stroke="#000" stroke-width="0.9">f</text>
<text x="571.0" y="855.8" font-size="14.5" text-anchor="middle" fill="#231f20"><tspan font-style="italic">Eμ-myc </tspan><tspan font-style="italic">Casp1</tspan><tspan font-size="9.0" dy="-5.5" font-style="italic" letter-spacing="-1.26">−/−</tspan><tspan dy="5.5" font-style="italic">Casp11</tspan><tspan font-size="9.0" dy="-5.5" font-style="italic" letter-spacing="-1.26">−/−</tspan></text>
<line x1="484.0" y1="863.4" x2="659.0" y2="863.4" stroke="#4a4a4a" stroke-width="1.2"/>
<text x="570.0" y="880.0" font-size="14.5" text-anchor="middle" font-style="italic" fill="#231f20">Eμ-myc</text>
<line x1="437.4" y1="955.7" x2="437.4" y2="1099.3" stroke="#4a4a4a" stroke-width="1.2"/>
<line x1="437.4" y1="867.2" x2="437.4" y2="934.0" stroke="#4a4a4a" stroke-width="1.2"/>
<line x1="433.1" y1="938.5" x2="441.4" y2="930.5" stroke="#4a4a4a" stroke-width="1.2"/>
<line x1="433.1" y1="958.9" x2="441.4" y2="951.3" stroke="#4a4a4a" stroke-width="1.2"/>
<line x1="437.4" y1="1099.3" x2="717.8" y2="1099.3" stroke="#4a4a4a" stroke-width="1.2"/>
<line x1="431.0" y1="1099.3" x2="437.4" y2="1099.3" stroke="#4a4a4a" stroke-width="1.2"/>
<text x="424.5" y="1104.1" font-size="14" text-anchor="end" fill="#231f20">0</text>
<line x1="431.0" y1="1041.7" x2="437.4" y2="1041.7" stroke="#4a4a4a" stroke-width="1.2"/>
<text x="424.5" y="1046.5" font-size="14" text-anchor="end" fill="#231f20">20</text>
<line x1="431.0" y1="983.8" x2="437.4" y2="983.8" stroke="#4a4a4a" stroke-width="1.2"/>
<text x="424.5" y="988.6" font-size="14" text-anchor="end" fill="#231f20">40</text>
<line x1="431.0" y1="867.2" x2="437.4" y2="867.2" stroke="#4a4a4a" stroke-width="1.2"/>
<text x="424.5" y="872.0" font-size="14" text-anchor="end" fill="#231f20">200</text>
<line x1="431.0" y1="889.9" x2="437.4" y2="889.9" stroke="#4a4a4a" stroke-width="1.2"/>
<text x="424.5" y="894.7" font-size="14" text-anchor="end" fill="#231f20">150</text>
<line x1="431.0" y1="912.4" x2="437.4" y2="912.4" stroke="#4a4a4a" stroke-width="1.2"/>
<text x="424.5" y="917.2" font-size="14" text-anchor="end" fill="#231f20">100</text>
<text x="424.5" y="938.8" font-size="14" text-anchor="end" fill="#231f20">50</text>
<text x="392.0" y="981.5" font-size="15.5" text-anchor="middle" fill="#231f20" transform="rotate(-90 392.0 981.5)"><tspan>Percentage increase in IdU</tspan><tspan font-size="9.6" dy="-5.9">+</tspan><tspan dy="5.9"> cells</tspan></text>
<rect x="446.40" y="973.44" width="15.20" height="125.86" fill="#d5d5d5" stroke="#444" stroke-width="1"/>
<rect x="471.10" y="1039.40" width="15.20" height="59.90" fill="#d5d5d5" stroke="#444" stroke-width="1"/>
<rect x="495.50" y="978.34" width="15.20" height="120.96" fill="#d5d5d5" stroke="#444" stroke-width="1"/>
<rect x="520.20" y="1013.76" width="15.20" height="85.54" fill="#d5d5d5" stroke="#444" stroke-width="1"/>
<rect x="545.20" y="1070.50" width="15.20" height="28.80" fill="#000"/>
<rect x="569.90" y="1082.02" width="15.20" height="17.28" fill="#000"/>
<rect x="594.60" y="1087.78" width="15.20" height="11.52" fill="#000"/>
<rect x="619.40" y="1055.24" width="15.20" height="44.06" fill="#000"/>
<rect x="644.00" y="1076.26" width="15.20" height="23.04" fill="#000"/>
<rect x="668.70" y="1033.64" width="15.20" height="65.66" fill="#000"/>
<rect x="693.80" y="955.50" width="15.20" height="143.80" fill="#000"/>
<rect x="693.80" y="880.20" width="15.20" height="54.40" fill="#000"/>
<text x="454.3" y="975.5" font-size="17" text-anchor="middle" fill="#231f20">*</text>
<text x="701.7" y="880.5" font-size="17" text-anchor="middle" fill="#231f20">*</text>
<line x1="454.0" y1="1099.3" x2="454.0" y2="1104.3" stroke="#4a4a4a" stroke-width="1.2"/>
<text x="459.6" y="1117.0" font-size="15" text-anchor="end" fill="#231f20" transform="rotate(-45 459.6 1117.0)"><tspan>LT-HSC</tspan></text>
<line x1="478.7" y1="1099.3" x2="478.7" y2="1104.3" stroke="#4a4a4a" stroke-width="1.2"/>
<text x="484.3" y="1117.0" font-size="15" text-anchor="end" fill="#231f20" transform="rotate(-45 484.3 1117.0)"><tspan>ST-HSC</tspan></text>
<line x1="503.1" y1="1099.3" x2="503.1" y2="1104.3" stroke="#4a4a4a" stroke-width="1.2"/>
<text x="508.7" y="1117.0" font-size="15" text-anchor="end" fill="#231f20" transform="rotate(-45 508.7 1117.0)"><tspan>MLP</tspan></text>
<line x1="527.8" y1="1099.3" x2="527.8" y2="1104.3" stroke="#4a4a4a" stroke-width="1.2"/>
<text x="533.4" y="1117.0" font-size="15" text-anchor="end" fill="#231f20" transform="rotate(-45 533.4 1117.0)"><tspan>CLP</tspan></text>
<line x1="552.8" y1="1099.3" x2="552.8" y2="1104.3" stroke="#4a4a4a" stroke-width="1.2"/>
<text x="558.4" y="1117.0" font-size="15" text-anchor="end" fill="#231f20" transform="rotate(-45 558.4 1117.0)"><tspan>prepro-B</tspan></text>
<line x1="577.5" y1="1099.3" x2="577.5" y2="1104.3" stroke="#4a4a4a" stroke-width="1.2"/>
<text x="583.1" y="1117.0" font-size="15" text-anchor="end" fill="#231f20" transform="rotate(-45 583.1 1117.0)"><tspan>pro-B</tspan></text>
<line x1="602.2" y1="1099.3" x2="602.2" y2="1104.3" stroke="#4a4a4a" stroke-width="1.2"/>
<text x="607.8" y="1117.0" font-size="15" text-anchor="end" fill="#231f20" transform="rotate(-45 607.8 1117.0)"><tspan>Early pre-B</tspan></text>
<line x1="627.0" y1="1099.3" x2="627.0" y2="1104.3" stroke="#4a4a4a" stroke-width="1.2"/>
<text x="632.6" y="1117.0" font-size="15" text-anchor="end" fill="#231f20" transform="rotate(-45 632.6 1117.0)"><tspan>Late pre-B</tspan></text>
<line x1="651.6" y1="1099.3" x2="651.6" y2="1104.3" stroke="#4a4a4a" stroke-width="1.2"/>
<text x="657.2" y="1117.0" font-size="15" text-anchor="end" fill="#231f20" transform="rotate(-45 657.2 1117.0)"><tspan>IgM</tspan><tspan font-size="9.3" dy="-5.7">+</tspan></text>
<line x1="676.3" y1="1099.3" x2="676.3" y2="1104.3" stroke="#4a4a4a" stroke-width="1.2"/>
<text x="681.9" y="1117.0" font-size="15" text-anchor="end" fill="#231f20" transform="rotate(-45 681.9 1117.0)"><tspan>IgM</tspan><tspan font-size="9.3" dy="-5.7">+</tspan><tspan dy="5.7">IgD</tspan><tspan font-size="9.3" dy="-5.7">+</tspan></text>
<line x1="701.4" y1="1099.3" x2="701.4" y2="1104.3" stroke="#4a4a4a" stroke-width="1.2"/>
<text x="707.0" y="1117.0" font-size="15" text-anchor="end" fill="#231f20" transform="rotate(-45 707.0 1117.0)"><tspan>IgD</tspan><tspan font-size="9.3" dy="-5.7">+</tspan></text>
<text x="766.8" y="15.7" font-size="20.5" font-weight="bold" fill="#000" stroke="#000" stroke-width="0.9">g</text>
<line x1="819.7" y1="89.6" x2="819.7" y2="242.4" stroke="#4a4a4a" stroke-width="1.2"/>
<line x1="813.2" y1="89.6" x2="819.7" y2="89.6" stroke="#4a4a4a" stroke-width="1.2"/>
<text x="807.0" y="94.1" font-size="13.5" text-anchor="end" fill="#231f20">150</text>
<line x1="813.2" y1="140.6" x2="819.7" y2="140.6" stroke="#4a4a4a" stroke-width="1.2"/>
<text x="807.0" y="145.1" font-size="13.5" text-anchor="end" fill="#231f20">100</text>
<line x1="813.2" y1="191.7" x2="819.7" y2="191.7" stroke="#4a4a4a" stroke-width="1.2"/>
<text x="807.0" y="196.2" font-size="13.5" text-anchor="end" fill="#231f20">50</text>
<line x1="813.2" y1="242.4" x2="819.7" y2="242.4" stroke="#4a4a4a" stroke-width="1.2"/>
<text x="807.0" y="246.9" font-size="13.5" text-anchor="end" fill="#231f20">0</text>
<line x1="819.7" y1="242.4" x2="976.2" y2="242.4" stroke="#4a4a4a" stroke-width="1.2"/>
<line x1="843.2" y1="242.4" x2="843.2" y2="250.4" stroke="#4a4a4a" stroke-width="1.2"/>
<line x1="880.0" y1="242.4" x2="880.0" y2="250.4" stroke="#4a4a4a" stroke-width="1.2"/>
<line x1="916.0" y1="242.4" x2="916.0" y2="250.4" stroke="#4a4a4a" stroke-width="1.2"/>
<line x1="952.4" y1="242.4" x2="952.4" y2="250.4" stroke="#4a4a4a" stroke-width="1.2"/>
<text x="777.3" y="162.3" font-size="15.5" text-anchor="middle" fill="#231f20" textLength="137.0" lengthAdjust="spacingAndGlyphs" transform="rotate(-90 777.3 162.3)">Number of colonies</text>
<text x="897.7" y="49.0" font-size="14.5" text-anchor="middle" fill="#231f20" textLength="113.0" lengthAdjust="spacingAndGlyphs">Pre-B CFC assay</text>
<text x="861.0" y="106.7" font-size="17" text-anchor="middle" fill="#231f20" letter-spacing="2">***</text>
<line x1="838.7" y1="103.0" x2="880.0" y2="103.0" stroke="#4a4a4a" stroke-width="1.2"/>
<text x="916.6" y="67.9" font-size="13.8" text-anchor="middle" fill="#231f20">NS</text>
<line x1="883.0" y1="73.4" x2="950.9" y2="73.4" stroke="#4a4a4a" stroke-width="1.2"/>
<text x="938.0" y="91.9" font-size="17" text-anchor="middle" fill="#231f20" letter-spacing="2">***</text>
<line x1="921.2" y1="88.7" x2="953.3" y2="88.7" stroke="#4a4a4a" stroke-width="1.2"/>
<circle cx="834.9" cy="141.3" r="3.4" fill="#000"/>
<circle cx="843.7" cy="147.3" r="3.4" fill="#000"/>
<circle cx="843.3" cy="158.0" r="3.4" fill="#000"/>
<circle cx="852.0" cy="158.9" r="3.4" fill="#000"/>
<circle cx="834.9" cy="163.3" r="3.4" fill="#000"/>
<line x1="843.3" y1="149.3" x2="843.3" y2="157.3" stroke="#4a4a4a" stroke-width="1.1"/>
<line x1="837.3" y1="149.3" x2="849.3" y2="149.3" stroke="#4a4a4a" stroke-width="1.1"/>
<line x1="837.3" y1="157.3" x2="849.3" y2="157.3" stroke="#4a4a4a" stroke-width="1.1"/>
<line x1="831.3" y1="153.7" x2="855.3" y2="153.7" stroke="#4a4a4a" stroke-width="1.1"/>
<rect x="873.4" y="178.0" width="6.6" height="6.6" fill="#000"/>
<rect x="879.4" y="175.4" width="6.6" height="6.6" fill="#000"/>
<rect x="885.0" y="175.4" width="6.6" height="6.6" fill="#000"/>
<rect x="879.1" y="182.7" width="6.6" height="6.6" fill="#000"/>
<rect x="876.0" y="192.0" width="6.6" height="6.6" fill="#000"/>
<line x1="879.7" y1="182.0" x2="879.7" y2="187.3" stroke="#4a4a4a" stroke-width="1.1"/>
<line x1="873.7" y1="182.0" x2="885.7" y2="182.0" stroke="#4a4a4a" stroke-width="1.1"/>
<line x1="873.7" y1="187.3" x2="885.7" y2="187.3" stroke="#4a4a4a" stroke-width="1.1"/>
<line x1="867.7" y1="184.4" x2="891.7" y2="184.4" stroke="#4a4a4a" stroke-width="1.1"/>
<path d="M915.3,138.4 L919.3,145.6 L911.3,145.6Z" fill="#000"/>
<path d="M907.3,153.7 L911.3,160.9 L903.3,160.9Z" fill="#000"/>
<path d="M924.4,151.7 L928.4,158.9 L920.4,158.9Z" fill="#000"/>
<path d="M915.3,167.1 L919.3,174.3 L911.3,174.3Z" fill="#000"/>
<path d="M915.3,175.1 L919.3,182.3 L911.3,182.3Z" fill="#000"/>
<line x1="915.3" y1="153.6" x2="915.3" y2="166.4" stroke="#4a4a4a" stroke-width="1.1"/>
<line x1="909.3" y1="153.6" x2="921.3" y2="153.6" stroke="#4a4a4a" stroke-width="1.1"/>
<line x1="909.3" y1="166.4" x2="921.3" y2="166.4" stroke="#4a4a4a" stroke-width="1.1"/>
<line x1="903.3" y1="160.0" x2="927.3" y2="160.0" stroke="#4a4a4a" stroke-width="1.1"/>
<path d="M947.3,185.6 L951.3,178.4 L943.3,178.4Z" fill="#000"/>
<path d="M956.0,183.6 L960.0,176.4 L952.0,176.4Z" fill="#000"/>
<path d="M952.0,194.3 L956.0,187.1 L948.0,187.1Z" fill="#000"/>
<path d="M943.3,201.6 L947.3,194.4 L939.3,194.4Z" fill="#000"/>
<path d="M960.7,200.6 L964.7,193.4 L956.7,193.4Z" fill="#000"/>
<line x1="952.0" y1="186.3" x2="952.0" y2="193.3" stroke="#4a4a4a" stroke-width="1.1"/>
<line x1="946.0" y1="186.3" x2="958.0" y2="186.3" stroke="#4a4a4a" stroke-width="1.1"/>
<line x1="946.0" y1="193.3" x2="958.0" y2="193.3" stroke="#4a4a4a" stroke-width="1.1"/>
<line x1="940.0" y1="190.0" x2="964.0" y2="190.0" stroke="#4a4a4a" stroke-width="1.1"/>
<text x="848.7" y="261.9" font-size="15" text-anchor="end" fill="#231f20" transform="rotate(-45 848.7 261.9)"><tspan>WT</tspan></text>
<text x="885.5" y="261.9" font-size="15" text-anchor="end" fill="#231f20" transform="rotate(-45 885.5 261.9)"><tspan font-style="italic">Eμ-myc</tspan></text>
<text x="921.5" y="261.9" font-size="15" text-anchor="end" fill="#231f20" transform="rotate(-45 921.5 261.9)"><tspan font-style="italic">Casp1</tspan><tspan font-size="9.3" dy="-5.7" font-style="italic" letter-spacing="-1.30">−/−</tspan><tspan dy="5.7"> </tspan><tspan font-style="italic">Casp11</tspan><tspan font-size="9.3" dy="-5.7" font-style="italic" letter-spacing="-1.30">−/−</tspan></text>
<text x="961.4" y="265.4" font-size="15" text-anchor="end" fill="#231f20" transform="rotate(-45 961.4 265.4)"><tspan font-style="italic">Casp1</tspan><tspan font-size="9.3" dy="-5.7" font-style="italic" letter-spacing="-1.30">−/−</tspan><tspan dy="5.7"> </tspan><tspan font-style="italic">Casp11</tspan><tspan font-size="9.3" dy="-5.7" font-style="italic" letter-spacing="-1.30">−/−</tspan></text>
<text x="909.4" y="296.3" font-size="15" text-anchor="middle" fill="#231f20" transform="rotate(-45 909.4 296.3)"><tspan font-style="italic">Eμ-myc</tspan></text>
<text x="994.7" y="15.7" font-size="20.5" font-weight="bold" fill="#000" stroke="#000" stroke-width="0.9">h</text>
<line x1="1045.1" y1="87.7" x2="1045.1" y2="240.8" stroke="#4a4a4a" stroke-width="1.2"/>
<line x1="1038.6" y1="87.7" x2="1045.1" y2="87.7" stroke="#4a4a4a" stroke-width="1.2"/>
<text x="1032.4" y="92.2" font-size="13.5" text-anchor="end" fill="#231f20">50</text>
<line x1="1038.6" y1="118.6" x2="1045.1" y2="118.6" stroke="#4a4a4a" stroke-width="1.2"/>
<text x="1032.4" y="123.1" font-size="13.5" text-anchor="end" fill="#231f20">40</text>
<line x1="1038.6" y1="149.1" x2="1045.1" y2="149.1" stroke="#4a4a4a" stroke-width="1.2"/>
<text x="1032.4" y="153.6" font-size="13.5" text-anchor="end" fill="#231f20">30</text>
<line x1="1038.6" y1="179.7" x2="1045.1" y2="179.7" stroke="#4a4a4a" stroke-width="1.2"/>
<text x="1032.4" y="184.2" font-size="13.5" text-anchor="end" fill="#231f20">20</text>
<line x1="1038.6" y1="210.2" x2="1045.1" y2="210.2" stroke="#4a4a4a" stroke-width="1.2"/>
<text x="1032.4" y="214.7" font-size="13.5" text-anchor="end" fill="#231f20">10</text>
<line x1="1038.6" y1="240.8" x2="1045.1" y2="240.8" stroke="#4a4a4a" stroke-width="1.2"/>
<text x="1032.4" y="245.3" font-size="13.5" text-anchor="end" fill="#231f20">0</text>
<line x1="1045.1" y1="240.8" x2="1200.0" y2="240.8" stroke="#4a4a4a" stroke-width="1.2"/>
<line x1="1069.2" y1="240.8" x2="1069.2" y2="248.8" stroke="#4a4a4a" stroke-width="1.2"/>
<line x1="1105.3" y1="240.8" x2="1105.3" y2="248.8" stroke="#4a4a4a" stroke-width="1.2"/>
<line x1="1141.3" y1="240.8" x2="1141.3" y2="248.8" stroke="#4a4a4a" stroke-width="1.2"/>
<line x1="1178.0" y1="240.8" x2="1178.0" y2="248.8" stroke="#4a4a4a" stroke-width="1.2"/>
<text x="1006.0" y="164.2" font-size="15.5" text-anchor="middle" fill="#231f20" textLength="145.0" lengthAdjust="spacingAndGlyphs" transform="rotate(-90 1006.0 164.2)">Percentage live cells</text>
<text x="1083.7" y="102.8" font-size="17" text-anchor="middle" fill="#231f20" letter-spacing="2">*</text>
<line x1="1064.0" y1="101.3" x2="1105.0" y2="101.3" stroke="#4a4a4a" stroke-width="1.2"/>
<text x="1138.9" y="66.6" font-size="13.8" text-anchor="middle" fill="#231f20">NS</text>
<line x1="1109.0" y1="71.8" x2="1177.0" y2="71.8" stroke="#4a4a4a" stroke-width="1.2"/>
<text x="1160.8" y="87.5" font-size="17" text-anchor="middle" fill="#231f20" letter-spacing="2">*</text>
<line x1="1147.3" y1="86.4" x2="1179.7" y2="86.4" stroke="#4a4a4a" stroke-width="1.2"/>
<circle cx="1068.7" cy="111.7" r="3.4" fill="#000"/>
<circle cx="1068.7" cy="120.4" r="3.4" fill="#000"/>
<circle cx="1068.7" cy="149.3" r="3.4" fill="#000"/>
<line x1="1068.7" y1="116.0" x2="1068.7" y2="138.7" stroke="#4a4a4a" stroke-width="1.1"/>
<line x1="1062.7" y1="116.0" x2="1074.7" y2="116.0" stroke="#4a4a4a" stroke-width="1.1"/>
<line x1="1062.7" y1="138.7" x2="1074.7" y2="138.7" stroke="#4a4a4a" stroke-width="1.1"/>
<line x1="1056.7" y1="127.3" x2="1080.7" y2="127.3" stroke="#4a4a4a" stroke-width="1.1"/>
<rect x="1093.7" y="171.7" width="6.6" height="6.6" fill="#000"/>
<rect x="1093.7" y="182.0" width="6.6" height="6.6" fill="#000"/>
<rect x="1110.3" y="176.0" width="6.6" height="6.6" fill="#000"/>
<line x1="1105.3" y1="177.3" x2="1105.3" y2="181.3" stroke="#4a4a4a" stroke-width="1.1"/>
<line x1="1099.3" y1="177.3" x2="1111.3" y2="177.3" stroke="#4a4a4a" stroke-width="1.1"/>
<line x1="1099.3" y1="181.3" x2="1111.3" y2="181.3" stroke="#4a4a4a" stroke-width="1.1"/>
<line x1="1093.3" y1="179.3" x2="1117.3" y2="179.3" stroke="#4a4a4a" stroke-width="1.1"/>
<path d="M1141.6,92.1 L1145.6,99.3 L1137.6,99.3Z" fill="#000"/>
<path d="M1141.6,130.4 L1145.6,137.6 L1137.6,137.6Z" fill="#000"/>
<path d="M1141.6,139.1 L1145.6,146.3 L1137.6,146.3Z" fill="#000"/>
<line x1="1141.6" y1="109.3" x2="1141.6" y2="137.7" stroke="#4a4a4a" stroke-width="1.1"/>
<line x1="1135.6" y1="109.3" x2="1147.6" y2="109.3" stroke="#4a4a4a" stroke-width="1.1"/>
<line x1="1135.6" y1="137.7" x2="1147.6" y2="137.7" stroke="#4a4a4a" stroke-width="1.1"/>
<line x1="1129.6" y1="123.3" x2="1153.6" y2="123.3" stroke="#4a4a4a" stroke-width="1.1"/>
<path d="M1169.6,176.9 L1173.6,169.7 L1165.6,169.7Z" fill="#000"/>
<path d="M1186.7,178.3 L1190.7,171.1 L1182.7,171.1Z" fill="#000"/>
<path d="M1178.0,192.3 L1182.0,185.1 L1174.0,185.1Z" fill="#000"/>
<line x1="1178.0" y1="174.4" x2="1178.0" y2="184.3" stroke="#4a4a4a" stroke-width="1.1"/>
<line x1="1172.0" y1="174.4" x2="1184.0" y2="174.4" stroke="#4a4a4a" stroke-width="1.1"/>
<line x1="1172.0" y1="184.3" x2="1184.0" y2="184.3" stroke="#4a4a4a" stroke-width="1.1"/>
<line x1="1166.0" y1="179.3" x2="1190.0" y2="179.3" stroke="#4a4a4a" stroke-width="1.1"/>
<text x="1074.7" y="260.3" font-size="15" text-anchor="end" fill="#231f20" transform="rotate(-45 1074.7 260.3)"><tspan>WT</tspan></text>
<text x="1110.8" y="260.3" font-size="15" text-anchor="end" fill="#231f20" transform="rotate(-45 1110.8 260.3)"><tspan font-style="italic">Eμ-myc</tspan></text>
<text x="1146.8" y="260.3" font-size="15" text-anchor="end" fill="#231f20" transform="rotate(-45 1146.8 260.3)"><tspan font-style="italic">Casp1</tspan><tspan font-size="9.3" dy="-5.7" font-style="italic" letter-spacing="-1.30">−/−</tspan><tspan dy="5.7"> </tspan><tspan font-style="italic">Casp11</tspan><tspan font-size="9.3" dy="-5.7" font-style="italic" letter-spacing="-1.30">−/−</tspan></text>
<text x="1187.0" y="263.8" font-size="15" text-anchor="end" fill="#231f20" transform="rotate(-45 1187.0 263.8)"><tspan font-style="italic">Casp1</tspan><tspan font-size="9.3" dy="-5.7" font-style="italic" letter-spacing="-1.30">−/−</tspan><tspan dy="5.7"> </tspan><tspan font-style="italic">Casp11</tspan><tspan font-size="9.3" dy="-5.7" font-style="italic" letter-spacing="-1.30">−/−</tspan></text>
<text x="1135.0" y="294.7" font-size="15" text-anchor="middle" fill="#231f20" transform="rotate(-45 1135.0 294.7)"><tspan font-style="italic">Eμ-myc</tspan></text>
<text x="766.9" y="386.2" font-size="20.5" font-weight="bold" fill="#000" stroke="#000" stroke-width="0.9">i</text>
<line x1="853.9" y1="424.5" x2="853.9" y2="592.9" stroke="#4a4a4a" stroke-width="1.2"/>
<line x1="847.4" y1="424.5" x2="853.9" y2="424.5" stroke="#4a4a4a" stroke-width="1.2"/>
<text x="841.2" y="429.0" font-size="13.5" text-anchor="end" fill="#231f20">300</text>
<line x1="847.4" y1="457.5" x2="853.9" y2="457.5" stroke="#4a4a4a" stroke-width="1.2"/>
<text x="841.2" y="462.0" font-size="13.5" text-anchor="end" fill="#231f20">250</text>
<line x1="847.4" y1="491.2" x2="853.9" y2="491.2" stroke="#4a4a4a" stroke-width="1.2"/>
<text x="841.2" y="495.7" font-size="13.5" text-anchor="end" fill="#231f20">200</text>
<line x1="847.4" y1="525.0" x2="853.9" y2="525.0" stroke="#4a4a4a" stroke-width="1.2"/>
<text x="841.2" y="529.5" font-size="13.5" text-anchor="end" fill="#231f20">150</text>
<line x1="847.4" y1="558.7" x2="853.9" y2="558.7" stroke="#4a4a4a" stroke-width="1.2"/>
<text x="841.2" y="563.2" font-size="13.5" text-anchor="end" fill="#231f20">100</text>
<line x1="847.4" y1="592.9" x2="853.9" y2="592.9" stroke="#4a4a4a" stroke-width="1.2"/>
<text x="841.2" y="597.4" font-size="13.5" text-anchor="end" fill="#231f20">50</text>
<line x1="853.9" y1="592.9" x2="1163.2" y2="592.9" stroke="#4a4a4a" stroke-width="1.2"/>
<line x1="879.4" y1="592.9" x2="879.4" y2="600.9" stroke="#4a4a4a" stroke-width="1.2"/>
<line x1="907.5" y1="592.9" x2="907.5" y2="600.9" stroke="#4a4a4a" stroke-width="1.2"/>
<line x1="935.6" y1="592.9" x2="935.6" y2="600.9" stroke="#4a4a4a" stroke-width="1.2"/>
<line x1="964.5" y1="592.9" x2="964.5" y2="600.9" stroke="#4a4a4a" stroke-width="1.2"/>
<line x1="993.0" y1="592.9" x2="993.0" y2="600.9" stroke="#4a4a4a" stroke-width="1.2"/>
<line x1="1020.8" y1="592.9" x2="1020.8" y2="600.9" stroke="#4a4a4a" stroke-width="1.2"/>
<line x1="1049.2" y1="592.9" x2="1049.2" y2="600.9" stroke="#4a4a4a" stroke-width="1.2"/>
<line x1="1077.7" y1="592.9" x2="1077.7" y2="600.9" stroke="#4a4a4a" stroke-width="1.2"/>
<line x1="1106.2" y1="592.9" x2="1106.2" y2="600.9" stroke="#4a4a4a" stroke-width="1.2"/>
<line x1="1134.4" y1="592.9" x2="1134.4" y2="600.9" stroke="#4a4a4a" stroke-width="1.2"/>
<text x="810.0" y="511.9" font-size="15.5" text-anchor="middle" fill="#231f20" textLength="137.0" lengthAdjust="spacingAndGlyphs" transform="rotate(-90 810.0 511.9)">Number of colonies</text>
<text x="1050.0" y="397.5" font-size="11.8" text-anchor="middle" fill="#231f20">NS</text>
<line x1="964.5" y1="399.4" x2="1135.5" y2="399.4" stroke="#4a4a4a" stroke-width="1.2"/>
<text x="1021.9" y="418.9" font-size="11.8" text-anchor="middle" fill="#231f20">NS</text>
<line x1="964.5" y1="420.7" x2="1078.9" y2="420.7" stroke="#4a4a4a" stroke-width="1.2"/>
<text x="1023.6" y="443.8" font-size="16" text-anchor="middle" fill="#231f20" letter-spacing="2">*</text>
<line x1="936.4" y1="440.6" x2="1107.0" y2="440.6" stroke="#9a9a9a" stroke-width="1.2"/>
<text x="994.5" y="455.6" font-size="11.8" text-anchor="middle" fill="#231f20">NS</text>
<line x1="936.4" y1="459.4" x2="1050.0" y2="459.4" stroke="#4a4a4a" stroke-width="1.2"/>
<text x="934.0" y="481.8" font-size="16" text-anchor="middle" fill="#231f20" letter-spacing="2">*</text>
<line x1="907.5" y1="478.5" x2="957.4" y2="478.5" stroke="#4a4a4a" stroke-width="1.2"/>
<text x="997.5" y="474.4" font-size="11.8" text-anchor="middle" fill="#231f20">NS</text>
<line x1="971.2" y1="478.5" x2="1021.5" y2="478.5" stroke="#4a4a4a" stroke-width="1.2"/>
<text x="903.7" y="494.4" font-size="11.8" text-anchor="middle" fill="#231f20">NS</text>
<line x1="879.0" y1="498.5" x2="929.4" y2="498.5" stroke="#4a4a4a" stroke-width="1.2"/>
<text x="969.4" y="494.4" font-size="11.8" text-anchor="middle" fill="#231f20">NS</text>
<line x1="943.1" y1="498.5" x2="992.8" y2="498.5" stroke="#4a4a4a" stroke-width="1.2"/>
<circle cx="870.0" cy="526.9" r="3.2" fill="#fff" stroke="#000" stroke-width="1"/>
<circle cx="888.8" cy="521.9" r="3.2" fill="#fff" stroke="#000" stroke-width="1"/>
<circle cx="888.8" cy="530.0" r="3.2" fill="#fff" stroke="#000" stroke-width="1"/>
<circle cx="870.0" cy="538.8" r="3.2" fill="#fff" stroke="#000" stroke-width="1"/>
<circle cx="888.8" cy="542.5" r="3.2" fill="#fff" stroke="#000" stroke-width="1"/>
<circle cx="879.4" cy="550.6" r="3.2" fill="#fff" stroke="#000" stroke-width="1"/>
<line x1="879.4" y1="524.0" x2="879.4" y2="545.3" stroke="#333" stroke-width="1.1"/>
<line x1="873.4" y1="524.0" x2="885.4" y2="524.0" stroke="#333" stroke-width="1.1"/>
<line x1="873.4" y1="545.3" x2="885.4" y2="545.3" stroke="#333" stroke-width="1.1"/>
<line x1="866.9" y1="535.0" x2="891.9" y2="535.0" stroke="#333" stroke-width="1.1"/>
<rect x="904.8" y="541.9" width="6.3" height="6.3" fill="#fff" stroke="#000" stroke-width="1"/>
<rect x="904.8" y="549.2" width="6.3" height="6.3" fill="#fff" stroke="#000" stroke-width="1"/>
<rect x="895.4" y="555.0" width="6.3" height="6.3" fill="#fff" stroke="#000" stroke-width="1"/>
<rect x="914.2" y="556.3" width="6.3" height="6.3" fill="#fff" stroke="#000" stroke-width="1"/>
<rect x="904.8" y="560.0" width="6.3" height="6.3" fill="#fff" stroke="#000" stroke-width="1"/>
<rect x="904.8" y="570.7" width="6.3" height="6.3" fill="#fff" stroke="#000" stroke-width="1"/>
<line x1="907.5" y1="549.1" x2="907.5" y2="568.4" stroke="#333" stroke-width="1.1"/>
<line x1="901.5" y1="549.1" x2="913.5" y2="549.1" stroke="#333" stroke-width="1.1"/>
<line x1="901.5" y1="568.4" x2="913.5" y2="568.4" stroke="#333" stroke-width="1.1"/>
<line x1="895.0" y1="559.0" x2="920.0" y2="559.0" stroke="#333" stroke-width="1.1"/>
<path d="M936.3,508.5 L940.1,515.3 L932.5,515.3Z" fill="#fff" stroke="#000" stroke-width="1"/>
<path d="M926.9,519.7 L930.7,526.5 L923.1,526.5Z" fill="#fff" stroke="#000" stroke-width="1"/>
<path d="M936.3,519.7 L940.1,526.5 L932.5,526.5Z" fill="#fff" stroke="#000" stroke-width="1"/>
<path d="M945.6,522.9 L949.4,529.7 L941.8,529.7Z" fill="#fff" stroke="#000" stroke-width="1"/>
<path d="M936.3,542.9 L940.1,549.7 L932.5,549.7Z" fill="#fff" stroke="#000" stroke-width="1"/>
<path d="M936.3,559.1 L940.1,565.9 L932.5,565.9Z" fill="#fff" stroke="#000" stroke-width="1"/>
<line x1="936.3" y1="513.5" x2="936.3" y2="550.4" stroke="#333" stroke-width="1.1"/>
<line x1="930.3" y1="513.5" x2="942.3" y2="513.5" stroke="#333" stroke-width="1.1"/>
<line x1="930.3" y1="550.4" x2="942.3" y2="550.4" stroke="#333" stroke-width="1.1"/>
<line x1="923.8" y1="531.5" x2="948.8" y2="531.5" stroke="#333" stroke-width="1.1"/>
<path d="M964.4,509.7 L968.2,502.9 L960.6,502.9Z" fill="#fff" stroke="#000" stroke-width="1"/>
<path d="M955.6,515.9 L959.4,509.1 L951.8,509.1Z" fill="#fff" stroke="#000" stroke-width="1"/>
<path d="M973.8,517.8 L977.6,511.0 L970.0,511.0Z" fill="#fff" stroke="#000" stroke-width="1"/>
<path d="M964.4,520.3 L968.2,513.5 L960.6,513.5Z" fill="#fff" stroke="#000" stroke-width="1"/>
<path d="M964.4,534.0 L968.2,527.2 L960.6,527.2Z" fill="#fff" stroke="#000" stroke-width="1"/>
<path d="M964.4,548.4 L968.2,541.6 L960.6,541.6Z" fill="#fff" stroke="#000" stroke-width="1"/>
<line x1="964.4" y1="508.5" x2="964.4" y2="536.5" stroke="#333" stroke-width="1.1"/>
<line x1="958.4" y1="508.5" x2="970.4" y2="508.5" stroke="#333" stroke-width="1.1"/>
<line x1="958.4" y1="536.5" x2="970.4" y2="536.5" stroke="#333" stroke-width="1.1"/>
<line x1="951.9" y1="522.5" x2="976.9" y2="522.5" stroke="#333" stroke-width="1.1"/>
<path d="M983.8,506.6 L987.6,513.4 L980.0,513.4Z" fill="#b4b4b4"/>
<path d="M993.1,512.9 L996.9,519.7 L989.3,519.7Z" fill="#b4b4b4"/>
<path d="M1002.3,512.2 L1006.1,519.0 L998.5,519.0Z" fill="#b4b4b4"/>
<path d="M993.1,521.0 L996.9,527.8 L989.3,527.8Z" fill="#b4b4b4"/>
<path d="M993.1,535.4 L996.9,542.2 L989.3,542.2Z" fill="#b4b4b4"/>
<path d="M993.1,559.7 L996.9,566.5 L989.3,566.5Z" fill="#b4b4b4"/>
<line x1="993.1" y1="507.8" x2="993.1" y2="547.3" stroke="#999" stroke-width="1.1"/>
<line x1="987.1" y1="507.8" x2="999.1" y2="507.8" stroke="#999" stroke-width="1.1"/>
<line x1="987.1" y1="547.3" x2="999.1" y2="547.3" stroke="#999" stroke-width="1.1"/>
<line x1="980.6" y1="527.3" x2="1005.6" y2="527.3" stroke="#999" stroke-width="1.1"/>
<path d="M1016.9,510.3 L1020.7,503.5 L1013.1,503.5Z" fill="#b4b4b4"/>
<path d="M1025.6,510.3 L1029.4,503.5 L1021.8,503.5Z" fill="#b4b4b4"/>
<path d="M1011.9,519.0 L1015.7,512.2 L1008.1,512.2Z" fill="#b4b4b4"/>
<path d="M1030.6,519.0 L1034.4,512.2 L1026.8,512.2Z" fill="#b4b4b4"/>
<path d="M1021.5,521.9 L1025.3,515.1 L1017.7,515.1Z" fill="#b4b4b4"/>
<path d="M1021.5,542.2 L1025.3,535.4 L1017.7,535.4Z" fill="#b4b4b4"/>
<line x1="1021.5" y1="505.9" x2="1021.5" y2="529.6" stroke="#555" stroke-width="1.1"/>
<line x1="1015.5" y1="505.9" x2="1027.5" y2="505.9" stroke="#555" stroke-width="1.1"/>
<line x1="1015.5" y1="529.6" x2="1027.5" y2="529.6" stroke="#555" stroke-width="1.1"/>
<line x1="1009.0" y1="517.8" x2="1034.0" y2="517.8" stroke="#555" stroke-width="1.1"/>
<path d="M1040.6,495.4 L1044.4,502.2 L1036.8,502.2Z" fill="#6e6e6e"/>
<path d="M1040.6,504.7 L1044.4,511.5 L1036.8,511.5Z" fill="#6e6e6e"/>
<path d="M1059.0,502.2 L1062.8,509.0 L1055.2,509.0Z" fill="#6e6e6e"/>
<path d="M1049.8,487.2 L1053.6,494.0 L1046.0,494.0Z" fill="#6e6e6e"/>
<path d="M1040.6,556.0 L1044.4,562.8 L1036.8,562.8Z" fill="#6e6e6e"/>
<path d="M1059.0,552.2 L1062.8,559.0 L1055.2,559.0Z" fill="#6e6e6e"/>
<line x1="1049.8" y1="489.4" x2="1049.8" y2="549.4" stroke="#666" stroke-width="1.1"/>
<line x1="1043.8" y1="489.4" x2="1055.8" y2="489.4" stroke="#666" stroke-width="1.1"/>
<line x1="1043.8" y1="549.4" x2="1055.8" y2="549.4" stroke="#666" stroke-width="1.1"/>
<line x1="1037.3" y1="519.4" x2="1062.3" y2="519.4" stroke="#666" stroke-width="1.1"/>
<path d="M1068.8,494.7 L1072.6,487.9 L1065.0,487.9Z" fill="#6e6e6e"/>
<path d="M1087.5,487.2 L1091.3,480.4 L1083.7,480.4Z" fill="#6e6e6e"/>
<path d="M1087.5,497.8 L1091.3,491.0 L1083.7,491.0Z" fill="#6e6e6e"/>
<path d="M1078.1,505.3 L1081.9,498.5 L1074.3,498.5Z" fill="#6e6e6e"/>
<path d="M1068.8,527.2 L1072.6,520.4 L1065.0,520.4Z" fill="#6e6e6e"/>
<path d="M1087.5,526.5 L1091.3,519.7 L1083.7,519.7Z" fill="#6e6e6e"/>
<line x1="1078.5" y1="486.9" x2="1078.5" y2="520.3" stroke="#555" stroke-width="1.1"/>
<line x1="1072.5" y1="486.9" x2="1084.5" y2="486.9" stroke="#555" stroke-width="1.1"/>
<line x1="1072.5" y1="520.3" x2="1084.5" y2="520.3" stroke="#555" stroke-width="1.1"/>
<line x1="1066.0" y1="503.8" x2="1091.0" y2="503.8" stroke="#555" stroke-width="1.1"/>
<path d="M1097.5,489.1 L1101.3,495.9 L1093.7,495.9Z" fill="#000"/>
<path d="M1106.9,484.7 L1110.7,491.5 L1103.1,491.5Z" fill="#000"/>
<path d="M1115.6,482.2 L1119.4,489.0 L1111.8,489.0Z" fill="#000"/>
<path d="M1115.6,489.7 L1119.4,496.5 L1111.8,496.5Z" fill="#000"/>
<path d="M1106.9,495.4 L1110.7,502.2 L1103.1,502.2Z" fill="#000"/>
<path d="M1106.9,509.1 L1110.7,515.9 L1103.1,515.9Z" fill="#000"/>
<line x1="1106.6" y1="484.6" x2="1106.6" y2="504.4" stroke="#777" stroke-width="1.1"/>
<line x1="1100.6" y1="484.6" x2="1112.6" y2="484.6" stroke="#777" stroke-width="1.1"/>
<line x1="1100.6" y1="504.4" x2="1112.6" y2="504.4" stroke="#777" stroke-width="1.1"/>
<line x1="1094.1" y1="494.6" x2="1119.1" y2="494.6" stroke="#777" stroke-width="1.1"/>
<path d="M1134.8,465.3 L1138.6,458.5 L1131.0,458.5Z" fill="#000"/>
<path d="M1126.0,486.5 L1129.8,479.7 L1122.2,479.7Z" fill="#000"/>
<path d="M1144.4,488.4 L1148.2,481.6 L1140.6,481.6Z" fill="#000"/>
<path d="M1131.9,493.4 L1135.7,486.6 L1128.1,486.6Z" fill="#000"/>
<path d="M1138.1,493.4 L1141.9,486.6 L1134.3,486.6Z" fill="#000"/>
<path d="M1134.8,539.7 L1138.6,532.9 L1131.0,532.9Z" fill="#000"/>
<line x1="1135.0" y1="467.3" x2="1135.0" y2="516.3" stroke="#777" stroke-width="1.1"/>
<line x1="1129.0" y1="467.3" x2="1141.0" y2="467.3" stroke="#777" stroke-width="1.1"/>
<line x1="1129.0" y1="516.3" x2="1141.0" y2="516.3" stroke="#777" stroke-width="1.1"/>
<line x1="1122.5" y1="491.3" x2="1147.5" y2="491.3" stroke="#777" stroke-width="1.1"/>
<text x="884.9" y="612.4" font-size="15" text-anchor="end" fill="#231f20" transform="rotate(-45 884.9 612.4)"><tspan>WT</tspan></text>
<text x="913.0" y="612.4" font-size="15" text-anchor="end" fill="#231f20" transform="rotate(-45 913.0 612.4)"><tspan font-style="italic">Eμ-myc</tspan></text>
<text x="941.1" y="612.4" font-size="15" text-anchor="end" fill="#231f20" transform="rotate(-45 941.1 612.4)"><tspan font-style="italic">Casp1</tspan><tspan font-size="9.3" dy="-5.7" font-style="italic" letter-spacing="-1.30">−/−</tspan><tspan dy="5.7"> </tspan><tspan font-style="italic">Casp11</tspan><tspan font-size="9.3" dy="-5.7" font-style="italic" letter-spacing="-1.30">−/−</tspan></text>
<text x="970.0" y="612.4" font-size="15" text-anchor="end" fill="#231f20" transform="rotate(-45 970.0 612.4)"><tspan font-style="italic">Eμ-myc </tspan><tspan font-style="italic">Casp1</tspan><tspan font-size="9.3" dy="-5.7" font-style="italic" letter-spacing="-1.30">−/−</tspan><tspan dy="5.7"> </tspan><tspan font-style="italic">Casp11</tspan><tspan font-size="9.3" dy="-5.7" font-style="italic" letter-spacing="-1.30">−/−</tspan></text>
<text x="998.5" y="612.4" font-size="15" text-anchor="end" fill="#231f20" transform="rotate(-45 998.5 612.4)"><tspan font-style="italic">Casp1</tspan><tspan font-size="9.3" dy="-5.7" font-style="italic" letter-spacing="-1.30">−/−</tspan><tspan dy="5.7"> </tspan><tspan font-style="italic">Casp11</tspan><tspan font-size="9.3" dy="-5.7" font-style="italic" letter-spacing="-1.30">−/−</tspan></text>
<text x="1026.3" y="612.4" font-size="15" text-anchor="end" fill="#231f20" transform="rotate(-45 1026.3 612.4)"><tspan font-style="italic">Eμ-myc </tspan><tspan font-style="italic">Casp1</tspan><tspan font-size="9.3" dy="-5.7" font-style="italic" letter-spacing="-1.30">−/−</tspan><tspan dy="5.7"> </tspan><tspan font-style="italic">Casp11</tspan><tspan font-size="9.3" dy="-5.7" font-style="italic" letter-spacing="-1.30">−/−</tspan></text>
<text x="1054.7" y="612.4" font-size="15" text-anchor="end" fill="#231f20" transform="rotate(-45 1054.7 612.4)"><tspan font-style="italic">Casp1</tspan><tspan font-size="9.3" dy="-5.7" font-style="italic" letter-spacing="-1.30">−/−</tspan><tspan dy="5.7"> </tspan><tspan font-style="italic">Casp11</tspan><tspan font-size="9.3" dy="-5.7" font-style="italic" letter-spacing="-1.30">−/−</tspan></text>
<text x="1083.2" y="612.4" font-size="15" text-anchor="end" fill="#231f20" transform="rotate(-45 1083.2 612.4)"><tspan font-style="italic">Eμ-myc </tspan><tspan font-style="italic">Casp1</tspan><tspan font-size="9.3" dy="-5.7" font-style="italic" letter-spacing="-1.30">−/−</tspan><tspan dy="5.7"> </tspan><tspan font-style="italic">Casp11</tspan><tspan font-size="9.3" dy="-5.7" font-style="italic" letter-spacing="-1.30">−/−</tspan></text>
<text x="1111.7" y="612.4" font-size="15" text-anchor="end" fill="#231f20" transform="rotate(-45 1111.7 612.4)"><tspan font-style="italic">Casp1</tspan><tspan font-size="9.3" dy="-5.7" font-style="italic" letter-spacing="-1.30">−/−</tspan><tspan dy="5.7"> </tspan><tspan font-style="italic">Casp11</tspan><tspan font-size="9.3" dy="-5.7" font-style="italic" letter-spacing="-1.30">−/−</tspan></text>
<text x="1139.9" y="612.4" font-size="15" text-anchor="end" fill="#231f20" transform="rotate(-45 1139.9 612.4)"><tspan font-style="italic">Eμ-myc </tspan><tspan font-style="italic">Casp1</tspan><tspan font-size="9.3" dy="-5.7" font-style="italic" letter-spacing="-1.30">−/−</tspan><tspan dy="5.7"> </tspan><tspan font-style="italic">Casp11</tspan><tspan font-size="9.3" dy="-5.7" font-style="italic" letter-spacing="-1.30">−/−</tspan></text>
<line x1="892.5" y1="744.3" x2="936.4" y2="744.3" stroke="#4a4a4a" stroke-width="1.2"/>
<text x="913.0" y="760.5" font-size="14" text-anchor="middle" fill="#231f20">+IL-1β</text>
<line x1="949.5" y1="744.3" x2="993.0" y2="744.3" stroke="#4a4a4a" stroke-width="1.2"/>
<text x="972.0" y="760.5" font-size="14" text-anchor="middle" fill="#231f20">+IL-18</text>
<line x1="1010.6" y1="744.3" x2="1053.7" y2="744.3" stroke="#4a4a4a" stroke-width="1.2"/>
<text x="1031.2" y="760.5" font-size="14" text-anchor="middle" fill="#231f20">+IL-1β</text>
<text x="1031.2" y="777.0" font-size="14" text-anchor="middle" fill="#231f20">+IL-18</text>
<text x="749.7" y="844.2" font-size="20.5" font-weight="bold" fill="#000" stroke="#000" stroke-width="0.9">j</text>
<line x1="802.8" y1="917.9" x2="802.8" y2="1070.1" stroke="#4a4a4a" stroke-width="1.2"/>
<line x1="796.3" y1="917.9" x2="802.8" y2="917.9" stroke="#4a4a4a" stroke-width="1.2"/>
<text x="790.1" y="922.4" font-size="13.5" text-anchor="end" fill="#231f20">150</text>
<line x1="796.3" y1="968.5" x2="802.8" y2="968.5" stroke="#4a4a4a" stroke-width="1.2"/>
<text x="790.1" y="973.0" font-size="13.5" text-anchor="end" fill="#231f20">100</text>
<line x1="796.3" y1="1019.7" x2="802.8" y2="1019.7" stroke="#4a4a4a" stroke-width="1.2"/>
<text x="790.1" y="1024.2" font-size="13.5" text-anchor="end" fill="#231f20">50</text>
<line x1="796.3" y1="1070.1" x2="802.8" y2="1070.1" stroke="#4a4a4a" stroke-width="1.2"/>
<text x="790.1" y="1074.6" font-size="13.5" text-anchor="end" fill="#231f20">0</text>
<line x1="802.8" y1="1070.1" x2="956.3" y2="1070.1" stroke="#4a4a4a" stroke-width="1.2"/>
<line x1="826.4" y1="1070.1" x2="826.4" y2="1078.1" stroke="#4a4a4a" stroke-width="1.2"/>
<line x1="862.7" y1="1070.1" x2="862.7" y2="1078.1" stroke="#4a4a4a" stroke-width="1.2"/>
<line x1="899.0" y1="1070.1" x2="899.0" y2="1078.1" stroke="#4a4a4a" stroke-width="1.2"/>
<line x1="934.9" y1="1070.1" x2="934.9" y2="1078.1" stroke="#4a4a4a" stroke-width="1.2"/>
<text x="756.3" y="995.5" font-size="15" text-anchor="middle" fill="#231f20" textLength="95.7" lengthAdjust="spacingAndGlyphs" transform="rotate(-90 756.3 995.5)"><tspan>IL-1β (pg ml</tspan><tspan font-size="9.3" dy="-5.7">−1</tspan><tspan dy="5.7">)</tspan></text>
<text x="860.6" y="911.8" font-size="17" text-anchor="middle" fill="#231f20" letter-spacing="2">**</text>
<line x1="821.4" y1="911.5" x2="890.2" y2="911.5" stroke="#4a4a4a" stroke-width="1.2"/>
<text x="845.5" y="928.3" font-size="13.5" text-anchor="middle" fill="#231f20">NS</text>
<line x1="821.9" y1="931.6" x2="862.7" y2="931.6" stroke="#4a4a4a" stroke-width="1.2"/>
<text x="904.1" y="949.3" font-size="17" text-anchor="middle" fill="#231f20" letter-spacing="2">***</text>
<line x1="866.0" y1="945.8" x2="934.5" y2="945.8" stroke="#4a4a4a" stroke-width="1.2"/>
<text x="916.9" y="968.3" font-size="13.5" text-anchor="middle" fill="#231f20">NS</text>
<line x1="900.1" y1="974.1" x2="932.2" y2="974.1" stroke="#4a4a4a" stroke-width="1.2"/>
<circle cx="826.3" cy="999.3" r="3.4" fill="#000"/>
<circle cx="818.0" cy="1029.9" r="3.4" fill="#000"/>
<circle cx="835.1" cy="1032.2" r="3.4" fill="#000"/>
<circle cx="826.3" cy="1036.8" r="3.4" fill="#000"/>
<circle cx="826.3" cy="1043.6" r="3.4" fill="#000"/>
<line x1="826.3" y1="1020.7" x2="826.3" y2="1036.0" stroke="#4a4a4a" stroke-width="1.1"/>
<line x1="820.3" y1="1020.7" x2="832.3" y2="1020.7" stroke="#4a4a4a" stroke-width="1.1"/>
<line x1="820.3" y1="1036.0" x2="832.3" y2="1036.0" stroke="#4a4a4a" stroke-width="1.1"/>
<line x1="814.3" y1="1028.4" x2="838.3" y2="1028.4" stroke="#4a4a4a" stroke-width="1.1"/>
<rect x="859.4" y="962.4" width="6.6" height="6.6" fill="#000"/>
<rect x="850.9" y="993.3" width="6.6" height="6.6" fill="#000"/>
<rect x="868.1" y="991.1" width="6.6" height="6.6" fill="#000"/>
<rect x="859.4" y="1002.9" width="6.6" height="6.6" fill="#000"/>
<rect x="859.4" y="1029.0" width="6.6" height="6.6" fill="#000"/>
<line x1="862.7" y1="988.3" x2="862.7" y2="1009.6" stroke="#4a4a4a" stroke-width="1.1"/>
<line x1="856.7" y1="988.3" x2="868.7" y2="988.3" stroke="#4a4a4a" stroke-width="1.1"/>
<line x1="856.7" y1="1009.6" x2="868.7" y2="1009.6" stroke="#4a4a4a" stroke-width="1.1"/>
<line x1="850.7" y1="999.3" x2="874.7" y2="999.3" stroke="#4a4a4a" stroke-width="1.1"/>
<path d="M890.2,1059.1 L894.2,1066.3 L886.2,1066.3Z" fill="#000"/>
<path d="M898.6,1061.4 L902.6,1068.6 L894.6,1068.6Z" fill="#000"/>
<path d="M907.7,1056.8 L911.7,1064.0 L903.7,1064.0Z" fill="#000"/>
<path d="M890.5,1066.8 L894.5,1074.0 L886.5,1074.0Z" fill="#000"/>
<path d="M907.7,1064.5 L911.7,1071.7 L903.7,1071.7Z" fill="#000"/>
<line x1="899.0" y1="1062.0" x2="899.0" y2="1068.0" stroke="#4a4a4a" stroke-width="1.1"/>
<line x1="893.0" y1="1062.0" x2="905.0" y2="1062.0" stroke="#4a4a4a" stroke-width="1.1"/>
<line x1="893.0" y1="1068.0" x2="905.0" y2="1068.0" stroke="#4a4a4a" stroke-width="1.1"/>
<line x1="887.0" y1="1065.0" x2="911.0" y2="1065.0" stroke="#4a4a4a" stroke-width="1.1"/>
<path d="M926.5,1063.3 L930.5,1056.1 L922.5,1056.1Z" fill="#000"/>
<path d="M943.6,1058.7 L947.6,1051.5 L939.6,1051.5Z" fill="#000"/>
<path d="M934.9,1067.9 L938.9,1060.7 L930.9,1060.7Z" fill="#000"/>
<path d="M943.6,1067.9 L947.6,1060.7 L939.6,1060.7Z" fill="#000"/>
<path d="M926.5,1073.2 L930.5,1066.0 L922.5,1066.0Z" fill="#000"/>
<line x1="934.9" y1="1061.0" x2="934.9" y2="1066.0" stroke="#4a4a4a" stroke-width="1.1"/>
<line x1="928.9" y1="1061.0" x2="940.9" y2="1061.0" stroke="#4a4a4a" stroke-width="1.1"/>
<line x1="928.9" y1="1066.0" x2="940.9" y2="1066.0" stroke="#4a4a4a" stroke-width="1.1"/>
<line x1="922.9" y1="1063.5" x2="946.9" y2="1063.5" stroke="#4a4a4a" stroke-width="1.1"/>
<text x="831.9" y="1089.6" font-size="15" text-anchor="end" fill="#231f20" transform="rotate(-45 831.9 1089.6)"><tspan>WT</tspan></text>
<text x="868.2" y="1089.6" font-size="15" text-anchor="end" fill="#231f20" transform="rotate(-45 868.2 1089.6)"><tspan font-style="italic">Eμ-myc</tspan></text>
<text x="904.5" y="1089.6" font-size="15" text-anchor="end" fill="#231f20" transform="rotate(-45 904.5 1089.6)"><tspan font-style="italic">Casp1</tspan><tspan font-size="9.3" dy="-5.7" font-style="italic" letter-spacing="-1.30">−/−</tspan><tspan dy="5.7"> </tspan><tspan font-style="italic">Casp11</tspan><tspan font-size="9.3" dy="-5.7" font-style="italic" letter-spacing="-1.30">−/−</tspan></text>
<text x="943.9" y="1093.1" font-size="15" text-anchor="end" fill="#231f20" transform="rotate(-45 943.9 1093.1)"><tspan font-style="italic">Casp1</tspan><tspan font-size="9.3" dy="-5.7" font-style="italic" letter-spacing="-1.30">−/−</tspan><tspan dy="5.7"> </tspan><tspan font-style="italic">Casp11</tspan><tspan font-size="9.3" dy="-5.7" font-style="italic" letter-spacing="-1.30">−/−</tspan></text>
<text x="891.9" y="1124.0" font-size="15" text-anchor="middle" fill="#231f20" transform="rotate(-45 891.9 1124.0)"><tspan font-style="italic">Eμ-myc</tspan></text>
<text x="972.2" y="843.2" font-size="20.5" font-weight="bold" fill="#000" stroke="#000" stroke-width="0.9">k</text>
<line x1="1042.5" y1="917.2" x2="1042.5" y2="1069.6" stroke="#4a4a4a" stroke-width="1.2"/>
<line x1="1036.0" y1="917.2" x2="1042.5" y2="917.2" stroke="#4a4a4a" stroke-width="1.2"/>
<text x="1029.8" y="921.7" font-size="13.5" text-anchor="end" fill="#231f20">2,500</text>
<line x1="1036.0" y1="947.5" x2="1042.5" y2="947.5" stroke="#4a4a4a" stroke-width="1.2"/>
<text x="1029.8" y="952.0" font-size="13.5" text-anchor="end" fill="#231f20">2,000</text>
<line x1="1036.0" y1="977.8" x2="1042.5" y2="977.8" stroke="#4a4a4a" stroke-width="1.2"/>
<text x="1029.8" y="982.3" font-size="13.5" text-anchor="end" fill="#231f20">1,500</text>
<line x1="1036.0" y1="1008.4" x2="1042.5" y2="1008.4" stroke="#4a4a4a" stroke-width="1.2"/>
<text x="1029.8" y="1012.9" font-size="13.5" text-anchor="end" fill="#231f20">1,000</text>
<line x1="1036.0" y1="1038.9" x2="1042.5" y2="1038.9" stroke="#4a4a4a" stroke-width="1.2"/>
<text x="1029.8" y="1043.4" font-size="13.5" text-anchor="end" fill="#231f20">500</text>
<line x1="1036.0" y1="1069.6" x2="1042.5" y2="1069.6" stroke="#4a4a4a" stroke-width="1.2"/>
<text x="1029.8" y="1074.1" font-size="13.5" text-anchor="end" fill="#231f20">0</text>
<line x1="1042.5" y1="1069.6" x2="1198.6" y2="1069.6" stroke="#4a4a4a" stroke-width="1.2"/>
<line x1="1066.4" y1="1069.6" x2="1066.4" y2="1077.6" stroke="#4a4a4a" stroke-width="1.2"/>
<line x1="1102.4" y1="1069.6" x2="1102.4" y2="1077.6" stroke="#4a4a4a" stroke-width="1.2"/>
<line x1="1138.5" y1="1069.6" x2="1138.5" y2="1077.6" stroke="#4a4a4a" stroke-width="1.2"/>
<line x1="1174.5" y1="1069.6" x2="1174.5" y2="1077.6" stroke="#4a4a4a" stroke-width="1.2"/>
<text x="983.8" y="998.5" font-size="15" text-anchor="middle" fill="#231f20" textLength="95.7" lengthAdjust="spacingAndGlyphs" transform="rotate(-90 983.8 998.5)"><tspan>IL-18 (pg ml</tspan><tspan font-size="9.3" dy="-5.7">−1</tspan><tspan dy="5.7">)</tspan></text>
<text x="1119.4" y="895.8" font-size="17" text-anchor="middle" fill="#231f20" letter-spacing="2">***</text>
<line x1="1061.9" y1="893.7" x2="1172.7" y2="893.7" stroke="#4a4a4a" stroke-width="1.2"/>
<text x="1098.9" y="914.4" font-size="17" text-anchor="middle" fill="#231f20" letter-spacing="2">****</text>
<line x1="1061.4" y1="911.3" x2="1130.0" y2="911.3" stroke="#4a4a4a" stroke-width="1.2"/>
<text x="1085.4" y="927.4" font-size="13.5" text-anchor="middle" fill="#231f20">NS</text>
<line x1="1061.7" y1="931.1" x2="1102.4" y2="931.1" stroke="#4a4a4a" stroke-width="1.2"/>
<text x="1141.7" y="939.4" font-size="17" text-anchor="middle" fill="#231f20" letter-spacing="2">****</text>
<line x1="1104.1" y1="938.1" x2="1172.7" y2="938.1" stroke="#4a4a4a" stroke-width="1.2"/>
<text x="1155.0" y="975.0" font-size="17" text-anchor="middle" fill="#231f20" letter-spacing="2">*</text>
<line x1="1139.4" y1="973.3" x2="1172.2" y2="973.3" stroke="#4a4a4a" stroke-width="1.2"/>
<circle cx="1057.8" cy="957.0" r="3.4" fill="#000"/>
<circle cx="1074.7" cy="951.6" r="3.4" fill="#000"/>
<circle cx="1066.4" cy="975.1" r="3.4" fill="#000"/>
<circle cx="1057.8" cy="988.0" r="3.4" fill="#000"/>
<circle cx="1074.7" cy="993.5" r="3.4" fill="#000"/>
<circle cx="1066.4" cy="1007.2" r="3.4" fill="#000"/>
<line x1="1066.4" y1="969.4" x2="1066.4" y2="987.2" stroke="#4a4a4a" stroke-width="1.1"/>
<line x1="1060.4" y1="969.4" x2="1072.4" y2="969.4" stroke="#4a4a4a" stroke-width="1.1"/>
<line x1="1060.4" y1="987.2" x2="1072.4" y2="987.2" stroke="#4a4a4a" stroke-width="1.1"/>
<line x1="1054.4" y1="978.2" x2="1078.4" y2="978.2" stroke="#4a4a4a" stroke-width="1.1"/>
<rect x="1090.7" y="949.0" width="6.6" height="6.6" fill="#000"/>
<rect x="1099.1" y="950.8" width="6.6" height="6.6" fill="#000"/>
<rect x="1107.4" y="943.7" width="6.6" height="6.6" fill="#000"/>
<rect x="1099.1" y="959.0" width="6.6" height="6.6" fill="#000"/>
<rect x="1099.1" y="987.5" width="6.6" height="6.6" fill="#000"/>
<rect x="1099.1" y="999.1" width="6.6" height="6.6" fill="#000"/>
<line x1="1102.4" y1="958.6" x2="1102.4" y2="977.4" stroke="#4a4a4a" stroke-width="1.1"/>
<line x1="1096.4" y1="958.6" x2="1108.4" y2="958.6" stroke="#4a4a4a" stroke-width="1.1"/>
<line x1="1096.4" y1="977.4" x2="1108.4" y2="977.4" stroke="#4a4a4a" stroke-width="1.1"/>
<line x1="1090.4" y1="968.0" x2="1114.4" y2="968.0" stroke="#4a4a4a" stroke-width="1.1"/>
<path d="M1138.5,1030.3 L1142.5,1037.5 L1134.5,1037.5Z" fill="#000"/>
<path d="M1146.9,1040.1 L1150.9,1047.3 L1142.9,1047.3Z" fill="#000"/>
<path d="M1130.3,1046.4 L1134.3,1053.6 L1126.3,1053.6Z" fill="#000"/>
<path d="M1138.5,1047.2 L1142.5,1054.4 L1134.5,1054.4Z" fill="#000"/>
<path d="M1146.9,1051.3 L1150.9,1058.5 L1142.9,1058.5Z" fill="#000"/>
<path d="M1130.3,1054.4 L1134.3,1061.6 L1126.3,1061.6Z" fill="#000"/>
<line x1="1138.5" y1="1045.1" x2="1138.5" y2="1051.4" stroke="#4a4a4a" stroke-width="1.1"/>
<line x1="1132.5" y1="1045.1" x2="1144.5" y2="1045.1" stroke="#4a4a4a" stroke-width="1.1"/>
<line x1="1132.5" y1="1051.4" x2="1144.5" y2="1051.4" stroke="#4a4a4a" stroke-width="1.1"/>
<line x1="1126.5" y1="1047.8" x2="1150.5" y2="1047.8" stroke="#4a4a4a" stroke-width="1.1"/>
<path d="M1166.1,1018.8 L1170.1,1011.6 L1162.1,1011.6Z" fill="#000"/>
<path d="M1183.1,1012.6 L1187.1,1005.4 L1179.1,1005.4Z" fill="#000"/>
<path d="M1183.1,1025.0 L1187.1,1017.8 L1179.1,1017.8Z" fill="#000"/>
<path d="M1166.1,1041.1 L1170.1,1033.9 L1162.1,1033.9Z" fill="#000"/>
<path d="M1183.1,1045.5 L1187.1,1038.3 L1179.1,1038.3Z" fill="#000"/>
<path d="M1174.5,1054.4 L1178.5,1047.2 L1170.5,1047.2Z" fill="#000"/>
<line x1="1174.5" y1="1023.2" x2="1174.5" y2="1036.1" stroke="#4a4a4a" stroke-width="1.1"/>
<line x1="1168.5" y1="1023.2" x2="1180.5" y2="1023.2" stroke="#4a4a4a" stroke-width="1.1"/>
<line x1="1168.5" y1="1036.1" x2="1180.5" y2="1036.1" stroke="#4a4a4a" stroke-width="1.1"/>
<line x1="1162.5" y1="1029.8" x2="1186.5" y2="1029.8" stroke="#4a4a4a" stroke-width="1.1"/>
<text x="1071.9" y="1089.1" font-size="15" text-anchor="end" fill="#231f20" transform="rotate(-45 1071.9 1089.1)"><tspan>WT</tspan></text>
<text x="1107.9" y="1089.1" font-size="15" text-anchor="end" fill="#231f20" transform="rotate(-45 1107.9 1089.1)"><tspan font-style="italic">Eμ-myc</tspan></text>
<text x="1144.0" y="1089.1" font-size="15" text-anchor="end" fill="#231f20" transform="rotate(-45 1144.0 1089.1)"><tspan font-style="italic">Casp1</tspan><tspan font-size="9.3" dy="-5.7" font-style="italic" letter-spacing="-1.30">−/−</tspan><tspan dy="5.7"> </tspan><tspan font-style="italic">Casp11</tspan><tspan font-size="9.3" dy="-5.7" font-style="italic" letter-spacing="-1.30">−/−</tspan></text>
<text x="1183.5" y="1092.6" font-size="15" text-anchor="end" fill="#231f20" transform="rotate(-45 1183.5 1092.6)"><tspan font-style="italic">Casp1</tspan><tspan font-size="9.3" dy="-5.7" font-style="italic" letter-spacing="-1.30">−/−</tspan><tspan dy="5.7"> </tspan><tspan font-style="italic">Casp11</tspan><tspan font-size="9.3" dy="-5.7" font-style="italic" letter-spacing="-1.30">−/−</tspan></text>
<text x="1131.5" y="1123.5" font-size="15" text-anchor="middle" fill="#231f20" transform="rotate(-45 1131.5 1123.5)"><tspan font-style="italic">Eμ-myc</tspan></text>
</svg>
</body></html>
